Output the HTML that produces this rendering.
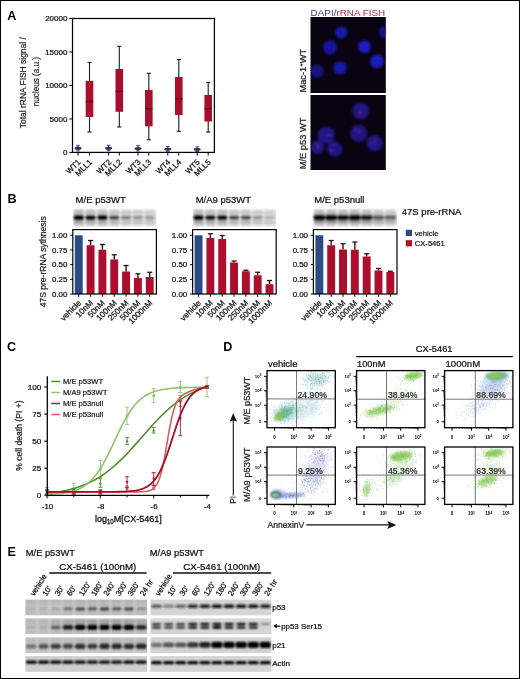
<!DOCTYPE html>
<html lang="en"><head><meta charset="utf-8"><title>Figure</title>
<style>html,body{margin:0;padding:0;background:#fff;}body{width:520px;height:679px;overflow:hidden;}svg{display:block;font-family:"Liberation Sans",sans-serif;}</style>
</head><body>
<svg width="520" height="679" viewBox="0 0 520 679">
<defs><filter id="blurN" x="-50%" y="-50%" width="200%" height="200%"><feGaussianBlur stdDeviation="1.5"/></filter>
<filter id="blurD" x="-50%" y="-50%" width="200%" height="200%"><feGaussianBlur stdDeviation="0.8"/></filter>
<clipPath id="clipT"><rect x="310.5" y="17" width="75.3" height="76"/></clipPath>
<clipPath id="clipBm"><rect x="310.5" y="95" width="75.3" height="75"/></clipPath>
<filter id="blurB" x="-20%" y="-50%" width="140%" height="200%"><feGaussianBlur stdDeviation="0.9"/></filter>
<linearGradient id="gstrip" x1="0" y1="0" x2="0" y2="1"><stop offset="0" stop-color="#fff"/><stop offset="0.2" stop-color="#e4e4e4"/><stop offset="0.8" stop-color="#e0e0e0"/><stop offset="1" stop-color="#fff"/></linearGradient>
<filter id="blurF1" x="-50%" y="-50%" width="200%" height="200%"><feGaussianBlur stdDeviation="0.85"/></filter>
<filter id="blurF2" x="-50%" y="-50%" width="200%" height="200%"><feGaussianBlur stdDeviation="1.6"/></filter>
<filter id="blurF3" x="-50%" y="-50%" width="200%" height="200%"><feGaussianBlur stdDeviation="3"/></filter>
<clipPath id="cf00"><rect x="267.0" y="370.6" width="68.3" height="57.1"/></clipPath>
<clipPath id="cf01"><rect x="267.0" y="447.0" width="68.3" height="57.4"/></clipPath>
<clipPath id="cf10"><rect x="356.6" y="370.6" width="68.3" height="57.1"/></clipPath>
<clipPath id="cf11"><rect x="356.6" y="447.0" width="68.3" height="57.4"/></clipPath>
<clipPath id="cf20"><rect x="444.6" y="370.6" width="68.3" height="57.1"/></clipPath>
<clipPath id="cf21"><rect x="444.6" y="447.0" width="68.3" height="57.4"/></clipPath>
<filter id="blurE" x="-10%" y="-60%" width="120%" height="220%"><feGaussianBlur stdDeviation="0.95"/></filter>
<clipPath id="cs1"><rect x="25.3" y="599.6" width="121.9" height="15.7"/></clipPath>
<clipPath id="cs2"><rect x="25.3" y="618.4" width="121.9" height="15.7"/></clipPath>
<clipPath id="cs3"><rect x="25.3" y="637.3" width="121.9" height="15.7"/></clipPath>
<clipPath id="cs4"><rect x="25.3" y="656.1" width="121.9" height="15.7"/></clipPath>
<clipPath id="cs5"><rect x="150.4" y="599.6" width="121.0" height="15.7"/></clipPath>
<clipPath id="cs6"><rect x="150.4" y="618.4" width="121.0" height="15.7"/></clipPath>
<clipPath id="cs7"><rect x="150.4" y="637.3" width="121.0" height="15.7"/></clipPath>
<clipPath id="cs8"><rect x="150.4" y="656.1" width="121.0" height="15.7"/></clipPath></defs>
<rect x="0" y="0" width="520" height="679" fill="#fff"/>
<g id="panelA">
<text transform="translate(7.30,20.20)" font-size="12.6" text-anchor="start" font-weight="bold" fill="#000">A</text>
<line x1="69.30" y1="152.40" x2="72.50" y2="152.40" stroke="#000" stroke-width="1"/>
<text transform="translate(67.40,155.15)" font-size="8.0" text-anchor="end" fill="#111" stroke="#111" stroke-width="0.24">0</text>
<line x1="69.30" y1="118.93" x2="72.50" y2="118.93" stroke="#000" stroke-width="1"/>
<text transform="translate(67.40,121.68)" font-size="8.0" text-anchor="end" fill="#111" stroke="#111" stroke-width="0.24">5000</text>
<line x1="69.30" y1="85.45" x2="72.50" y2="85.45" stroke="#000" stroke-width="1"/>
<text transform="translate(67.40,88.20)" font-size="8.0" text-anchor="end" fill="#111" stroke="#111" stroke-width="0.24">10000</text>
<line x1="69.30" y1="51.98" x2="72.50" y2="51.98" stroke="#000" stroke-width="1"/>
<text transform="translate(67.40,54.73)" font-size="8.0" text-anchor="end" fill="#111" stroke="#111" stroke-width="0.24">15000</text>
<line x1="69.30" y1="18.50" x2="72.50" y2="18.50" stroke="#000" stroke-width="1"/>
<text transform="translate(67.40,21.25)" font-size="8.0" text-anchor="end" fill="#111" stroke="#111" stroke-width="0.24">20000</text>
<text transform="translate(26.40,82.70) rotate(-90) scale(0.908,1)" font-size="9.3" text-anchor="middle" fill="#222" stroke="#222" stroke-width="0.2">Total rRNA FISH signal /</text>
<text transform="translate(38.90,81.60) rotate(-90) scale(0.872,1)" font-size="9.3" text-anchor="middle" fill="#222" stroke="#222" stroke-width="0.2">nucleus (a.u.)</text>
<line x1="89.50" y1="62.50" x2="89.50" y2="132.00" stroke="#1a1a1a" stroke-width="1.1"/>
<line x1="87.40" y1="62.50" x2="91.60" y2="62.50" stroke="#1a1a1a" stroke-width="1.1"/>
<line x1="87.40" y1="132.00" x2="91.60" y2="132.00" stroke="#1a1a1a" stroke-width="1.1"/>
<rect x="85.70" y="80.80" width="7.60" height="36.20" fill="#a80f2e" stroke="none" stroke-width="1"/>
<line x1="85.70" y1="101.50" x2="93.30" y2="101.50" stroke="#5e0a1c" stroke-width="1.3"/>
<line x1="119.30" y1="46.30" x2="119.30" y2="127.00" stroke="#1a1a1a" stroke-width="1.1"/>
<line x1="117.20" y1="46.30" x2="121.40" y2="46.30" stroke="#1a1a1a" stroke-width="1.1"/>
<line x1="117.20" y1="127.00" x2="121.40" y2="127.00" stroke="#1a1a1a" stroke-width="1.1"/>
<rect x="115.50" y="69.00" width="7.60" height="42.80" fill="#a80f2e" stroke="none" stroke-width="1"/>
<line x1="115.50" y1="91.30" x2="123.10" y2="91.30" stroke="#5e0a1c" stroke-width="1.3"/>
<line x1="148.80" y1="73.30" x2="148.80" y2="139.80" stroke="#1a1a1a" stroke-width="1.1"/>
<line x1="146.70" y1="73.30" x2="150.90" y2="73.30" stroke="#1a1a1a" stroke-width="1.1"/>
<line x1="146.70" y1="139.80" x2="150.90" y2="139.80" stroke="#1a1a1a" stroke-width="1.1"/>
<rect x="145.00" y="90.00" width="7.60" height="36.30" fill="#a80f2e" stroke="none" stroke-width="1"/>
<line x1="145.00" y1="108.80" x2="152.60" y2="108.80" stroke="#5e0a1c" stroke-width="1.3"/>
<line x1="178.80" y1="59.50" x2="178.80" y2="131.30" stroke="#1a1a1a" stroke-width="1.1"/>
<line x1="176.70" y1="59.50" x2="180.90" y2="59.50" stroke="#1a1a1a" stroke-width="1.1"/>
<line x1="176.70" y1="131.30" x2="180.90" y2="131.30" stroke="#1a1a1a" stroke-width="1.1"/>
<rect x="175.00" y="77.00" width="7.60" height="38.00" fill="#a80f2e" stroke="none" stroke-width="1"/>
<line x1="175.00" y1="98.80" x2="182.60" y2="98.80" stroke="#5e0a1c" stroke-width="1.3"/>
<line x1="208.20" y1="82.50" x2="208.20" y2="132.00" stroke="#1a1a1a" stroke-width="1.1"/>
<line x1="206.10" y1="82.50" x2="210.30" y2="82.50" stroke="#1a1a1a" stroke-width="1.1"/>
<line x1="206.10" y1="132.00" x2="210.30" y2="132.00" stroke="#1a1a1a" stroke-width="1.1"/>
<rect x="204.40" y="95.00" width="7.60" height="26.50" fill="#a80f2e" stroke="none" stroke-width="1"/>
<line x1="204.40" y1="108.80" x2="212.00" y2="108.80" stroke="#5e0a1c" stroke-width="1.3"/>
<line x1="78.00" y1="145.30" x2="78.00" y2="150.90" stroke="#27345e" stroke-width="1"/>
<line x1="76.20" y1="145.30" x2="79.80" y2="145.30" stroke="#27345e" stroke-width="0.9"/>
<line x1="76.20" y1="150.90" x2="79.80" y2="150.90" stroke="#27345e" stroke-width="0.9"/>
<ellipse cx="78" cy="148.30" rx="3.5" ry="1.70" fill="#27345e"/>
<line x1="108.60" y1="145.30" x2="108.60" y2="150.80" stroke="#27345e" stroke-width="1"/>
<line x1="106.80" y1="145.30" x2="110.40" y2="145.30" stroke="#27345e" stroke-width="0.9"/>
<line x1="106.80" y1="150.80" x2="110.40" y2="150.80" stroke="#27345e" stroke-width="0.9"/>
<ellipse cx="108.6" cy="148.30" rx="3.5" ry="1.70" fill="#27345e"/>
<line x1="138.00" y1="145.60" x2="138.00" y2="151.00" stroke="#27345e" stroke-width="1"/>
<line x1="136.20" y1="145.60" x2="139.80" y2="145.60" stroke="#27345e" stroke-width="0.9"/>
<line x1="136.20" y1="151.00" x2="139.80" y2="151.00" stroke="#27345e" stroke-width="0.9"/>
<ellipse cx="138" cy="148.55" rx="3.5" ry="1.65" fill="#27345e"/>
<line x1="167.80" y1="146.60" x2="167.80" y2="151.30" stroke="#27345e" stroke-width="1"/>
<line x1="166.00" y1="146.60" x2="169.60" y2="146.60" stroke="#27345e" stroke-width="0.9"/>
<line x1="166.00" y1="151.30" x2="169.60" y2="151.30" stroke="#27345e" stroke-width="0.9"/>
<ellipse cx="167.8" cy="149.15" rx="3.5" ry="1.45" fill="#27345e"/>
<line x1="197.20" y1="146.90" x2="197.20" y2="151.50" stroke="#27345e" stroke-width="1"/>
<line x1="195.40" y1="146.90" x2="199.00" y2="146.90" stroke="#27345e" stroke-width="0.9"/>
<line x1="195.40" y1="151.50" x2="199.00" y2="151.50" stroke="#27345e" stroke-width="0.9"/>
<ellipse cx="197.2" cy="149.40" rx="3.5" ry="1.40" fill="#27345e"/>
<rect x="72.50" y="18.50" width="141.90" height="133.90" fill="none" stroke="#000" stroke-width="1.25"/>
<line x1="78.00" y1="152.40" x2="78.00" y2="155.60" stroke="#000" stroke-width="1"/>
<text transform="translate(81.20,162.60) rotate(-45)" font-size="8.0" text-anchor="end" fill="#111" stroke="#111" stroke-width="0.24">WT1</text>
<line x1="108.60" y1="152.40" x2="108.60" y2="155.60" stroke="#000" stroke-width="1"/>
<text transform="translate(111.80,162.60) rotate(-45)" font-size="8.0" text-anchor="end" fill="#111" stroke="#111" stroke-width="0.24">WT2</text>
<line x1="138.00" y1="152.40" x2="138.00" y2="155.60" stroke="#000" stroke-width="1"/>
<text transform="translate(141.20,162.60) rotate(-45)" font-size="8.0" text-anchor="end" fill="#111" stroke="#111" stroke-width="0.24">WT3</text>
<line x1="167.80" y1="152.40" x2="167.80" y2="155.60" stroke="#000" stroke-width="1"/>
<text transform="translate(171.00,162.60) rotate(-45)" font-size="8.0" text-anchor="end" fill="#111" stroke="#111" stroke-width="0.24">WT4</text>
<line x1="197.20" y1="152.40" x2="197.20" y2="155.60" stroke="#000" stroke-width="1"/>
<text transform="translate(200.40,162.60) rotate(-45)" font-size="8.0" text-anchor="end" fill="#111" stroke="#111" stroke-width="0.24">WT5</text>
<line x1="89.50" y1="152.40" x2="89.50" y2="155.60" stroke="#000" stroke-width="1"/>
<text transform="translate(92.70,162.60) rotate(-45)" font-size="8.0" text-anchor="end" fill="#111" stroke="#111" stroke-width="0.24">MLL1</text>
<line x1="119.30" y1="152.40" x2="119.30" y2="155.60" stroke="#000" stroke-width="1"/>
<text transform="translate(122.50,162.60) rotate(-45)" font-size="8.0" text-anchor="end" fill="#111" stroke="#111" stroke-width="0.24">MLL2</text>
<line x1="148.80" y1="152.40" x2="148.80" y2="155.60" stroke="#000" stroke-width="1"/>
<text transform="translate(152.00,162.60) rotate(-45)" font-size="8.0" text-anchor="end" fill="#111" stroke="#111" stroke-width="0.24">MLL3</text>
<line x1="178.80" y1="152.40" x2="178.80" y2="155.60" stroke="#000" stroke-width="1"/>
<text transform="translate(182.00,162.60) rotate(-45)" font-size="8.0" text-anchor="end" fill="#111" stroke="#111" stroke-width="0.24">MLL4</text>
<line x1="208.20" y1="152.40" x2="208.20" y2="155.60" stroke="#000" stroke-width="1"/>
<text transform="translate(211.40,162.60) rotate(-45)" font-size="8.0" text-anchor="end" fill="#111" stroke="#111" stroke-width="0.24">MLL5</text>
</g>
<g id="panelA2">
<text transform="translate(310.6,15.5)" font-size="9.9"><tspan fill="#3a3885">DAPI/</tspan><tspan fill="#a22c56">rRNA FISH</tspan></text>
<rect x="310.50" y="17.00" width="75.30" height="76.00" fill="#090312" stroke="none" stroke-width="1"/>
<rect x="310.50" y="95.00" width="75.30" height="75.00" fill="#090312" stroke="none" stroke-width="1"/>
<g clip-path="url(#clipT)"><g filter="url(#blurN)">
<circle cx="341.25" cy="32.5" r="6" fill="#1b1dc0" opacity="0.9"/>
<circle cx="330" cy="47.5" r="7" fill="#191bb0" opacity="0.9"/>
<circle cx="364.5" cy="46.75" r="6.3" fill="#1c1fd0" opacity="0.95"/>
<circle cx="377" cy="61.25" r="6.9" fill="#1b1dc8" opacity="0.95"/>
<circle cx="340" cy="68" r="6.5" fill="#1a1cbc" opacity="0.9"/>
<circle cx="317" cy="71.25" r="6.5" fill="#16189c" opacity="0.8"/>
<circle cx="384.5" cy="32" r="5.5" fill="#181ab0" opacity="0.85"/>
</g></g>
<g clip-path="url(#clipBm)"><g filter="url(#blurN)">
<circle cx="360.7" cy="110.8" r="8.4" fill="#261ca4" opacity="0.8"/>
<circle cx="326.3" cy="135" r="8.6" fill="#261ca4" opacity="0.8"/>
<circle cx="358.6" cy="133.4" r="8.4" fill="#261ca4" opacity="0.8"/>
<circle cx="374.6" cy="143.2" r="8" fill="#261ca4" opacity="0.8"/>
<circle cx="317.5" cy="147.3" r="6.8" fill="#261ca4" opacity="0.8"/>
<circle cx="334.6" cy="148.8" r="7.6" fill="#261ca4" opacity="0.8"/>
</g><g filter="url(#blurD)">
<circle cx="360.9" cy="113.5" r="0.75" fill="#e0406a" opacity="0.85"/>
<circle cx="358.6" cy="113.0" r="0.75" fill="#e0406a" opacity="0.85"/>
<circle cx="360.5" cy="110.6" r="0.75" fill="#e0406a" opacity="0.85"/>
<circle cx="330.6" cy="135.4" r="0.75" fill="#e0406a" opacity="0.85"/>
<circle cx="326.2" cy="136.2" r="0.75" fill="#e0406a" opacity="0.85"/>
<circle cx="328.7" cy="134.9" r="0.75" fill="#e0406a" opacity="0.85"/>
<circle cx="359.8" cy="131.3" r="0.75" fill="#e0406a" opacity="0.85"/>
<circle cx="358.1" cy="132.8" r="0.75" fill="#e0406a" opacity="0.85"/>
<circle cx="355.7" cy="130.1" r="0.75" fill="#e0406a" opacity="0.85"/>
<circle cx="371.1" cy="142.7" r="0.75" fill="#e0406a" opacity="0.85"/>
<circle cx="374.5" cy="142.9" r="0.75" fill="#e0406a" opacity="0.85"/>
<circle cx="374.7" cy="140.4" r="0.75" fill="#e0406a" opacity="0.85"/>
<circle cx="317.5" cy="147.4" r="0.75" fill="#e0406a" opacity="0.85"/>
<circle cx="318.8" cy="145.9" r="0.75" fill="#e0406a" opacity="0.85"/>
<circle cx="316.8" cy="143.8" r="0.75" fill="#e0406a" opacity="0.85"/>
<circle cx="333.7" cy="144.7" r="0.75" fill="#e0406a" opacity="0.85"/>
<circle cx="331.7" cy="151.0" r="0.75" fill="#e0406a" opacity="0.85"/>
<circle cx="330.6" cy="150.3" r="0.75" fill="#e0406a" opacity="0.85"/>
</g></g>
<text transform="translate(305.60,92.60) rotate(-90)" font-size="9.3" text-anchor="start" fill="#222" stroke="#222" stroke-width="0.24">Mac-1<tspan font-size="6" dy="-2.5">+</tspan><tspan dy="2.5">WT</tspan></text>
<text transform="translate(305.60,169.30) rotate(-90)" font-size="9.3" text-anchor="start" fill="#222" stroke="#222" stroke-width="0.24">M/E p53 WT</text>
</g>
<g id="panelB">
<text transform="translate(7.40,203.30)" font-size="12.6" text-anchor="start" font-weight="bold" fill="#000">B</text>
<text transform="translate(45.50,261.80) rotate(-90) scale(0.9,1)" font-size="9.5" text-anchor="middle" fill="#222" stroke="#222" stroke-width="0.22">47S pre-rRNA sythnesis</text>
<text transform="translate(75.60,203.30)" font-size="9.5" text-anchor="start" fill="#111" stroke="#111" stroke-width="0.24">M/E p53WT</text>
<rect x="73.30" y="208.50" width="83.10" height="19.00" fill="url(#gstrip)" stroke="none" stroke-width="1"/>
<g filter="url(#blurB)">
<rect x="73.95" y="209.3" width="9.6" height="17.2" fill="#666" opacity="0.24"/>
<rect x="74.15" y="210" width="9.2" height="1.2" fill="#555" opacity="0.22"/>
<rect x="74.15" y="212.4" width="9.2" height="1.1" fill="#555" opacity="0.18"/>
<rect x="74.35" y="220.5" width="8.8" height="2.6" fill="#444" opacity="0.27"/>
<rect x="73.75" y="215.30" width="10.0" height="4.60" rx="2" fill="#000" opacity="1.00"/>
<rect x="85.78" y="209.3" width="9.6" height="17.2" fill="#666" opacity="0.22"/>
<rect x="85.98" y="210" width="9.2" height="1.2" fill="#555" opacity="0.21"/>
<rect x="85.98" y="212.4" width="9.2" height="1.1" fill="#555" opacity="0.17"/>
<rect x="86.18" y="220.5" width="8.8" height="2.6" fill="#444" opacity="0.25"/>
<rect x="85.58" y="215.40" width="10.0" height="4.40" rx="2" fill="#000" opacity="0.99"/>
<rect x="97.61" y="209.3" width="9.6" height="17.2" fill="#666" opacity="0.23"/>
<rect x="97.81" y="210" width="9.2" height="1.2" fill="#555" opacity="0.21"/>
<rect x="97.81" y="212.4" width="9.2" height="1.1" fill="#555" opacity="0.17"/>
<rect x="98.01" y="220.5" width="8.8" height="2.6" fill="#444" opacity="0.26"/>
<rect x="97.41" y="215.35" width="10.0" height="4.50" rx="2" fill="#000" opacity="1.00"/>
<rect x="109.44" y="209.3" width="9.6" height="17.2" fill="#666" opacity="0.18"/>
<rect x="109.64" y="210" width="9.2" height="1.2" fill="#555" opacity="0.17"/>
<rect x="109.64" y="212.4" width="9.2" height="1.1" fill="#555" opacity="0.14"/>
<rect x="109.84" y="220.5" width="8.8" height="2.6" fill="#444" opacity="0.18"/>
<rect x="109.24" y="215.70" width="10.0" height="3.80" rx="2" fill="#000" opacity="0.66"/>
<rect x="121.27" y="209.3" width="9.6" height="17.2" fill="#666" opacity="0.14"/>
<rect x="121.47" y="210" width="9.2" height="1.2" fill="#555" opacity="0.15"/>
<rect x="121.47" y="212.4" width="9.2" height="1.1" fill="#555" opacity="0.12"/>
<rect x="121.67" y="220.5" width="8.8" height="2.6" fill="#444" opacity="0.14"/>
<rect x="121.07" y="215.90" width="10.0" height="3.40" rx="2" fill="#000" opacity="0.44"/>
<rect x="133.10" y="209.3" width="9.6" height="17.2" fill="#666" opacity="0.13"/>
<rect x="133.30" y="210" width="9.2" height="1.2" fill="#555" opacity="0.14"/>
<rect x="133.30" y="212.4" width="9.2" height="1.1" fill="#555" opacity="0.11"/>
<rect x="133.50" y="220.5" width="8.8" height="2.6" fill="#444" opacity="0.12"/>
<rect x="132.90" y="216.00" width="10.0" height="3.20" rx="2" fill="#000" opacity="0.33"/>
<rect x="144.93" y="209.3" width="9.6" height="17.2" fill="#666" opacity="0.12"/>
<rect x="145.13" y="210" width="9.2" height="1.2" fill="#555" opacity="0.13"/>
<rect x="145.13" y="212.4" width="9.2" height="1.1" fill="#555" opacity="0.11"/>
<rect x="145.33" y="220.5" width="8.8" height="2.6" fill="#444" opacity="0.11"/>
<rect x="144.73" y="216.05" width="10.0" height="3.10" rx="2" fill="#000" opacity="0.28"/>
</g>
<rect x="74.80" y="235.30" width="7.90" height="58.70" fill="#2c4a86" stroke="none" stroke-width="1"/>
<line x1="90.58" y1="245.25" x2="90.58" y2="240.50" stroke="#3a0a14" stroke-width="1.4"/>
<line x1="88.08" y1="240.50" x2="93.08" y2="240.50" stroke="#3a0a14" stroke-width="1.3"/>
<rect x="86.63" y="245.25" width="7.90" height="48.75" fill="#ac0f2d" stroke="none" stroke-width="1"/>
<line x1="102.41" y1="249.75" x2="102.41" y2="244.50" stroke="#3a0a14" stroke-width="1.4"/>
<line x1="99.91" y1="244.50" x2="104.91" y2="244.50" stroke="#3a0a14" stroke-width="1.3"/>
<rect x="98.46" y="249.75" width="7.90" height="44.25" fill="#ac0f2d" stroke="none" stroke-width="1"/>
<line x1="114.24" y1="259.50" x2="114.24" y2="254.75" stroke="#3a0a14" stroke-width="1.4"/>
<line x1="111.74" y1="254.75" x2="116.74" y2="254.75" stroke="#3a0a14" stroke-width="1.3"/>
<rect x="110.29" y="259.50" width="7.90" height="34.50" fill="#ac0f2d" stroke="none" stroke-width="1"/>
<line x1="126.07" y1="271.50" x2="126.07" y2="265.50" stroke="#3a0a14" stroke-width="1.4"/>
<line x1="123.57" y1="265.50" x2="128.57" y2="265.50" stroke="#3a0a14" stroke-width="1.3"/>
<rect x="122.12" y="271.50" width="7.90" height="22.50" fill="#ac0f2d" stroke="none" stroke-width="1"/>
<line x1="137.90" y1="278.00" x2="137.90" y2="273.75" stroke="#3a0a14" stroke-width="1.4"/>
<line x1="135.40" y1="273.75" x2="140.40" y2="273.75" stroke="#3a0a14" stroke-width="1.3"/>
<rect x="133.95" y="278.00" width="7.90" height="16.00" fill="#ac0f2d" stroke="none" stroke-width="1"/>
<line x1="149.73" y1="277.00" x2="149.73" y2="272.25" stroke="#3a0a14" stroke-width="1.4"/>
<line x1="147.23" y1="272.25" x2="152.23" y2="272.25" stroke="#3a0a14" stroke-width="1.3"/>
<rect x="145.78" y="277.00" width="7.90" height="17.00" fill="#ac0f2d" stroke="none" stroke-width="1"/>
<rect x="72.80" y="229.60" width="83.60" height="64.40" fill="none" stroke="#000" stroke-width="1.2"/>
<line x1="78.75" y1="294.00" x2="78.75" y2="296.80" stroke="#000" stroke-width="1"/>
<text transform="translate(81.75,303.40) rotate(-45)" font-size="8.2" text-anchor="end" fill="#111" stroke="#111" stroke-width="0.24">vehicle</text>
<line x1="90.58" y1="294.00" x2="90.58" y2="296.80" stroke="#000" stroke-width="1"/>
<text transform="translate(93.58,303.40) rotate(-45)" font-size="8.2" text-anchor="end" fill="#111" stroke="#111" stroke-width="0.24">10nM</text>
<line x1="102.41" y1="294.00" x2="102.41" y2="296.80" stroke="#000" stroke-width="1"/>
<text transform="translate(105.41,303.40) rotate(-45)" font-size="8.2" text-anchor="end" fill="#111" stroke="#111" stroke-width="0.24">50nM</text>
<line x1="114.24" y1="294.00" x2="114.24" y2="296.80" stroke="#000" stroke-width="1"/>
<text transform="translate(117.24,303.40) rotate(-45)" font-size="8.2" text-anchor="end" fill="#111" stroke="#111" stroke-width="0.24">100nM</text>
<line x1="126.07" y1="294.00" x2="126.07" y2="296.80" stroke="#000" stroke-width="1"/>
<text transform="translate(129.07,303.40) rotate(-45)" font-size="8.2" text-anchor="end" fill="#111" stroke="#111" stroke-width="0.24">250nM</text>
<line x1="137.90" y1="294.00" x2="137.90" y2="296.80" stroke="#000" stroke-width="1"/>
<text transform="translate(140.90,303.40) rotate(-45)" font-size="8.2" text-anchor="end" fill="#111" stroke="#111" stroke-width="0.24">500nM</text>
<line x1="149.73" y1="294.00" x2="149.73" y2="296.80" stroke="#000" stroke-width="1"/>
<text transform="translate(152.73,303.40) rotate(-45)" font-size="8.2" text-anchor="end" fill="#111" stroke="#111" stroke-width="0.24">1000nM</text>
<line x1="70.20" y1="294.00" x2="72.80" y2="294.00" stroke="#000" stroke-width="1"/>
<text transform="translate(67.40,296.80)" font-size="7.9" text-anchor="end" fill="#111" stroke="#111" stroke-width="0.24">0.00</text>
<line x1="70.20" y1="279.32" x2="72.80" y2="279.32" stroke="#000" stroke-width="1"/>
<text transform="translate(67.40,282.12)" font-size="7.9" text-anchor="end" fill="#111" stroke="#111" stroke-width="0.24">0.25</text>
<line x1="70.20" y1="264.65" x2="72.80" y2="264.65" stroke="#000" stroke-width="1"/>
<text transform="translate(67.40,267.45)" font-size="7.9" text-anchor="end" fill="#111" stroke="#111" stroke-width="0.24">0.50</text>
<line x1="70.20" y1="249.98" x2="72.80" y2="249.98" stroke="#000" stroke-width="1"/>
<text transform="translate(67.40,252.78)" font-size="7.9" text-anchor="end" fill="#111" stroke="#111" stroke-width="0.24">0.75</text>
<line x1="70.20" y1="235.30" x2="72.80" y2="235.30" stroke="#000" stroke-width="1"/>
<text transform="translate(67.40,238.10)" font-size="7.9" text-anchor="end" fill="#111" stroke="#111" stroke-width="0.24">1.00</text>
<text transform="translate(195.70,203.30)" font-size="9.5" text-anchor="start" fill="#111" stroke="#111" stroke-width="0.24">M/A9 p53WT</text>
<rect x="193.10" y="208.50" width="83.10" height="19.00" fill="url(#gstrip)" stroke="none" stroke-width="1"/>
<g filter="url(#blurB)">
<rect x="193.75" y="209.3" width="9.6" height="17.2" fill="#666" opacity="0.24"/>
<rect x="193.95" y="210" width="9.2" height="1.2" fill="#555" opacity="0.22"/>
<rect x="193.95" y="212.4" width="9.2" height="1.1" fill="#555" opacity="0.18"/>
<rect x="194.15" y="220.5" width="8.8" height="2.6" fill="#444" opacity="0.27"/>
<rect x="193.55" y="215.30" width="10.0" height="4.60" rx="2" fill="#000" opacity="1.00"/>
<rect x="205.58" y="209.3" width="9.6" height="17.2" fill="#666" opacity="0.22"/>
<rect x="205.78" y="210" width="9.2" height="1.2" fill="#555" opacity="0.20"/>
<rect x="205.78" y="212.4" width="9.2" height="1.1" fill="#555" opacity="0.17"/>
<rect x="205.98" y="220.5" width="8.8" height="2.6" fill="#444" opacity="0.24"/>
<rect x="205.38" y="215.45" width="10.0" height="4.30" rx="2" fill="#000" opacity="0.94"/>
<rect x="217.41" y="209.3" width="9.6" height="17.2" fill="#666" opacity="0.22"/>
<rect x="217.61" y="210" width="9.2" height="1.2" fill="#555" opacity="0.21"/>
<rect x="217.61" y="212.4" width="9.2" height="1.1" fill="#555" opacity="0.17"/>
<rect x="217.81" y="220.5" width="8.8" height="2.6" fill="#444" opacity="0.25"/>
<rect x="217.21" y="215.40" width="10.0" height="4.40" rx="2" fill="#000" opacity="0.99"/>
<rect x="229.24" y="209.3" width="9.6" height="17.2" fill="#666" opacity="0.18"/>
<rect x="229.44" y="210" width="9.2" height="1.2" fill="#555" opacity="0.17"/>
<rect x="229.44" y="212.4" width="9.2" height="1.1" fill="#555" opacity="0.14"/>
<rect x="229.64" y="220.5" width="8.8" height="2.6" fill="#444" opacity="0.18"/>
<rect x="229.04" y="215.70" width="10.0" height="3.80" rx="2" fill="#000" opacity="0.66"/>
<rect x="241.07" y="209.3" width="9.6" height="17.2" fill="#666" opacity="0.17"/>
<rect x="241.27" y="210" width="9.2" height="1.2" fill="#555" opacity="0.17"/>
<rect x="241.27" y="212.4" width="9.2" height="1.1" fill="#555" opacity="0.14"/>
<rect x="241.47" y="220.5" width="8.8" height="2.6" fill="#444" opacity="0.17"/>
<rect x="240.87" y="215.75" width="10.0" height="3.70" rx="2" fill="#000" opacity="0.61"/>
<rect x="252.90" y="209.3" width="9.6" height="17.2" fill="#666" opacity="0.13"/>
<rect x="253.10" y="210" width="9.2" height="1.2" fill="#555" opacity="0.14"/>
<rect x="253.10" y="212.4" width="9.2" height="1.1" fill="#555" opacity="0.11"/>
<rect x="253.30" y="220.5" width="8.8" height="2.6" fill="#444" opacity="0.12"/>
<rect x="252.70" y="216.00" width="10.0" height="3.20" rx="2" fill="#000" opacity="0.33"/>
<rect x="264.73" y="209.3" width="9.6" height="17.2" fill="#666" opacity="0.10"/>
<rect x="264.93" y="210" width="9.2" height="1.2" fill="#555" opacity="0.12"/>
<rect x="264.93" y="212.4" width="9.2" height="1.1" fill="#555" opacity="0.10"/>
<rect x="265.13" y="220.5" width="8.8" height="2.6" fill="#444" opacity="0.08"/>
<rect x="264.53" y="216.15" width="10.0" height="2.90" rx="2" fill="#000" opacity="0.17"/>
</g>
<rect x="194.60" y="235.30" width="7.90" height="58.70" fill="#2c4a86" stroke="none" stroke-width="1"/>
<line x1="210.38" y1="238.00" x2="210.38" y2="233.75" stroke="#3a0a14" stroke-width="1.4"/>
<line x1="207.88" y1="233.75" x2="212.88" y2="233.75" stroke="#3a0a14" stroke-width="1.3"/>
<rect x="206.43" y="238.00" width="7.90" height="56.00" fill="#ac0f2d" stroke="none" stroke-width="1"/>
<line x1="222.21" y1="239.00" x2="222.21" y2="235.50" stroke="#3a0a14" stroke-width="1.4"/>
<line x1="219.71" y1="235.50" x2="224.71" y2="235.50" stroke="#3a0a14" stroke-width="1.3"/>
<rect x="218.26" y="239.00" width="7.90" height="55.00" fill="#ac0f2d" stroke="none" stroke-width="1"/>
<line x1="234.04" y1="262.50" x2="234.04" y2="261.00" stroke="#3a0a14" stroke-width="1.4"/>
<line x1="231.54" y1="261.00" x2="236.54" y2="261.00" stroke="#3a0a14" stroke-width="1.3"/>
<rect x="230.09" y="262.50" width="7.90" height="31.50" fill="#ac0f2d" stroke="none" stroke-width="1"/>
<line x1="245.87" y1="271.25" x2="245.87" y2="270.25" stroke="#3a0a14" stroke-width="1.4"/>
<line x1="243.37" y1="270.25" x2="248.37" y2="270.25" stroke="#3a0a14" stroke-width="1.3"/>
<rect x="241.92" y="271.25" width="7.90" height="22.75" fill="#ac0f2d" stroke="none" stroke-width="1"/>
<line x1="257.70" y1="275.25" x2="257.70" y2="272.25" stroke="#3a0a14" stroke-width="1.4"/>
<line x1="255.20" y1="272.25" x2="260.20" y2="272.25" stroke="#3a0a14" stroke-width="1.3"/>
<rect x="253.75" y="275.25" width="7.90" height="18.75" fill="#ac0f2d" stroke="none" stroke-width="1"/>
<line x1="269.53" y1="284.25" x2="269.53" y2="280.50" stroke="#3a0a14" stroke-width="1.4"/>
<line x1="267.03" y1="280.50" x2="272.03" y2="280.50" stroke="#3a0a14" stroke-width="1.3"/>
<rect x="265.58" y="284.25" width="7.90" height="9.75" fill="#ac0f2d" stroke="none" stroke-width="1"/>
<rect x="192.60" y="229.60" width="83.60" height="64.40" fill="none" stroke="#000" stroke-width="1.2"/>
<line x1="198.55" y1="294.00" x2="198.55" y2="296.80" stroke="#000" stroke-width="1"/>
<text transform="translate(201.55,303.40) rotate(-45)" font-size="8.2" text-anchor="end" fill="#111" stroke="#111" stroke-width="0.24">vehicle</text>
<line x1="210.38" y1="294.00" x2="210.38" y2="296.80" stroke="#000" stroke-width="1"/>
<text transform="translate(213.38,303.40) rotate(-45)" font-size="8.2" text-anchor="end" fill="#111" stroke="#111" stroke-width="0.24">10nM</text>
<line x1="222.21" y1="294.00" x2="222.21" y2="296.80" stroke="#000" stroke-width="1"/>
<text transform="translate(225.21,303.40) rotate(-45)" font-size="8.2" text-anchor="end" fill="#111" stroke="#111" stroke-width="0.24">50nM</text>
<line x1="234.04" y1="294.00" x2="234.04" y2="296.80" stroke="#000" stroke-width="1"/>
<text transform="translate(237.04,303.40) rotate(-45)" font-size="8.2" text-anchor="end" fill="#111" stroke="#111" stroke-width="0.24">100nM</text>
<line x1="245.87" y1="294.00" x2="245.87" y2="296.80" stroke="#000" stroke-width="1"/>
<text transform="translate(248.87,303.40) rotate(-45)" font-size="8.2" text-anchor="end" fill="#111" stroke="#111" stroke-width="0.24">250nM</text>
<line x1="257.70" y1="294.00" x2="257.70" y2="296.80" stroke="#000" stroke-width="1"/>
<text transform="translate(260.70,303.40) rotate(-45)" font-size="8.2" text-anchor="end" fill="#111" stroke="#111" stroke-width="0.24">500nM</text>
<line x1="269.53" y1="294.00" x2="269.53" y2="296.80" stroke="#000" stroke-width="1"/>
<text transform="translate(272.53,303.40) rotate(-45)" font-size="8.2" text-anchor="end" fill="#111" stroke="#111" stroke-width="0.24">1000nM</text>
<line x1="190.00" y1="294.00" x2="192.60" y2="294.00" stroke="#000" stroke-width="1"/>
<text transform="translate(187.20,296.80)" font-size="7.9" text-anchor="end" fill="#111" stroke="#111" stroke-width="0.24">0.00</text>
<line x1="190.00" y1="279.32" x2="192.60" y2="279.32" stroke="#000" stroke-width="1"/>
<text transform="translate(187.20,282.12)" font-size="7.9" text-anchor="end" fill="#111" stroke="#111" stroke-width="0.24">0.25</text>
<line x1="190.00" y1="264.65" x2="192.60" y2="264.65" stroke="#000" stroke-width="1"/>
<text transform="translate(187.20,267.45)" font-size="7.9" text-anchor="end" fill="#111" stroke="#111" stroke-width="0.24">0.50</text>
<line x1="190.00" y1="249.98" x2="192.60" y2="249.98" stroke="#000" stroke-width="1"/>
<text transform="translate(187.20,252.78)" font-size="7.9" text-anchor="end" fill="#111" stroke="#111" stroke-width="0.24">0.75</text>
<line x1="190.00" y1="235.30" x2="192.60" y2="235.30" stroke="#000" stroke-width="1"/>
<text transform="translate(187.20,238.10)" font-size="7.9" text-anchor="end" fill="#111" stroke="#111" stroke-width="0.24">1.00</text>
<text transform="translate(314.30,203.30)" font-size="9.5" text-anchor="start" fill="#111" stroke="#111" stroke-width="0.24">M/E p53null</text>
<rect x="313.90" y="208.50" width="83.10" height="19.00" fill="url(#gstrip)" stroke="none" stroke-width="1"/>
<g filter="url(#blurB)">
<rect x="314.55" y="209.3" width="9.6" height="17.2" fill="#666" opacity="0.24"/>
<rect x="314.75" y="210" width="9.2" height="1.2" fill="#555" opacity="0.22"/>
<rect x="314.75" y="212.4" width="9.2" height="1.1" fill="#555" opacity="0.18"/>
<rect x="314.95" y="220.5" width="8.8" height="2.6" fill="#444" opacity="0.27"/>
<rect x="313.43" y="214" width="11.83" height="8.5" fill="#333" opacity="0.30"/>
<rect x="313.65" y="215.30" width="11.4" height="4.60" rx="2" fill="#000" opacity="1.00"/>
<rect x="326.38" y="209.3" width="9.6" height="17.2" fill="#666" opacity="0.24"/>
<rect x="326.58" y="210" width="9.2" height="1.2" fill="#555" opacity="0.22"/>
<rect x="326.58" y="212.4" width="9.2" height="1.1" fill="#555" opacity="0.18"/>
<rect x="326.78" y="220.5" width="8.8" height="2.6" fill="#444" opacity="0.27"/>
<rect x="325.26" y="214" width="11.83" height="8.5" fill="#333" opacity="0.30"/>
<rect x="325.48" y="215.30" width="11.4" height="4.60" rx="2" fill="#000" opacity="1.00"/>
<rect x="338.21" y="209.3" width="9.6" height="17.2" fill="#666" opacity="0.22"/>
<rect x="338.41" y="210" width="9.2" height="1.2" fill="#555" opacity="0.21"/>
<rect x="338.41" y="212.4" width="9.2" height="1.1" fill="#555" opacity="0.17"/>
<rect x="338.61" y="220.5" width="8.8" height="2.6" fill="#444" opacity="0.25"/>
<rect x="337.09" y="214" width="11.83" height="8.5" fill="#333" opacity="0.27"/>
<rect x="337.31" y="215.40" width="11.4" height="4.40" rx="2" fill="#000" opacity="0.99"/>
<rect x="350.04" y="209.3" width="9.6" height="17.2" fill="#666" opacity="0.24"/>
<rect x="350.24" y="210" width="9.2" height="1.2" fill="#555" opacity="0.22"/>
<rect x="350.24" y="212.4" width="9.2" height="1.1" fill="#555" opacity="0.18"/>
<rect x="350.44" y="220.5" width="8.8" height="2.6" fill="#444" opacity="0.27"/>
<rect x="348.92" y="214" width="11.83" height="8.5" fill="#333" opacity="0.30"/>
<rect x="349.14" y="215.30" width="11.4" height="4.60" rx="2" fill="#000" opacity="1.00"/>
<rect x="361.87" y="209.3" width="9.6" height="17.2" fill="#666" opacity="0.21"/>
<rect x="362.07" y="210" width="9.2" height="1.2" fill="#555" opacity="0.20"/>
<rect x="362.07" y="212.4" width="9.2" height="1.1" fill="#555" opacity="0.16"/>
<rect x="362.27" y="220.5" width="8.8" height="2.6" fill="#444" opacity="0.23"/>
<rect x="360.75" y="214" width="11.83" height="8.5" fill="#333" opacity="0.24"/>
<rect x="360.97" y="215.50" width="11.4" height="4.20" rx="2" fill="#000" opacity="0.88"/>
<rect x="373.70" y="209.3" width="9.6" height="17.2" fill="#666" opacity="0.16"/>
<rect x="373.90" y="210" width="9.2" height="1.2" fill="#555" opacity="0.16"/>
<rect x="373.90" y="212.4" width="9.2" height="1.1" fill="#555" opacity="0.13"/>
<rect x="374.10" y="220.5" width="8.8" height="2.6" fill="#444" opacity="0.16"/>
<rect x="372.58" y="214" width="11.83" height="8.5" fill="#333" opacity="0.15"/>
<rect x="372.80" y="215.80" width="11.4" height="3.60" rx="2" fill="#000" opacity="0.55"/>
<rect x="385.53" y="209.3" width="9.6" height="17.2" fill="#666" opacity="0.15"/>
<rect x="385.73" y="210" width="9.2" height="1.2" fill="#555" opacity="0.15"/>
<rect x="385.73" y="212.4" width="9.2" height="1.1" fill="#555" opacity="0.12"/>
<rect x="385.93" y="220.5" width="8.8" height="2.6" fill="#444" opacity="0.15"/>
<rect x="384.41" y="214" width="11.83" height="8.5" fill="#333" opacity="0.14"/>
<rect x="384.63" y="215.85" width="11.4" height="3.50" rx="2" fill="#000" opacity="0.50"/>
</g>
<rect x="315.40" y="235.30" width="7.90" height="58.70" fill="#2c4a86" stroke="none" stroke-width="1"/>
<line x1="331.18" y1="245.25" x2="331.18" y2="240.50" stroke="#3a0a14" stroke-width="1.4"/>
<line x1="328.68" y1="240.50" x2="333.68" y2="240.50" stroke="#3a0a14" stroke-width="1.3"/>
<rect x="327.23" y="245.25" width="7.90" height="48.75" fill="#ac0f2d" stroke="none" stroke-width="1"/>
<line x1="343.01" y1="249.50" x2="343.01" y2="243.75" stroke="#3a0a14" stroke-width="1.4"/>
<line x1="340.51" y1="243.75" x2="345.51" y2="243.75" stroke="#3a0a14" stroke-width="1.3"/>
<rect x="339.06" y="249.50" width="7.90" height="44.50" fill="#ac0f2d" stroke="none" stroke-width="1"/>
<line x1="354.84" y1="249.75" x2="354.84" y2="242.00" stroke="#3a0a14" stroke-width="1.4"/>
<line x1="352.34" y1="242.00" x2="357.34" y2="242.00" stroke="#3a0a14" stroke-width="1.3"/>
<rect x="350.89" y="249.75" width="7.90" height="44.25" fill="#ac0f2d" stroke="none" stroke-width="1"/>
<line x1="366.67" y1="256.50" x2="366.67" y2="253.75" stroke="#3a0a14" stroke-width="1.4"/>
<line x1="364.17" y1="253.75" x2="369.17" y2="253.75" stroke="#3a0a14" stroke-width="1.3"/>
<rect x="362.72" y="256.50" width="7.90" height="37.50" fill="#ac0f2d" stroke="none" stroke-width="1"/>
<line x1="378.50" y1="270.50" x2="378.50" y2="268.50" stroke="#3a0a14" stroke-width="1.4"/>
<line x1="376.00" y1="268.50" x2="381.00" y2="268.50" stroke="#3a0a14" stroke-width="1.3"/>
<rect x="374.55" y="270.50" width="7.90" height="23.50" fill="#ac0f2d" stroke="none" stroke-width="1"/>
<line x1="390.33" y1="272.00" x2="390.33" y2="271.25" stroke="#3a0a14" stroke-width="1.4"/>
<line x1="387.83" y1="271.25" x2="392.83" y2="271.25" stroke="#3a0a14" stroke-width="1.3"/>
<rect x="386.38" y="272.00" width="7.90" height="22.00" fill="#ac0f2d" stroke="none" stroke-width="1"/>
<rect x="313.40" y="229.60" width="83.60" height="64.40" fill="none" stroke="#000" stroke-width="1.2"/>
<line x1="319.35" y1="294.00" x2="319.35" y2="296.80" stroke="#000" stroke-width="1"/>
<text transform="translate(322.35,303.40) rotate(-45)" font-size="8.2" text-anchor="end" fill="#111" stroke="#111" stroke-width="0.24">vehicle</text>
<line x1="331.18" y1="294.00" x2="331.18" y2="296.80" stroke="#000" stroke-width="1"/>
<text transform="translate(334.18,303.40) rotate(-45)" font-size="8.2" text-anchor="end" fill="#111" stroke="#111" stroke-width="0.24">10nM</text>
<line x1="343.01" y1="294.00" x2="343.01" y2="296.80" stroke="#000" stroke-width="1"/>
<text transform="translate(346.01,303.40) rotate(-45)" font-size="8.2" text-anchor="end" fill="#111" stroke="#111" stroke-width="0.24">50nM</text>
<line x1="354.84" y1="294.00" x2="354.84" y2="296.80" stroke="#000" stroke-width="1"/>
<text transform="translate(357.84,303.40) rotate(-45)" font-size="8.2" text-anchor="end" fill="#111" stroke="#111" stroke-width="0.24">100nM</text>
<line x1="366.67" y1="294.00" x2="366.67" y2="296.80" stroke="#000" stroke-width="1"/>
<text transform="translate(369.67,303.40) rotate(-45)" font-size="8.2" text-anchor="end" fill="#111" stroke="#111" stroke-width="0.24">250nM</text>
<line x1="378.50" y1="294.00" x2="378.50" y2="296.80" stroke="#000" stroke-width="1"/>
<text transform="translate(381.50,303.40) rotate(-45)" font-size="8.2" text-anchor="end" fill="#111" stroke="#111" stroke-width="0.24">500nM</text>
<line x1="390.33" y1="294.00" x2="390.33" y2="296.80" stroke="#000" stroke-width="1"/>
<text transform="translate(393.33,303.40) rotate(-45)" font-size="8.2" text-anchor="end" fill="#111" stroke="#111" stroke-width="0.24">1000nM</text>
<line x1="310.80" y1="294.00" x2="313.40" y2="294.00" stroke="#000" stroke-width="1"/>
<text transform="translate(308.00,296.80)" font-size="7.9" text-anchor="end" fill="#111" stroke="#111" stroke-width="0.24">0.00</text>
<line x1="310.80" y1="279.32" x2="313.40" y2="279.32" stroke="#000" stroke-width="1"/>
<text transform="translate(308.00,282.12)" font-size="7.9" text-anchor="end" fill="#111" stroke="#111" stroke-width="0.24">0.25</text>
<line x1="310.80" y1="264.65" x2="313.40" y2="264.65" stroke="#000" stroke-width="1"/>
<text transform="translate(308.00,267.45)" font-size="7.9" text-anchor="end" fill="#111" stroke="#111" stroke-width="0.24">0.50</text>
<line x1="310.80" y1="249.98" x2="313.40" y2="249.98" stroke="#000" stroke-width="1"/>
<text transform="translate(308.00,252.78)" font-size="7.9" text-anchor="end" fill="#111" stroke="#111" stroke-width="0.24">0.75</text>
<line x1="310.80" y1="235.30" x2="313.40" y2="235.30" stroke="#000" stroke-width="1"/>
<text transform="translate(308.00,238.10)" font-size="7.9" text-anchor="end" fill="#111" stroke="#111" stroke-width="0.24">1.00</text>
<text transform="translate(401.80,215.20)" font-size="9.5" text-anchor="start" fill="#111" stroke="#111" stroke-width="0.24">47S pre-rRNA</text>
<rect x="405.80" y="229.80" width="6.20" height="6.20" fill="#2c4a86" stroke="none" stroke-width="1"/>
<rect x="405.80" y="240.20" width="6.20" height="6.20" fill="#ac0f2d" stroke="none" stroke-width="1"/>
<text transform="translate(414.80,235.60)" font-size="7.6" text-anchor="start" fill="#222" stroke="#222" stroke-width="0.24">vehicle</text>
<text transform="translate(414.80,246.00)" font-size="7.6" text-anchor="start" fill="#222" stroke="#222" stroke-width="0.24">CX-5461</text>
</g>
<g id="panelC">
<text transform="translate(7.10,351.10)" font-size="12.6" text-anchor="start" font-weight="bold" fill="#000">C</text>
<line x1="47.10" y1="487.63" x2="47.10" y2="496.28" stroke="#8fc46a" stroke-width="0.9"/>
<line x1="45.10" y1="487.63" x2="49.10" y2="487.63" stroke="#8fc46a" stroke-width="0.9"/>
<line x1="45.10" y1="496.28" x2="49.10" y2="496.28" stroke="#8fc46a" stroke-width="0.9"/>
<rect x="45.80" y="490.65" width="2.6" height="2.6" fill="#8fc46a"/>
<line x1="73.75" y1="483.30" x2="73.75" y2="495.20" stroke="#8fc46a" stroke-width="0.9"/>
<line x1="71.75" y1="483.30" x2="75.75" y2="483.30" stroke="#8fc46a" stroke-width="0.9"/>
<line x1="71.75" y1="495.20" x2="75.75" y2="495.20" stroke="#8fc46a" stroke-width="0.9"/>
<rect x="72.45" y="487.95" width="2.6" height="2.6" fill="#8fc46a"/>
<line x1="100.40" y1="460.58" x2="100.40" y2="477.89" stroke="#8fc46a" stroke-width="0.9"/>
<line x1="98.40" y1="460.58" x2="102.40" y2="460.58" stroke="#8fc46a" stroke-width="0.9"/>
<line x1="98.40" y1="477.89" x2="102.40" y2="477.89" stroke="#8fc46a" stroke-width="0.9"/>
<rect x="99.10" y="467.93" width="2.6" height="2.6" fill="#8fc46a"/>
<line x1="127.05" y1="407.13" x2="127.05" y2="424.44" stroke="#8fc46a" stroke-width="0.9"/>
<line x1="125.05" y1="407.13" x2="129.05" y2="407.13" stroke="#8fc46a" stroke-width="0.9"/>
<line x1="125.05" y1="424.44" x2="129.05" y2="424.44" stroke="#8fc46a" stroke-width="0.9"/>
<rect x="125.75" y="414.48" width="2.6" height="2.6" fill="#8fc46a"/>
<line x1="153.70" y1="388.62" x2="153.70" y2="402.69" stroke="#8fc46a" stroke-width="0.9"/>
<line x1="151.70" y1="388.62" x2="155.70" y2="388.62" stroke="#8fc46a" stroke-width="0.9"/>
<line x1="151.70" y1="402.69" x2="155.70" y2="402.69" stroke="#8fc46a" stroke-width="0.9"/>
<rect x="152.40" y="394.36" width="2.6" height="2.6" fill="#8fc46a"/>
<line x1="180.35" y1="381.59" x2="180.35" y2="392.41" stroke="#8fc46a" stroke-width="0.9"/>
<line x1="178.35" y1="381.59" x2="182.35" y2="381.59" stroke="#8fc46a" stroke-width="0.9"/>
<line x1="178.35" y1="392.41" x2="182.35" y2="392.41" stroke="#8fc46a" stroke-width="0.9"/>
<rect x="179.05" y="385.70" width="2.6" height="2.6" fill="#8fc46a"/>
<line x1="207.00" y1="377.26" x2="207.00" y2="396.74" stroke="#8fc46a" stroke-width="0.9"/>
<line x1="205.00" y1="377.26" x2="209.00" y2="377.26" stroke="#8fc46a" stroke-width="0.9"/>
<line x1="205.00" y1="396.74" x2="209.00" y2="396.74" stroke="#8fc46a" stroke-width="0.9"/>
<rect x="205.70" y="385.70" width="2.6" height="2.6" fill="#8fc46a"/>
<line x1="100.40" y1="478.65" x2="100.40" y2="487.30" stroke="#4f8f2f" stroke-width="0.9"/>
<line x1="98.40" y1="478.65" x2="102.40" y2="478.65" stroke="#4f8f2f" stroke-width="0.9"/>
<line x1="98.40" y1="487.30" x2="102.40" y2="487.30" stroke="#4f8f2f" stroke-width="0.9"/>
<path d="M98.80 484.17L102.00 484.17L100.40 481.37Z" fill="#4f8f2f"/>
<line x1="127.05" y1="437.64" x2="127.05" y2="444.56" stroke="#4f8f2f" stroke-width="0.9"/>
<line x1="125.05" y1="437.64" x2="129.05" y2="437.64" stroke="#4f8f2f" stroke-width="0.9"/>
<line x1="125.05" y1="444.56" x2="129.05" y2="444.56" stroke="#4f8f2f" stroke-width="0.9"/>
<path d="M125.45 442.30L128.65 442.30L127.05 439.50Z" fill="#4f8f2f"/>
<line x1="153.70" y1="427.47" x2="153.70" y2="433.09" stroke="#4f8f2f" stroke-width="0.9"/>
<line x1="151.70" y1="427.47" x2="155.70" y2="427.47" stroke="#4f8f2f" stroke-width="0.9"/>
<line x1="151.70" y1="433.09" x2="155.70" y2="433.09" stroke="#4f8f2f" stroke-width="0.9"/>
<path d="M152.10 431.48L155.30 431.48L153.70 428.68Z" fill="#4f8f2f"/>
<line x1="207.00" y1="385.92" x2="207.00" y2="388.08" stroke="#4f8f2f" stroke-width="0.9"/>
<line x1="205.00" y1="385.92" x2="209.00" y2="385.92" stroke="#4f8f2f" stroke-width="0.9"/>
<line x1="205.00" y1="388.08" x2="209.00" y2="388.08" stroke="#4f8f2f" stroke-width="0.9"/>
<path d="M205.40 388.20L208.60 388.20L207.00 385.40Z" fill="#4f8f2f"/>
<line x1="47.10" y1="490.33" x2="47.10" y2="493.58" stroke="#d4625c" stroke-width="0.9"/>
<line x1="45.10" y1="490.33" x2="49.10" y2="490.33" stroke="#d4625c" stroke-width="0.9"/>
<line x1="45.10" y1="493.58" x2="49.10" y2="493.58" stroke="#d4625c" stroke-width="0.9"/>
<rect x="45.80" y="490.65" width="2.6" height="2.6" fill="#d4625c"/>
<line x1="73.75" y1="490.33" x2="73.75" y2="493.58" stroke="#d4625c" stroke-width="0.9"/>
<line x1="71.75" y1="490.33" x2="75.75" y2="490.33" stroke="#d4625c" stroke-width="0.9"/>
<line x1="71.75" y1="493.58" x2="75.75" y2="493.58" stroke="#d4625c" stroke-width="0.9"/>
<rect x="72.45" y="490.65" width="2.6" height="2.6" fill="#d4625c"/>
<line x1="100.40" y1="490.33" x2="100.40" y2="493.58" stroke="#d4625c" stroke-width="0.9"/>
<line x1="98.40" y1="490.33" x2="102.40" y2="490.33" stroke="#d4625c" stroke-width="0.9"/>
<line x1="98.40" y1="493.58" x2="102.40" y2="493.58" stroke="#d4625c" stroke-width="0.9"/>
<rect x="99.10" y="490.65" width="2.6" height="2.6" fill="#d4625c"/>
<line x1="127.05" y1="486.00" x2="127.05" y2="491.41" stroke="#d4625c" stroke-width="0.9"/>
<line x1="125.05" y1="486.00" x2="129.05" y2="486.00" stroke="#d4625c" stroke-width="0.9"/>
<line x1="125.05" y1="491.41" x2="129.05" y2="491.41" stroke="#d4625c" stroke-width="0.9"/>
<rect x="125.75" y="487.41" width="2.6" height="2.6" fill="#d4625c"/>
<line x1="153.70" y1="485.46" x2="153.70" y2="489.79" stroke="#d4625c" stroke-width="0.9"/>
<line x1="151.70" y1="485.46" x2="155.70" y2="485.46" stroke="#d4625c" stroke-width="0.9"/>
<line x1="151.70" y1="489.79" x2="155.70" y2="489.79" stroke="#d4625c" stroke-width="0.9"/>
<rect x="152.40" y="486.33" width="2.6" height="2.6" fill="#d4625c"/>
<line x1="180.35" y1="395.66" x2="180.35" y2="406.48" stroke="#d4625c" stroke-width="0.9"/>
<line x1="178.35" y1="395.66" x2="182.35" y2="395.66" stroke="#d4625c" stroke-width="0.9"/>
<line x1="178.35" y1="406.48" x2="182.35" y2="406.48" stroke="#d4625c" stroke-width="0.9"/>
<rect x="179.05" y="399.77" width="2.6" height="2.6" fill="#d4625c"/>
<line x1="207.00" y1="385.92" x2="207.00" y2="388.08" stroke="#d4625c" stroke-width="0.9"/>
<line x1="205.00" y1="385.92" x2="209.00" y2="385.92" stroke="#d4625c" stroke-width="0.9"/>
<line x1="205.00" y1="388.08" x2="209.00" y2="388.08" stroke="#d4625c" stroke-width="0.9"/>
<rect x="205.70" y="385.70" width="2.6" height="2.6" fill="#d4625c"/>
<line x1="47.10" y1="489.79" x2="47.10" y2="494.12" stroke="#a5102e" stroke-width="0.9"/>
<line x1="45.10" y1="489.79" x2="49.10" y2="489.79" stroke="#a5102e" stroke-width="0.9"/>
<line x1="45.10" y1="494.12" x2="49.10" y2="494.12" stroke="#a5102e" stroke-width="0.9"/>
<path d="M45.50 490.75L48.70 490.75L47.10 493.55Z" fill="#a5102e"/>
<line x1="73.75" y1="489.79" x2="73.75" y2="494.12" stroke="#a5102e" stroke-width="0.9"/>
<line x1="71.75" y1="489.79" x2="75.75" y2="489.79" stroke="#a5102e" stroke-width="0.9"/>
<line x1="71.75" y1="494.12" x2="75.75" y2="494.12" stroke="#a5102e" stroke-width="0.9"/>
<path d="M72.15 490.75L75.35 490.75L73.75 493.55Z" fill="#a5102e"/>
<line x1="100.40" y1="489.79" x2="100.40" y2="494.12" stroke="#a5102e" stroke-width="0.9"/>
<line x1="98.40" y1="489.79" x2="102.40" y2="489.79" stroke="#a5102e" stroke-width="0.9"/>
<line x1="98.40" y1="494.12" x2="102.40" y2="494.12" stroke="#a5102e" stroke-width="0.9"/>
<path d="M98.80 490.75L102.00 490.75L100.40 493.55Z" fill="#a5102e"/>
<line x1="127.05" y1="476.81" x2="127.05" y2="487.63" stroke="#a5102e" stroke-width="0.9"/>
<line x1="125.05" y1="476.81" x2="129.05" y2="476.81" stroke="#a5102e" stroke-width="0.9"/>
<line x1="125.05" y1="487.63" x2="129.05" y2="487.63" stroke="#a5102e" stroke-width="0.9"/>
<path d="M125.45 481.02L128.65 481.02L127.05 483.82Z" fill="#a5102e"/>
<line x1="153.70" y1="472.69" x2="153.70" y2="485.25" stroke="#a5102e" stroke-width="0.9"/>
<line x1="151.70" y1="472.69" x2="155.70" y2="472.69" stroke="#a5102e" stroke-width="0.9"/>
<line x1="151.70" y1="485.25" x2="155.70" y2="485.25" stroke="#a5102e" stroke-width="0.9"/>
<path d="M152.10 477.77L155.30 477.77L153.70 480.57Z" fill="#a5102e"/>
<line x1="180.35" y1="401.07" x2="180.35" y2="435.69" stroke="#a5102e" stroke-width="0.9"/>
<line x1="178.35" y1="401.07" x2="182.35" y2="401.07" stroke="#a5102e" stroke-width="0.9"/>
<line x1="178.35" y1="435.69" x2="182.35" y2="435.69" stroke="#a5102e" stroke-width="0.9"/>
<path d="M178.75 417.18L181.95 417.18L180.35 419.98Z" fill="#a5102e"/>
<line x1="207.00" y1="385.92" x2="207.00" y2="388.08" stroke="#a5102e" stroke-width="0.9"/>
<line x1="205.00" y1="385.92" x2="209.00" y2="385.92" stroke="#a5102e" stroke-width="0.9"/>
<line x1="205.00" y1="388.08" x2="209.00" y2="388.08" stroke="#a5102e" stroke-width="0.9"/>
<path d="M205.40 385.80L208.60 385.80L207.00 388.60Z" fill="#a5102e"/>
<polyline points="47.10,493.62 48.43,493.46 49.76,493.29 51.10,493.12 52.43,492.93 53.76,492.74 55.10,492.54 56.43,492.33 57.76,492.11 59.09,491.88 60.43,491.64 61.76,491.38 63.09,491.12 64.42,490.84 65.75,490.55 67.09,490.25 68.42,489.93 69.75,489.60 71.09,489.25 72.42,488.89 73.75,488.51 75.08,488.12 76.41,487.71 77.75,487.28 79.08,486.83 80.41,486.36 81.75,485.87 83.08,485.36 84.41,484.83 85.74,484.27 87.08,483.70 88.41,483.10 89.74,482.47 91.07,481.82 92.40,481.15 93.74,480.45 95.07,479.72 96.40,478.97 97.74,478.18 99.07,477.37 100.40,476.53 101.73,475.67 103.06,474.77 104.40,473.84 105.73,472.88 107.06,471.90 108.39,470.88 109.73,469.83 111.06,468.75 112.39,467.65 113.73,466.51 115.06,465.34 116.39,464.15 117.72,462.92 119.06,461.67 120.39,460.39 121.72,459.09 123.05,457.76 124.39,456.41 125.72,455.03 127.05,453.63 128.38,452.22 129.71,450.78 131.05,449.33 132.38,447.86 133.71,446.38 135.05,444.88 136.38,443.38 137.71,441.87 139.04,440.35 140.38,438.83 141.71,437.30 143.04,435.78 144.37,434.26 145.71,432.74 147.04,431.23 148.37,429.72 149.70,428.23 151.04,426.75 152.37,425.28 153.70,423.82 155.03,422.39 156.37,420.97 157.70,419.57 159.03,418.20 160.36,416.84 161.69,415.51 163.03,414.21 164.36,412.93 165.69,411.68 167.03,410.46 168.36,409.26 169.69,408.09 171.02,406.96 172.36,405.85 173.69,404.77 175.02,403.72 176.35,402.71 177.69,401.72 179.02,400.76 180.35,399.84 181.68,398.94 183.01,398.07 184.35,397.23 185.68,396.42 187.01,395.64 188.34,394.88 189.68,394.16 191.01,393.46 192.34,392.78 193.68,392.13 195.01,391.51 196.34,390.91 197.67,390.33 199.00,389.78 200.34,389.25 201.67,388.74 203.00,388.25 204.34,387.78 205.67,387.33 207.00,386.90" fill="none" stroke="#4f8f2f" stroke-width="1.6" stroke-linejoin="round" stroke-linecap="round"/>
<polyline points="47.10,494.37 48.43,494.32 49.76,494.25 51.10,494.18 52.43,494.11 53.76,494.02 55.10,493.93 56.43,493.82 57.76,493.71 59.09,493.58 60.43,493.43 61.76,493.28 63.09,493.10 64.42,492.91 65.75,492.69 67.09,492.45 68.42,492.19 69.75,491.90 71.09,491.57 72.42,491.22 73.75,490.82 75.08,490.39 76.41,489.91 77.75,489.38 79.08,488.80 80.41,488.17 81.75,487.47 83.08,486.71 84.41,485.87 85.74,484.96 87.08,483.96 88.41,482.88 89.74,481.70 91.07,480.43 92.40,479.05 93.74,477.56 95.07,475.97 96.40,474.26 97.74,472.44 99.07,470.50 100.40,468.44 101.73,466.28 103.06,464.00 104.40,461.61 105.73,459.13 107.06,456.56 108.39,453.91 109.73,451.19 111.06,448.41 112.39,445.60 113.73,442.76 115.06,439.91 116.39,437.06 117.72,434.24 119.06,431.46 120.39,428.72 121.72,426.06 123.05,423.47 124.39,420.97 125.72,418.56 127.05,416.26 128.38,414.07 129.71,411.99 131.05,410.03 132.38,408.19 133.71,406.45 135.05,404.84 136.38,403.33 137.71,401.93 139.04,400.64 140.38,399.44 141.71,398.34 143.04,397.33 144.37,396.40 145.71,395.55 147.04,394.77 148.37,394.06 149.70,393.41 151.04,392.82 152.37,392.28 153.70,391.80 155.03,391.35 156.37,390.95 157.70,390.59 159.03,390.26 160.36,389.96 161.69,389.69 163.03,389.45 164.36,389.23 165.69,389.03 167.03,388.85 168.36,388.69 169.69,388.54 171.02,388.41 172.36,388.29 173.69,388.18 175.02,388.09 176.35,388.00 177.69,387.92 179.02,387.85 180.35,387.79 181.68,387.73 183.01,387.68 184.35,387.63 185.68,387.59 187.01,387.55 188.34,387.52 189.68,387.49 191.01,387.46 192.34,387.44 193.68,387.42 195.01,387.40 196.34,387.38 197.67,387.36 199.00,387.35 200.34,387.33 201.67,387.32 203.00,387.31 204.34,387.30 205.67,387.29 207.00,387.29" fill="none" stroke="#8fc46a" stroke-width="1.6" stroke-linejoin="round" stroke-linecap="round"/>
<polyline points="47.10,491.95 48.43,491.95 49.76,491.95 51.10,491.95 52.43,491.95 53.76,491.95 55.10,491.95 56.43,491.95 57.76,491.95 59.09,491.95 60.43,491.95 61.76,491.95 63.09,491.95 64.42,491.95 65.75,491.95 67.09,491.95 68.42,491.95 69.75,491.95 71.09,491.95 72.42,491.95 73.75,491.95 75.08,491.95 76.41,491.95 77.75,491.95 79.08,491.95 80.41,491.95 81.75,491.95 83.08,491.95 84.41,491.95 85.74,491.95 87.08,491.95 88.41,491.95 89.74,491.95 91.07,491.95 92.40,491.95 93.74,491.95 95.07,491.95 96.40,491.95 97.74,491.95 99.07,491.95 100.40,491.95 101.73,491.95 103.06,491.95 104.40,491.95 105.73,491.95 107.06,491.95 108.39,491.95 109.73,491.95 111.06,491.95 112.39,491.95 113.73,491.95 115.06,491.95 116.39,491.95 117.72,491.95 119.06,491.95 120.39,491.95 121.72,491.95 123.05,491.95 124.39,491.95 125.72,491.95 127.05,491.95 128.38,491.95 129.71,491.94 131.05,491.94 132.38,491.93 133.71,491.92 135.05,491.91 136.38,491.89 137.71,491.87 139.04,491.84 140.38,491.80 141.71,491.74 143.04,491.66 144.37,491.55 145.71,491.39 147.04,491.18 148.37,490.89 149.70,490.49 151.04,489.95 152.37,489.21 153.70,488.21 155.03,486.85 156.37,485.05 157.70,482.68 159.03,479.60 160.36,475.68 161.69,470.83 163.03,465.01 164.36,458.29 165.69,450.86 167.03,443.04 168.36,435.21 169.69,427.76 171.02,421.01 172.36,415.14 173.69,410.23 175.02,406.24 176.35,403.06 177.69,400.56 179.02,398.61 180.35,397.08 181.68,395.86 183.01,394.87 184.35,394.04 185.68,393.31 187.01,392.66 188.34,392.06 189.68,391.50 191.01,390.97 192.34,390.47 193.68,390.00 195.01,389.56 196.34,389.17 197.67,388.82 199.00,388.52 200.34,388.25 201.67,388.03 203.00,387.84 204.34,387.68 205.67,387.55 207.00,387.44" fill="none" stroke="#d4625c" stroke-width="1.6" stroke-linejoin="round" stroke-linecap="round"/>
<polyline points="47.10,491.95 48.43,491.95 49.76,491.95 51.10,491.95 52.43,491.95 53.76,491.95 55.10,491.95 56.43,491.95 57.76,491.95 59.09,491.95 60.43,491.95 61.76,491.95 63.09,491.95 64.42,491.95 65.75,491.95 67.09,491.95 68.42,491.95 69.75,491.95 71.09,491.95 72.42,491.95 73.75,491.95 75.08,491.95 76.41,491.95 77.75,491.95 79.08,491.95 80.41,491.95 81.75,491.95 83.08,491.95 84.41,491.95 85.74,491.95 87.08,491.95 88.41,491.95 89.74,491.95 91.07,491.95 92.40,491.94 93.74,491.94 95.07,491.94 96.40,491.94 97.74,491.94 99.07,491.93 100.40,491.93 101.73,491.93 103.06,491.92 104.40,491.92 105.73,491.91 107.06,491.90 108.39,491.89 109.73,491.88 111.06,491.87 112.39,491.86 113.73,491.84 115.06,491.82 116.39,491.80 117.72,491.77 119.06,491.74 120.39,491.70 121.72,491.66 123.05,491.61 124.39,491.56 125.72,491.49 127.05,491.41 128.38,491.32 129.71,491.22 131.05,491.10 132.38,490.95 133.71,490.79 135.05,490.59 136.38,490.37 137.71,490.10 139.04,489.80 140.38,489.44 141.71,489.03 143.04,488.56 144.37,488.01 145.71,487.37 147.04,486.64 148.37,485.80 149.70,484.83 151.04,483.73 152.37,482.47 153.70,481.04 155.03,479.41 156.37,477.59 157.70,475.54 159.03,473.26 160.36,470.74 161.69,467.98 163.03,464.96 164.36,461.70 165.69,458.22 167.03,454.53 168.36,450.66 169.69,446.65 171.02,442.55 172.36,438.39 173.69,434.24 175.02,430.14 176.35,426.13 177.69,422.26 179.02,418.57 180.35,415.09 181.68,411.83 183.01,408.81 184.35,406.05 185.68,403.53 187.01,401.25 188.34,399.20 189.68,397.38 191.01,395.75 192.34,394.32 193.68,393.06 195.01,391.96 196.34,390.99 197.67,390.15 199.00,389.42 200.34,388.78 201.67,388.23 203.00,387.76 204.34,387.35 205.67,386.99 207.00,386.69" fill="none" stroke="#a5102e" stroke-width="1.8" stroke-linejoin="round" stroke-linecap="round"/>
<line x1="47.30" y1="376.20" x2="47.30" y2="495.80" stroke="#000" stroke-width="1.3"/>
<line x1="46.70" y1="495.30" x2="209.40" y2="495.30" stroke="#000" stroke-width="1.3"/>
<line x1="44.30" y1="495.20" x2="47.30" y2="495.20" stroke="#111" stroke-width="1.2"/>
<text transform="translate(41.30,498.05)" font-size="8.1" text-anchor="end" fill="#111" stroke="#111" stroke-width="0.24">0</text>
<line x1="44.30" y1="468.15" x2="47.30" y2="468.15" stroke="#111" stroke-width="1.2"/>
<text transform="translate(41.30,471.00)" font-size="8.1" text-anchor="end" fill="#111" stroke="#111" stroke-width="0.24">25</text>
<line x1="44.30" y1="441.10" x2="47.30" y2="441.10" stroke="#111" stroke-width="1.2"/>
<text transform="translate(41.30,443.95)" font-size="8.1" text-anchor="end" fill="#111" stroke="#111" stroke-width="0.24">50</text>
<line x1="44.30" y1="414.05" x2="47.30" y2="414.05" stroke="#111" stroke-width="1.2"/>
<text transform="translate(41.30,416.90)" font-size="8.1" text-anchor="end" fill="#111" stroke="#111" stroke-width="0.24">75</text>
<line x1="44.30" y1="387.00" x2="47.30" y2="387.00" stroke="#111" stroke-width="1.2"/>
<text transform="translate(41.30,389.85)" font-size="8.1" text-anchor="end" fill="#111" stroke="#111" stroke-width="0.24">100</text>
<line x1="47.10" y1="495.30" x2="47.10" y2="498.40" stroke="#111" stroke-width="1"/>
<line x1="73.75" y1="495.30" x2="73.75" y2="497.40" stroke="#111" stroke-width="1"/>
<line x1="100.40" y1="495.30" x2="100.40" y2="498.40" stroke="#111" stroke-width="1"/>
<line x1="127.05" y1="495.30" x2="127.05" y2="497.40" stroke="#111" stroke-width="1"/>
<line x1="153.70" y1="495.30" x2="153.70" y2="498.40" stroke="#111" stroke-width="1"/>
<line x1="180.35" y1="495.30" x2="180.35" y2="497.40" stroke="#111" stroke-width="1"/>
<line x1="207.00" y1="495.30" x2="207.00" y2="498.40" stroke="#111" stroke-width="1"/>
<text transform="translate(47.50,508.90)" font-size="7.9" text-anchor="middle" fill="#111" stroke="#111" stroke-width="0.24">-10</text>
<text transform="translate(100.80,508.90)" font-size="7.9" text-anchor="middle" fill="#111" stroke="#111" stroke-width="0.24">-8</text>
<text transform="translate(154.10,508.90)" font-size="7.9" text-anchor="middle" fill="#111" stroke="#111" stroke-width="0.24">-6</text>
<text transform="translate(207.40,508.90)" font-size="7.9" text-anchor="middle" fill="#111" stroke="#111" stroke-width="0.24">-4</text>
<text transform="translate(22.10,435.60) rotate(-90) scale(0.925,1)" font-size="9.3" text-anchor="middle" fill="#222" stroke="#222" stroke-width="0.22">% cell death (PI +)</text>
<text transform="translate(95,521.8) scale(0.94,1)" font-size="9.6" fill="#111" stroke="#111" stroke-width="0.3">log<tspan font-size="6.4" dy="2">10</tspan><tspan dy="-2">M[CX-5461]</tspan></text>
<line x1="51.30" y1="381.50" x2="60.00" y2="381.50" stroke="#4f8f2f" stroke-width="1.5"/>
<text transform="translate(63.00,384.20)" font-size="7.6" text-anchor="start" fill="#222" stroke="#222" stroke-width="0.24">M/E p53WT</text>
<line x1="51.30" y1="392.50" x2="60.00" y2="392.50" stroke="#8fc46a" stroke-width="1.5"/>
<text transform="translate(63.00,395.20)" font-size="7.6" text-anchor="start" fill="#222" stroke="#222" stroke-width="0.24">M/A9 p53WT</text>
<line x1="51.30" y1="403.50" x2="60.00" y2="403.50" stroke="#a5102e" stroke-width="1.5"/>
<text transform="translate(63.00,406.20)" font-size="7.6" text-anchor="start" fill="#222" stroke="#222" stroke-width="0.24">M/E p53null</text>
<line x1="51.30" y1="414.50" x2="60.00" y2="414.50" stroke="#d4625c" stroke-width="1.5"/>
<text transform="translate(63.00,417.20)" font-size="7.6" text-anchor="start" fill="#222" stroke="#222" stroke-width="0.24">M/E p53null</text>
</g>
<g id="panelD">
<text transform="translate(223.20,351.20)" font-size="12.6" text-anchor="start" font-weight="bold" fill="#000">D</text>
<text transform="translate(415.80,351.80)" font-size="9.3" text-anchor="start" fill="#111" stroke="#111" stroke-width="0.24">CX-5461</text>
<line x1="356.20" y1="356.70" x2="512.80" y2="356.70" stroke="#000" stroke-width="1.3"/>
<text transform="translate(267.90,366.90)" font-size="9.5" text-anchor="start" fill="#111" stroke="#111" stroke-width="0.24">vehicle</text>
<text transform="translate(357.00,366.60)" font-size="9.3" text-anchor="start" fill="#111" stroke="#111" stroke-width="0.24">100nM</text>
<text transform="translate(445.50,366.60)" font-size="9.6" text-anchor="start" fill="#111" stroke="#111" stroke-width="0.24">1000nM</text>
<g clip-path="url(#cf00)">
<ellipse cx="300.0" cy="412.0" rx="20" ry="7" fill="#9cc8d4" opacity="0.3" filter="url(#blurF3)" transform="rotate(-20 300.0 412.0)"/>
<ellipse cx="317.0" cy="379.0" rx="11" ry="6" fill="#58a8a8" opacity="0.3" filter="url(#blurF3)" transform="rotate(-5 317.0 379.0)"/>
<ellipse cx="312.0" cy="396.0" rx="10" ry="12" fill="#9cc8d4" opacity="0.12" filter="url(#blurF3)"/>
<path d="M307.5 382.0h.01M324.6 375.6h.01M306.4 380.2h.01M321.5 383.4h.01M306.6 374.6h.01M322.9 380.3h.01M329.8 381.7h.01M316.0 377.9h.01M337.2 374.9h.01M310.1 374.8h.01M317.8 379.5h.01M314.2 379.1h.01M319.6 381.8h.01M325.8 378.7h.01M303.3 384.1h.01M305.6 379.8h.01M305.3 380.7h.01M311.0 380.8h.01M343.1 375.1h.01M322.8 372.2h.01M315.1 382.3h.01M316.5 380.8h.01M317.2 374.4h.01M321.0 374.8h.01M331.5 374.7h.01M322.4 378.2h.01M324.2 375.3h.01M324.8 377.3h.01M327.4 380.4h.01M317.6 375.4h.01M323.4 380.2h.01M329.8 375.5h.01M321.7 380.6h.01M319.4 379.6h.01M318.1 376.1h.01M308.7 378.4h.01M322.6 385.1h.01M325.4 382.6h.01M323.6 381.2h.01M318.9 382.2h.01M330.8 375.6h.01M312.7 388.5h.01M319.5 383.1h.01M323.2 373.0h.01M337.4 384.2h.01M318.9 382.2h.01M317.5 374.9h.01M316.3 380.8h.01M326.3 380.9h.01M318.3 385.0h.01M311.5 383.4h.01M325.6 376.5h.01M302.2 377.0h.01M319.2 381.1h.01M328.6 372.8h.01M317.4 381.9h.01M314.3 368.6h.01M324.8 388.4h.01M324.4 373.8h.01M313.9 380.4h.01M337.1 379.0h.01M318.9 385.8h.01M317.5 387.4h.01M311.3 377.6h.01M323.6 384.5h.01M322.4 379.6h.01M302.1 377.9h.01M311.8 377.3h.01M321.4 376.9h.01M323.3 378.5h.01M314.4 379.9h.01M320.9 382.3h.01M313.1 378.5h.01M307.2 387.7h.01M328.4 376.6h.01M312.4 374.0h.01M318.5 379.7h.01M334.4 377.7h.01M309.3 369.0h.01M328.3 378.3h.01M304.4 381.6h.01M306.4 396.3h.01M326.2 380.3h.01M314.3 369.7h.01M315.0 372.2h.01M320.4 368.8h.01M310.6 385.4h.01M329.3 371.9h.01M305.4 384.6h.01M323.1 373.7h.01M311.1 376.7h.01M307.2 377.3h.01M327.3 380.7h.01M333.2 376.3h.01M315.3 374.8h.01M315.2 373.3h.01M303.4 384.1h.01M328.9 381.1h.01M327.7 378.6h.01M311.4 380.2h.01M313.3 374.5h.01M302.7 374.3h.01M317.1 379.7h.01M314.1 385.9h.01M318.8 381.4h.01M326.1 374.0h.01M301.9 384.5h.01M312.4 385.6h.01M320.3 383.1h.01M321.7 368.9h.01M322.3 375.2h.01M310.7 377.9h.01M323.6 382.1h.01M324.0 370.5h.01M310.8 369.1h.01M316.6 381.8h.01M311.1 380.9h.01M319.5 383.2h.01M310.0 376.2h.01M312.1 387.7h.01M325.6 377.2h.01M318.9 379.3h.01M318.5 377.8h.01M313.6 373.8h.01M312.9 387.1h.01M321.3 378.7h.01M315.3 379.5h.01M319.4 375.7h.01M318.7 379.9h.01M310.6 376.3h.01M308.4 375.4h.01M322.6 367.5h.01M314.5 376.6h.01M312.2 380.1h.01M326.0 378.1h.01M315.5 376.4h.01M316.5 383.2h.01M313.2 374.3h.01M306.3 375.5h.01M306.7 385.4h.01M319.7 377.5h.01M328.2 374.4h.01M323.5 381.7h.01M303.8 373.8h.01M310.2 384.1h.01M326.5 372.1h.01M325.1 376.1h.01M313.5 377.0h.01M313.3 371.3h.01M308.3 374.6h.01M322.2 387.8h.01M338.4 374.5h.01M303.1 379.1h.01M310.8 388.9h.01M321.1 375.1h.01M324.7 380.3h.01M303.8 378.4h.01M315.1 379.4h.01M317.8 377.3h.01M318.1 376.2h.01M310.8 386.8h.01M320.1 380.6h.01M304.3 380.0h.01M322.7 372.3h.01M325.5 376.0h.01M320.1 378.0h.01M319.5 384.1h.01M314.8 386.4h.01M310.2 375.7h.01M322.0 373.5h.01M314.6 383.5h.01M325.5 369.7h.01M322.2 386.8h.01M326.3 376.6h.01M312.1 378.3h.01M307.7 379.1h.01M315.4 378.6h.01M326.2 376.7h.01M306.1 385.3h.01M308.2 378.2h.01M315.7 377.6h.01M308.9 379.0h.01M333.9 373.9h.01M316.6 384.2h.01M323.4 381.6h.01M322.6 369.3h.01M310.2 380.5h.01M321.8 384.2h.01M320.6 377.4h.01M317.2 378.0h.01M319.4 381.7h.01M313.8 375.8h.01M310.9 384.8h.01M327.8 382.0h.01M324.3 381.8h.01M317.4 382.0h.01M308.5 379.3h.01M311.6 383.1h.01M312.3 379.2h.01M321.0 384.6h.01M310.1 375.7h.01M322.8 373.2h.01M320.2 376.0h.01M315.0 371.0h.01M322.3 376.0h.01M311.2 389.3h.01M324.8 393.8h.01M320.0 377.0h.01M318.9 386.0h.01M317.1 381.0h.01M320.5 374.4h.01M317.7 376.6h.01M307.7 384.3h.01M322.3 378.6h.01M308.6 371.1h.01M320.8 378.0h.01M303.6 380.6h.01M304.9 380.6h.01M318.4 380.4h.01M318.8 379.5h.01M307.7 378.6h.01M312.8 378.5h.01M319.5 381.5h.01M328.3 365.7h.01M320.1 377.7h.01M335.6 380.6h.01M304.2 382.6h.01M313.5 384.0h.01M308.6 379.7h.01M315.9 378.7h.01M311.2 371.5h.01M321.3 382.9h.01M315.8 374.5h.01M319.0 381.3h.01M315.6 379.1h.01M327.5 372.4h.01M311.4 371.1h.01M311.0 376.5h.01M309.0 377.0h.01M331.1 376.1h.01M317.5 388.9h.01M315.4 371.3h.01M319.6 374.4h.01M329.2 371.6h.01M311.4 372.5h.01M317.1 374.4h.01M316.2 377.4h.01M312.7 383.9h.01M324.4 378.2h.01M309.2 375.2h.01M320.6 389.4h.01M312.9 376.0h.01M310.8 374.9h.01M309.2 379.2h.01M328.4 377.4h.01M311.9 372.4h.01M318.7 378.6h.01M306.6 375.5h.01M317.3 383.6h.01M322.1 379.2h.01" stroke="#58a8a8" stroke-width="0.6" stroke-linecap="round" opacity="0.5" fill="none"/>
<path d="M302.5 413.5h.01M310.7 422.2h.01M290.5 413.9h.01M321.9 401.9h.01M324.4 402.3h.01M307.1 407.2h.01M285.9 411.8h.01M336.2 402.0h.01M316.0 412.1h.01M315.7 412.7h.01M302.0 410.2h.01M318.0 402.9h.01M288.2 415.7h.01M300.3 416.3h.01M294.3 407.9h.01M305.2 420.4h.01M305.7 411.1h.01M306.8 411.6h.01M321.2 412.9h.01M287.7 426.2h.01M305.2 408.2h.01M336.8 396.5h.01M333.4 405.2h.01M293.7 418.1h.01M315.3 405.4h.01M275.0 420.3h.01M301.0 404.8h.01M329.2 399.1h.01M300.2 410.4h.01M294.1 409.8h.01M307.9 411.3h.01M299.2 412.2h.01M289.1 420.2h.01M296.8 415.1h.01M293.1 411.9h.01M306.1 402.1h.01M338.0 396.8h.01M303.4 406.3h.01M329.8 409.3h.01M306.8 400.8h.01M300.8 416.1h.01M296.7 406.1h.01M288.9 411.9h.01M304.7 406.3h.01M312.5 425.4h.01M326.7 394.9h.01M310.7 408.7h.01M306.6 416.5h.01M301.0 409.9h.01M300.9 411.4h.01M324.4 407.6h.01M287.6 414.6h.01M297.5 418.7h.01M310.9 413.8h.01M300.9 399.7h.01M312.4 408.9h.01M309.7 400.1h.01M305.5 405.7h.01M297.9 415.6h.01M308.6 403.2h.01M278.2 405.2h.01M301.1 419.3h.01M300.2 397.8h.01M295.8 416.9h.01M330.3 407.7h.01M311.2 409.2h.01M291.2 413.0h.01M299.9 407.4h.01M305.9 407.5h.01M313.6 416.2h.01M316.6 408.4h.01M299.5 402.8h.01M305.7 413.6h.01M295.7 422.3h.01M302.5 413.8h.01M298.9 404.7h.01M330.2 392.7h.01M316.7 402.1h.01M307.8 404.1h.01M302.7 417.3h.01M329.4 395.1h.01M308.3 415.2h.01M299.4 417.3h.01M297.2 417.5h.01M314.4 414.5h.01M308.0 401.5h.01M312.1 400.4h.01M319.1 414.5h.01M312.5 403.8h.01M321.9 404.7h.01M289.0 414.6h.01M323.7 400.9h.01M306.8 407.5h.01M283.0 416.0h.01M311.1 409.3h.01M298.9 399.0h.01M323.5 407.6h.01M322.2 411.9h.01M298.9 409.0h.01M313.8 417.7h.01M283.6 417.6h.01M298.0 416.9h.01M324.3 400.7h.01M290.0 416.8h.01M298.8 402.9h.01M316.3 402.4h.01M311.9 399.1h.01M317.0 396.2h.01M315.6 394.4h.01M323.1 400.7h.01M285.3 416.9h.01M308.2 402.7h.01M300.2 414.1h.01M296.9 393.8h.01M301.4 414.6h.01M312.1 414.1h.01M302.8 427.8h.01M317.1 407.5h.01M322.2 409.6h.01M305.9 406.0h.01M320.2 407.0h.01M279.0 413.8h.01M312.3 408.2h.01M311.1 412.1h.01M311.4 418.0h.01M297.4 410.9h.01M311.9 412.5h.01M319.6 414.1h.01M302.4 419.0h.01M309.7 401.7h.01M308.9 422.3h.01M315.1 403.3h.01M273.2 418.5h.01M297.1 414.1h.01M337.7 402.0h.01M308.0 403.2h.01M290.1 415.1h.01M306.7 429.2h.01M299.4 408.7h.01M320.8 404.5h.01M292.9 423.6h.01M299.0 404.2h.01M311.3 411.0h.01M303.2 415.7h.01M314.7 400.8h.01M273.9 407.5h.01M307.1 417.5h.01M322.1 412.5h.01M330.1 400.4h.01M316.3 396.0h.01M315.8 408.6h.01M303.8 408.0h.01M291.8 416.6h.01M321.8 401.3h.01M311.4 403.5h.01M307.0 403.1h.01M310.4 406.8h.01M308.7 405.0h.01M290.0 414.3h.01M323.0 413.3h.01M303.6 416.1h.01M316.7 408.2h.01M286.6 419.9h.01M296.1 421.6h.01M317.6 409.3h.01M274.5 426.8h.01M312.2 399.2h.01M318.8 405.3h.01M302.0 407.0h.01M291.8 412.9h.01M346.5 394.9h.01M307.2 405.3h.01M296.7 410.2h.01M296.5 419.5h.01M304.4 416.2h.01M293.1 421.2h.01M307.1 413.9h.01M302.7 405.6h.01M320.7 401.2h.01M302.1 405.8h.01M307.8 406.8h.01M310.4 410.4h.01M293.9 405.8h.01M313.7 412.8h.01M312.5 400.0h.01M314.7 409.0h.01M310.6 410.9h.01M302.3 412.9h.01M316.9 402.3h.01M287.1 417.0h.01M304.4 398.7h.01M298.5 416.8h.01M304.3 411.3h.01M291.7 421.6h.01M328.3 399.7h.01M293.9 407.4h.01M317.8 405.9h.01M298.4 420.9h.01M317.3 409.3h.01M282.9 418.7h.01M311.4 399.9h.01M321.3 413.1h.01M317.8 400.6h.01M298.9 419.0h.01M321.7 411.6h.01M321.4 403.1h.01M296.5 401.8h.01M321.3 418.6h.01M298.9 409.8h.01M315.3 408.7h.01M286.6 413.2h.01M296.3 427.0h.01M298.6 418.5h.01M335.2 410.5h.01M328.2 411.6h.01M289.2 414.6h.01M295.9 412.2h.01M336.3 386.9h.01M310.5 400.2h.01M326.3 410.2h.01M304.0 424.2h.01M309.9 416.9h.01M308.8 405.3h.01M300.8 411.3h.01M314.3 407.5h.01M336.2 396.5h.01M298.3 408.4h.01M292.7 406.1h.01M295.2 420.2h.01M306.4 408.7h.01M312.9 414.1h.01M315.7 411.1h.01M298.1 411.5h.01M295.7 413.5h.01M294.5 412.2h.01M303.2 409.7h.01M301.4 408.7h.01M322.2 401.2h.01M293.3 416.4h.01M289.4 409.7h.01M303.3 400.3h.01M264.9 428.5h.01M315.7 395.3h.01M295.7 417.9h.01M278.2 415.6h.01M289.9 415.2h.01M282.4 425.3h.01M304.8 412.4h.01M297.0 399.9h.01M301.0 403.3h.01M304.2 405.2h.01M301.4 410.5h.01M317.7 410.2h.01M292.9 415.2h.01M326.1 405.1h.01M296.3 413.2h.01M303.6 417.1h.01M307.3 411.9h.01M331.6 390.7h.01M288.9 405.7h.01M287.3 423.1h.01M313.5 417.5h.01M278.4 415.5h.01M327.1 408.2h.01M319.4 410.2h.01M306.4 409.8h.01M308.3 414.5h.01M304.6 412.6h.01M322.3 396.1h.01M297.5 417.1h.01M302.2 410.5h.01M334.2 401.3h.01M303.0 418.3h.01M336.2 390.6h.01M297.6 414.2h.01M302.6 425.4h.01M311.9 405.0h.01M310.6 403.0h.01M298.4 413.8h.01M331.9 385.0h.01M314.5 415.3h.01M319.9 416.8h.01M312.2 408.5h.01M302.4 405.9h.01M324.6 394.8h.01M303.2 407.7h.01M290.8 401.8h.01M301.4 412.8h.01M309.8 413.9h.01M302.5 407.3h.01M311.5 412.1h.01M290.9 406.3h.01M295.1 421.3h.01M317.0 399.8h.01M309.3 414.1h.01M321.8 399.4h.01M306.1 419.1h.01M340.7 405.9h.01M292.2 418.5h.01M302.0 411.2h.01" stroke="#8fbfcf" stroke-width="0.6" stroke-linecap="round" opacity="0.45" fill="none"/>
<path d="M308.7 391.7h.01M313.9 412.2h.01M319.6 399.8h.01M314.2 389.2h.01M312.2 407.2h.01M320.6 413.7h.01M316.1 395.8h.01M301.1 399.6h.01M300.2 409.7h.01M309.0 396.0h.01M303.2 391.5h.01M306.5 406.2h.01M316.0 385.4h.01M298.6 395.4h.01M310.1 386.0h.01M318.7 394.3h.01M314.9 390.7h.01M309.4 391.9h.01M301.2 401.7h.01M317.2 380.5h.01M314.8 406.4h.01M315.9 407.7h.01M311.9 396.0h.01M303.6 387.9h.01M299.4 387.9h.01M316.0 400.7h.01M323.3 397.2h.01M306.1 399.9h.01M312.8 412.1h.01M329.7 404.6h.01M304.9 391.3h.01M315.5 389.6h.01M318.2 402.2h.01M320.7 398.1h.01M306.9 388.4h.01M313.0 407.9h.01M326.6 404.8h.01M316.9 402.1h.01M320.6 407.6h.01M320.8 382.2h.01M321.6 399.5h.01M310.3 400.7h.01M316.3 395.5h.01M300.5 397.0h.01M318.5 395.6h.01M301.3 400.1h.01M319.8 397.6h.01M317.4 392.8h.01M308.7 400.7h.01M311.2 397.6h.01M340.0 402.4h.01M315.1 381.4h.01M314.8 402.8h.01M308.4 393.9h.01M296.0 401.0h.01M309.2 402.2h.01M324.9 394.5h.01M321.9 398.3h.01M312.4 393.5h.01M307.2 407.6h.01M321.0 386.9h.01M320.7 389.4h.01M302.0 406.8h.01M303.8 406.7h.01M315.6 404.1h.01M318.1 406.4h.01M316.8 401.2h.01M316.0 405.9h.01M310.9 405.1h.01M326.1 395.4h.01M317.5 391.4h.01M311.7 398.3h.01M311.3 388.0h.01M313.8 397.7h.01M316.6 402.4h.01M299.8 408.7h.01M312.6 389.1h.01M311.0 400.0h.01M321.0 392.7h.01M315.3 381.6h.01" stroke="#9cc8d4" stroke-width="0.6" stroke-linecap="round" opacity="0.4" fill="none"/>
<ellipse cx="286.0" cy="411.0" rx="13" ry="7" fill="#7fc0c0" opacity="0.4" filter="url(#blurF3)" transform="rotate(-25 286.0 411.0)"/>
<path d="M289.3 408.7h.01M286.2 416.2h.01M306.6 407.6h.01M284.5 420.9h.01M284.9 411.2h.01M283.8 414.7h.01M293.4 408.4h.01M285.8 410.2h.01M286.6 416.5h.01M282.9 411.5h.01M284.4 407.2h.01M282.5 403.7h.01M293.0 411.0h.01M288.9 419.0h.01M281.9 416.2h.01M291.1 405.3h.01M287.9 415.4h.01M289.2 411.1h.01M301.1 405.2h.01M271.2 413.4h.01M295.2 405.8h.01M273.7 404.7h.01M294.4 416.1h.01M271.7 404.5h.01M291.2 405.2h.01M284.6 409.6h.01M280.9 416.0h.01M297.1 407.9h.01M285.4 417.5h.01M288.4 413.3h.01M281.1 417.2h.01M297.7 413.3h.01M289.3 412.1h.01M284.9 416.8h.01M297.5 412.1h.01M281.7 405.6h.01M286.9 409.3h.01M282.7 416.1h.01M297.4 408.0h.01M298.9 407.3h.01M277.9 411.2h.01M286.4 414.9h.01M296.6 406.8h.01M295.2 401.7h.01M290.4 417.9h.01M294.4 413.3h.01M267.3 409.7h.01M282.6 418.6h.01M301.1 400.2h.01M276.9 409.1h.01M281.3 416.5h.01M289.5 420.6h.01M292.9 403.6h.01M289.8 408.3h.01M297.2 411.2h.01M287.0 415.8h.01M292.9 407.2h.01M291.9 412.3h.01M283.6 408.0h.01M299.4 404.7h.01M283.8 414.7h.01M275.0 416.4h.01M274.9 413.6h.01M270.5 413.9h.01M295.6 405.4h.01M281.2 423.6h.01M285.8 419.9h.01M280.0 405.0h.01M303.5 400.2h.01M297.5 412.7h.01M276.5 415.8h.01M284.3 415.4h.01M285.1 403.9h.01M290.3 413.5h.01M286.7 414.0h.01M283.2 412.0h.01M291.5 409.3h.01M301.5 409.4h.01M297.2 410.0h.01M286.8 403.7h.01M301.5 414.1h.01M289.5 407.8h.01M290.5 416.1h.01M288.4 404.0h.01M284.8 407.0h.01M284.3 406.5h.01M283.7 420.9h.01M293.7 397.8h.01M278.4 411.9h.01M281.5 404.9h.01M292.3 398.5h.01M295.8 410.5h.01M283.3 408.3h.01M289.0 410.5h.01M266.6 412.6h.01M292.5 407.3h.01M282.1 406.9h.01M280.1 409.2h.01M310.0 392.4h.01M302.8 406.0h.01M290.4 410.1h.01M288.4 419.4h.01M292.5 407.8h.01M287.5 411.5h.01M277.3 413.2h.01M284.0 415.6h.01M289.2 398.4h.01M288.4 415.7h.01M273.9 409.6h.01M296.7 405.2h.01M281.3 405.9h.01M288.3 406.6h.01M290.9 411.2h.01M293.6 405.5h.01M283.5 412.3h.01M287.6 411.3h.01M282.9 411.0h.01M281.6 409.6h.01M292.1 415.0h.01M284.7 415.1h.01M291.4 409.1h.01M292.8 404.5h.01M293.8 409.1h.01M258.0 426.2h.01M297.8 417.1h.01M278.9 414.9h.01M289.0 403.8h.01M299.8 407.2h.01M278.3 407.5h.01M289.8 423.3h.01M301.6 389.0h.01M273.5 420.8h.01M285.7 407.3h.01M293.7 408.0h.01M291.2 410.1h.01M281.4 420.9h.01M286.6 417.4h.01M294.3 407.3h.01M289.2 409.2h.01M271.0 416.0h.01M288.2 400.3h.01M277.3 421.5h.01M291.8 399.1h.01M292.1 407.9h.01M296.0 404.4h.01M284.4 407.3h.01M289.4 408.6h.01M281.5 411.0h.01M282.8 416.2h.01M275.3 406.7h.01M282.0 419.3h.01M285.0 415.3h.01M293.5 404.5h.01M296.0 409.3h.01M286.1 406.7h.01M284.6 404.0h.01M284.3 408.3h.01M292.8 409.9h.01M284.3 416.9h.01M298.9 405.4h.01M282.6 415.6h.01M264.9 417.3h.01M297.8 417.4h.01M285.0 420.6h.01M313.2 409.6h.01M269.5 425.2h.01M292.1 414.2h.01M285.1 407.7h.01M289.5 418.3h.01M294.9 405.1h.01M293.5 412.7h.01M293.0 407.4h.01M280.4 409.1h.01M282.9 409.1h.01M270.6 409.6h.01M293.3 400.8h.01M276.2 415.3h.01M303.9 410.2h.01M282.0 406.6h.01M281.1 407.8h.01M284.2 414.7h.01M276.7 410.6h.01M285.6 411.0h.01M279.3 409.3h.01M276.1 411.0h.01M292.2 406.6h.01M261.5 426.1h.01M285.4 406.0h.01M278.7 396.1h.01M275.8 422.7h.01M312.3 411.8h.01M281.5 413.3h.01M292.2 400.6h.01M302.1 399.1h.01M288.5 402.8h.01M291.3 408.4h.01M295.1 399.7h.01M292.1 419.1h.01M278.0 416.8h.01M290.8 405.7h.01M288.9 418.2h.01M299.6 408.0h.01M287.8 403.2h.01M293.0 418.5h.01M294.4 398.8h.01M267.7 415.4h.01M288.2 406.6h.01M286.0 413.0h.01M296.6 407.3h.01M296.0 397.6h.01M293.2 410.1h.01M277.4 422.5h.01M270.2 409.5h.01M315.2 405.2h.01M294.6 415.2h.01M295.8 399.5h.01M295.7 415.0h.01M286.7 411.0h.01M285.5 415.6h.01M281.6 409.4h.01M274.7 410.6h.01M291.1 411.4h.01M282.0 406.4h.01M291.9 410.3h.01M298.4 402.1h.01M285.5 414.3h.01M301.8 403.3h.01M285.1 405.7h.01M286.8 416.3h.01M298.4 412.0h.01M275.0 421.2h.01M281.0 416.9h.01M266.2 419.6h.01M282.9 420.1h.01M292.2 416.0h.01M288.6 421.7h.01M288.4 421.4h.01M281.3 407.2h.01M295.3 404.2h.01M284.3 403.5h.01M285.1 412.0h.01M282.5 415.0h.01M269.1 424.3h.01M287.7 419.1h.01M283.3 408.2h.01M284.6 413.3h.01M292.4 405.1h.01M281.7 415.6h.01M291.5 397.7h.01M276.8 411.1h.01M306.6 408.9h.01M296.5 409.1h.01M280.4 420.4h.01M282.1 407.9h.01M302.4 394.4h.01M301.2 405.1h.01M280.0 414.8h.01M280.7 414.5h.01M279.3 406.8h.01M311.2 396.1h.01" stroke="#6ab4b0" stroke-width="0.6" stroke-linecap="round" opacity="0.45" fill="none"/>
<ellipse cx="284.0" cy="413.5" rx="9" ry="4.6" fill="#62b09a" opacity="0.7" filter="url(#blurF2)" transform="rotate(-32 284.0 413.5)"/>
<path d="M290.9 409.2h.01M286.8 406.8h.01M272.8 407.3h.01M291.9 410.5h.01M279.5 419.9h.01M293.9 419.3h.01M288.1 414.8h.01M290.1 412.9h.01M284.1 411.9h.01M291.5 413.9h.01M275.9 414.1h.01M288.1 418.4h.01M280.7 408.8h.01M291.3 412.2h.01M297.1 406.3h.01M295.6 403.5h.01M290.7 410.0h.01M277.4 416.7h.01M295.1 411.3h.01M284.8 417.7h.01M292.1 412.2h.01M287.3 412.8h.01M279.9 415.9h.01M284.4 410.4h.01M283.6 414.6h.01M288.2 415.3h.01M278.1 415.7h.01M286.0 410.9h.01M286.2 410.4h.01M291.7 407.9h.01M279.6 419.4h.01M291.5 401.1h.01M284.4 413.7h.01M294.0 413.5h.01M281.3 409.0h.01M290.9 413.4h.01M288.0 411.5h.01M284.6 423.2h.01M275.1 413.1h.01M291.4 410.2h.01M289.7 411.5h.01M297.8 410.8h.01M283.6 418.0h.01M274.9 412.4h.01M291.5 407.2h.01M272.1 421.0h.01M282.0 417.0h.01M283.3 411.0h.01M282.2 417.9h.01M279.7 416.9h.01M279.9 418.0h.01M296.8 408.0h.01M292.6 410.1h.01M278.7 415.7h.01M286.3 414.0h.01M282.6 417.0h.01M280.9 415.9h.01M282.9 409.7h.01M291.2 409.4h.01M285.6 412.5h.01M269.9 416.8h.01M281.5 419.2h.01M282.7 416.9h.01M277.3 414.4h.01M284.2 417.8h.01M274.8 418.7h.01M287.7 411.9h.01M286.4 415.3h.01M284.9 409.0h.01M287.4 408.3h.01M285.7 418.5h.01M302.3 408.1h.01M286.2 409.1h.01M283.5 420.7h.01M284.5 407.7h.01M295.5 408.8h.01M293.7 409.2h.01M270.8 418.9h.01M283.9 413.0h.01M292.9 405.4h.01M284.4 413.2h.01M282.6 410.3h.01M273.0 410.1h.01M286.7 411.2h.01M284.3 409.2h.01M283.3 410.2h.01M279.6 417.8h.01M289.9 412.3h.01M284.1 412.0h.01M295.7 411.4h.01M279.3 412.2h.01M287.8 412.5h.01M283.7 423.0h.01M271.0 418.4h.01M288.3 415.0h.01M273.2 418.7h.01M296.2 411.7h.01M283.6 414.0h.01M280.5 417.5h.01M275.1 411.0h.01M276.0 418.8h.01M279.2 421.2h.01M294.5 411.1h.01M291.0 413.8h.01M288.2 414.5h.01M289.3 413.5h.01M277.8 414.9h.01M280.6 419.1h.01M286.6 408.8h.01M278.1 415.0h.01M290.1 409.4h.01M282.4 411.9h.01M287.2 418.1h.01M280.3 414.5h.01M296.5 408.7h.01M280.2 420.4h.01M278.5 419.3h.01M268.1 419.5h.01M289.5 407.8h.01M280.8 415.9h.01M284.2 411.6h.01M284.3 420.7h.01M294.6 408.4h.01M277.2 415.8h.01M284.2 415.5h.01M293.7 405.5h.01M285.2 411.2h.01M284.6 410.5h.01M289.4 414.9h.01M282.1 413.5h.01M283.4 408.7h.01M293.5 402.3h.01M281.3 411.8h.01M293.1 406.0h.01M285.5 420.4h.01M282.9 411.2h.01M285.4 413.6h.01M280.3 415.2h.01M285.1 415.9h.01M291.2 412.5h.01M285.8 415.8h.01M285.9 417.2h.01M286.7 410.2h.01M289.7 404.0h.01M277.8 414.3h.01M282.0 409.9h.01M274.4 412.0h.01M284.3 410.3h.01M299.6 407.1h.01M280.6 421.1h.01M287.6 415.7h.01M280.5 420.5h.01M290.9 407.7h.01M279.3 415.1h.01M291.0 419.0h.01M298.6 410.6h.01M283.2 412.9h.01M286.8 410.8h.01M281.9 414.1h.01M290.0 409.6h.01M286.0 411.3h.01M283.3 412.8h.01M293.0 409.0h.01M293.7 406.9h.01M288.9 405.0h.01M282.5 414.3h.01M281.1 415.0h.01M279.2 416.0h.01M281.1 415.5h.01M281.5 411.2h.01M282.7 414.6h.01M277.6 418.0h.01M292.1 407.7h.01M289.5 412.8h.01M282.7 419.8h.01M298.2 400.7h.01M296.6 402.9h.01M290.5 402.3h.01M292.1 409.2h.01M275.9 415.4h.01M277.2 414.3h.01M287.0 411.1h.01M269.5 421.4h.01M288.0 411.5h.01M291.8 401.4h.01M286.6 412.2h.01M286.9 406.4h.01M276.9 417.4h.01M282.2 407.5h.01M287.2 411.6h.01M284.7 402.7h.01M286.4 408.5h.01M283.6 417.0h.01M295.4 407.1h.01M286.8 417.2h.01M279.4 415.9h.01M280.3 412.0h.01M289.9 418.2h.01M287.4 413.5h.01M286.9 416.4h.01M284.5 409.8h.01M288.3 416.8h.01M286.7 416.8h.01M288.3 419.1h.01M287.9 413.8h.01M284.8 416.5h.01M281.0 409.5h.01M284.7 408.4h.01M295.3 409.8h.01M286.4 414.9h.01M272.4 427.1h.01M282.4 417.4h.01M297.4 398.7h.01M283.2 415.5h.01M284.5 406.5h.01M282.2 420.8h.01M282.5 416.8h.01M275.2 415.5h.01M274.7 420.6h.01M292.1 408.9h.01M283.9 414.7h.01M287.3 410.4h.01M291.9 416.6h.01M297.3 403.0h.01M281.0 423.3h.01M293.1 412.9h.01M288.3 410.1h.01M292.9 412.6h.01M290.1 405.5h.01M290.6 408.1h.01M283.6 415.4h.01M287.2 421.0h.01M288.9 411.7h.01M284.4 414.4h.01M284.8 415.5h.01M291.7 412.2h.01M277.0 416.7h.01M283.4 409.1h.01M287.1 411.2h.01M286.1 413.9h.01" stroke="#58ac8c" stroke-width="0.6" stroke-linecap="round" opacity="0.55" fill="none"/>
<ellipse cx="279.5" cy="416.3" rx="5.6" ry="3.2" fill="#7cc44e" opacity="0.9" filter="url(#blurF1)" transform="rotate(-35 279.5 416.3)"/>
<ellipse cx="277.6" cy="417.8" rx="2.2" ry="1.4" fill="#c8d830" opacity="0.7" filter="url(#blurF1)" transform="rotate(-35 277.6 417.8)"/>
</g>
<g clip-path="url(#cf01)">
<ellipse cx="316.0" cy="470.0" rx="10" ry="17" fill="#7a84cc" opacity="0.22" filter="url(#blurF3)" transform="rotate(18 316.0 470.0)"/>
<path d="M307.7 489.9h.01M319.4 477.2h.01M315.3 485.0h.01M306.7 478.4h.01M317.0 465.0h.01M302.8 482.5h.01M316.4 475.0h.01M318.1 493.9h.01M313.5 480.3h.01M312.6 474.4h.01M316.0 481.6h.01M317.3 489.2h.01M312.3 481.7h.01M314.4 491.1h.01M301.8 480.5h.01M307.7 481.3h.01M317.9 481.0h.01M317.3 481.7h.01M307.1 476.6h.01M302.4 481.9h.01M309.3 485.6h.01M318.9 475.2h.01M304.4 484.2h.01M305.9 481.8h.01M316.4 478.2h.01M324.6 475.9h.01M315.1 478.1h.01M291.8 479.5h.01M311.0 484.1h.01M311.1 476.2h.01M308.5 478.7h.01M317.4 478.9h.01M320.8 485.7h.01M306.9 486.8h.01M296.2 480.7h.01M305.2 480.0h.01M320.2 480.6h.01M310.9 488.3h.01M306.7 475.6h.01M318.9 484.3h.01M302.0 481.5h.01M317.6 479.6h.01M309.2 481.4h.01M313.6 476.3h.01M318.0 471.1h.01M311.6 493.5h.01M304.6 480.3h.01M296.1 475.6h.01M304.0 480.9h.01M308.6 491.6h.01M305.6 480.4h.01M313.6 484.4h.01M318.4 471.2h.01M327.5 478.7h.01M307.0 470.7h.01M309.0 469.9h.01M313.4 477.0h.01M314.4 475.8h.01M312.6 494.0h.01M320.3 481.5h.01M305.1 489.4h.01M300.2 472.1h.01M321.2 477.0h.01M321.5 484.0h.01M327.4 491.3h.01M316.2 476.8h.01M316.2 489.0h.01M313.0 463.1h.01M309.4 478.3h.01M311.6 478.4h.01M320.1 472.9h.01M315.1 468.6h.01M296.8 474.4h.01M306.8 475.1h.01M307.1 484.2h.01M316.1 481.0h.01M313.4 476.4h.01M305.1 472.0h.01M309.1 473.7h.01M309.7 484.9h.01M315.9 488.5h.01M305.5 467.3h.01M304.2 492.5h.01M316.9 477.9h.01M321.3 478.0h.01M323.7 478.1h.01M309.2 484.7h.01M304.0 479.5h.01M325.6 483.1h.01M304.3 479.0h.01M311.8 476.0h.01M314.9 488.0h.01M312.3 485.8h.01M314.1 481.3h.01M306.7 486.3h.01M321.5 477.8h.01M305.9 483.6h.01M312.7 487.3h.01M315.5 479.7h.01M302.3 484.2h.01M312.7 472.9h.01M301.6 469.5h.01M316.4 477.9h.01M288.7 475.2h.01M307.5 479.8h.01M312.2 478.5h.01M317.2 486.7h.01M310.4 490.0h.01M311.1 475.3h.01M313.1 471.9h.01M309.9 474.1h.01M309.0 481.7h.01M294.8 482.8h.01M313.8 479.2h.01M317.0 482.6h.01M309.4 474.5h.01M317.1 485.0h.01M301.6 476.1h.01M303.7 485.5h.01M308.0 473.0h.01M322.6 483.2h.01M313.6 482.0h.01M310.7 480.7h.01M318.3 483.1h.01M308.8 481.1h.01M325.1 477.1h.01M302.7 481.2h.01M304.0 496.3h.01M316.3 484.0h.01M314.5 492.3h.01M304.8 480.2h.01M300.2 487.9h.01M311.4 491.1h.01M310.0 474.2h.01M307.0 485.3h.01M306.2 482.0h.01M306.9 476.2h.01M308.0 490.2h.01M304.4 482.4h.01M317.6 476.0h.01M301.4 489.5h.01M324.2 478.9h.01M303.5 485.7h.01M311.7 475.5h.01M309.2 466.0h.01M306.2 473.1h.01M302.6 484.0h.01M313.8 490.7h.01M293.0 476.4h.01M306.0 488.4h.01M319.2 481.2h.01M312.6 475.9h.01M308.3 477.7h.01M294.1 491.9h.01M317.1 493.0h.01M320.6 483.4h.01M317.8 470.2h.01M304.7 485.6h.01M309.2 470.6h.01M311.8 472.6h.01M311.9 489.9h.01M303.9 477.7h.01M315.8 480.2h.01M313.2 475.3h.01M309.5 466.0h.01M310.6 488.2h.01M303.9 479.3h.01M316.9 487.8h.01M320.1 475.0h.01M308.9 491.0h.01M308.6 482.1h.01M305.9 476.4h.01M290.9 477.1h.01M296.3 474.2h.01M304.9 488.6h.01M317.3 482.8h.01M308.2 471.9h.01M315.2 475.3h.01M311.0 486.1h.01M310.5 480.2h.01M304.8 486.7h.01M315.6 484.7h.01M323.4 470.5h.01M312.0 484.3h.01M314.2 482.2h.01M315.1 471.0h.01M311.3 487.4h.01M311.4 479.2h.01M317.8 469.7h.01M314.6 489.6h.01M310.0 475.3h.01M315.5 477.6h.01M306.0 481.3h.01M300.0 484.4h.01M303.3 477.0h.01M317.0 480.2h.01M313.7 488.7h.01M322.6 493.0h.01M307.9 485.9h.01M300.1 485.2h.01" stroke="#6a74c4" stroke-width="0.6" stroke-linecap="round" opacity="0.65" fill="none"/>
<path d="M328.3 450.0h.01M323.2 460.4h.01M319.4 450.6h.01M329.5 446.1h.01M321.3 461.1h.01M321.8 465.3h.01M329.4 457.9h.01M331.1 459.8h.01M312.9 452.7h.01M322.0 456.1h.01M310.0 470.0h.01M310.8 447.4h.01M323.1 456.2h.01M329.7 456.3h.01M322.6 459.6h.01M315.9 446.3h.01M317.5 461.6h.01M318.6 463.1h.01M317.0 459.8h.01M320.5 460.4h.01M320.4 456.2h.01M317.5 463.1h.01M320.2 458.2h.01M324.3 449.0h.01M315.3 454.6h.01M328.1 447.9h.01M314.2 448.4h.01M318.0 447.8h.01M315.4 458.4h.01M313.8 454.8h.01M313.2 453.6h.01M323.5 441.7h.01M320.7 456.4h.01M320.0 456.6h.01M322.9 446.3h.01M319.6 459.1h.01M328.2 445.9h.01M316.8 445.9h.01M320.3 447.8h.01M314.4 460.0h.01M334.0 441.3h.01M330.4 448.8h.01M324.5 457.2h.01M327.9 453.5h.01M315.4 454.5h.01M325.2 449.0h.01M322.9 454.8h.01M321.5 455.0h.01M324.1 460.2h.01M318.6 452.6h.01M307.4 449.1h.01M311.2 459.3h.01M313.9 450.3h.01M323.6 461.4h.01M327.8 449.3h.01M321.9 461.9h.01M315.3 453.4h.01M313.0 450.7h.01M324.7 455.5h.01M318.2 451.2h.01M329.6 459.9h.01M312.9 469.1h.01M317.9 453.9h.01M317.4 451.2h.01M324.3 445.4h.01M320.6 452.8h.01M331.0 457.5h.01M323.1 458.4h.01M324.0 455.7h.01M305.6 457.7h.01M318.5 459.5h.01M322.3 451.3h.01M315.0 448.3h.01M322.1 454.2h.01M315.1 452.5h.01M322.5 450.6h.01M319.7 450.9h.01M304.7 455.5h.01M320.8 460.2h.01M328.3 450.2h.01M324.0 456.7h.01M320.9 460.4h.01M325.7 446.6h.01M329.4 453.8h.01M316.4 450.4h.01M319.1 447.6h.01M327.0 457.7h.01M315.0 460.3h.01M321.9 455.5h.01M326.2 454.3h.01M318.9 458.2h.01M309.4 447.1h.01M323.5 461.9h.01M310.3 455.0h.01M316.4 453.1h.01M324.1 464.7h.01M331.1 461.1h.01M324.3 455.9h.01M309.2 457.5h.01M313.2 447.7h.01M321.2 444.6h.01M331.1 458.9h.01M322.6 458.1h.01M321.9 455.4h.01M324.7 450.6h.01M322.1 456.0h.01M325.1 447.7h.01M321.9 454.1h.01M324.2 458.5h.01M321.6 458.0h.01M323.1 463.9h.01M322.3 458.4h.01M314.8 453.6h.01M325.1 461.8h.01M314.6 454.7h.01M318.8 455.3h.01M317.6 452.2h.01M320.1 455.8h.01M326.6 449.4h.01M314.7 460.1h.01M323.5 453.7h.01M313.5 461.8h.01M314.0 462.3h.01M322.0 454.0h.01M319.4 460.3h.01M320.5 443.6h.01M316.2 441.0h.01M322.9 461.0h.01M326.7 446.2h.01M333.2 466.8h.01M319.8 442.0h.01M315.2 461.8h.01M332.9 451.4h.01M309.3 448.6h.01M332.0 454.9h.01M312.0 441.3h.01M324.3 460.2h.01M317.6 453.6h.01M320.9 452.7h.01M317.1 451.2h.01M316.9 463.0h.01M322.9 461.6h.01M331.5 440.0h.01M320.0 461.2h.01M319.2 451.0h.01M322.8 451.5h.01M315.4 452.9h.01M320.8 455.0h.01M325.9 455.1h.01M317.6 474.8h.01M319.1 453.2h.01M319.6 450.4h.01M311.0 456.2h.01M329.2 443.1h.01M315.9 457.7h.01M316.3 458.4h.01M320.1 447.8h.01M319.1 451.6h.01M323.7 438.4h.01M322.9 463.6h.01M321.3 456.5h.01M317.2 457.1h.01M319.6 446.6h.01M313.3 439.8h.01M323.0 456.1h.01M327.0 456.6h.01M324.6 446.2h.01M309.2 451.2h.01M318.5 457.3h.01M319.6 453.8h.01" stroke="#6a74c4" stroke-width="0.6" stroke-linecap="round" opacity="0.6" fill="none"/>
<path d="M314.5 473.4h.01M315.9 474.7h.01M309.9 467.1h.01M303.3 450.5h.01M310.5 474.9h.01M312.0 448.6h.01M328.1 461.3h.01M300.1 451.8h.01M311.1 433.7h.01M304.7 491.6h.01M310.0 456.6h.01M326.8 474.3h.01M308.9 488.0h.01M302.6 465.6h.01M319.6 474.0h.01M305.8 453.9h.01M334.2 473.6h.01M308.2 483.7h.01M296.1 464.0h.01M291.1 483.7h.01M304.0 468.5h.01M304.7 469.0h.01M318.3 470.9h.01M310.6 472.3h.01M314.2 462.3h.01M318.5 483.2h.01M304.2 452.4h.01M305.6 471.6h.01M294.4 486.9h.01M314.8 472.1h.01M326.9 462.3h.01M317.4 476.4h.01M332.5 459.4h.01M327.5 481.9h.01M313.8 485.0h.01M313.0 466.6h.01M325.1 467.5h.01M321.5 491.6h.01M316.6 473.0h.01M311.4 455.7h.01M334.0 460.1h.01M314.8 474.2h.01M307.9 458.2h.01M299.8 496.6h.01M313.9 489.8h.01M332.9 489.4h.01M330.6 467.8h.01M302.5 487.7h.01M334.2 460.4h.01M326.1 477.3h.01M320.0 485.4h.01M337.5 467.1h.01M310.5 487.2h.01M310.3 476.8h.01M320.4 447.0h.01M306.0 480.5h.01M314.9 447.9h.01M309.4 470.1h.01M319.1 476.1h.01M324.5 457.5h.01M311.5 458.2h.01M308.9 475.0h.01M330.1 470.9h.01M322.4 488.3h.01M305.9 456.0h.01M321.7 452.1h.01M341.8 450.3h.01M299.3 477.4h.01M304.7 477.8h.01M300.9 481.8h.01M306.4 478.5h.01M331.2 453.0h.01M312.1 444.2h.01M300.1 479.7h.01M311.8 481.8h.01M326.5 488.4h.01M324.4 466.7h.01M309.9 473.6h.01M320.5 487.6h.01M319.4 467.4h.01M308.4 492.7h.01M310.9 498.3h.01M304.5 480.3h.01M314.8 481.4h.01M306.0 472.9h.01M315.5 466.6h.01M307.7 448.1h.01M309.7 477.0h.01M317.1 474.5h.01M323.5 453.3h.01M326.2 474.5h.01M309.3 461.1h.01M325.0 476.0h.01M290.0 494.2h.01M293.4 489.5h.01M327.9 459.5h.01M323.9 491.1h.01M324.0 482.3h.01M317.9 474.4h.01M308.6 472.8h.01M329.2 472.8h.01M341.7 455.3h.01M321.0 450.7h.01M295.8 469.1h.01M313.8 462.3h.01M304.9 464.5h.01M298.8 463.4h.01M314.2 452.3h.01M326.4 446.8h.01M318.9 475.5h.01M320.4 473.9h.01M324.6 469.4h.01M302.5 472.7h.01M308.2 463.6h.01M319.9 458.5h.01M331.2 452.8h.01M328.4 473.7h.01M329.2 490.4h.01M321.4 476.5h.01M321.5 452.5h.01M312.8 456.4h.01M308.2 466.9h.01M306.4 470.3h.01M314.3 463.7h.01M317.7 478.1h.01M302.3 462.7h.01M346.1 479.1h.01M323.4 460.1h.01M320.1 494.1h.01M321.9 470.5h.01M322.4 445.3h.01M322.7 468.2h.01M318.1 476.8h.01M310.0 499.5h.01M327.4 464.5h.01M319.5 480.9h.01M310.6 489.8h.01M317.7 446.1h.01M302.6 472.9h.01M304.3 469.9h.01M297.9 471.6h.01M315.9 457.7h.01M310.4 465.5h.01M324.1 476.5h.01M312.5 472.2h.01M323.0 479.5h.01M336.4 465.9h.01M323.5 474.7h.01M306.5 476.9h.01M320.6 486.2h.01M323.5 460.2h.01M315.7 476.3h.01M332.4 477.0h.01M311.3 492.1h.01M317.6 464.8h.01M315.5 481.8h.01M322.9 448.6h.01M307.4 483.0h.01M304.4 480.1h.01M320.0 460.5h.01M331.4 444.1h.01M298.8 443.9h.01M321.9 468.5h.01M322.2 471.4h.01M318.6 464.0h.01M307.6 482.8h.01M328.2 455.0h.01M314.1 499.4h.01M326.7 460.2h.01M322.3 475.7h.01" stroke="#8890d4" stroke-width="0.6" stroke-linecap="round" opacity="0.5" fill="none"/>
<ellipse cx="292.0" cy="495.5" rx="13" ry="2.2" fill="#5a72c8" opacity="0.6" filter="url(#blurF2)" transform="rotate(-4 292.0 495.5)"/>
<ellipse cx="279.0" cy="494.0" rx="8" ry="5" fill="#6a80d0" opacity="0.35" filter="url(#blurF2)"/>
<path d="M289.6 497.1h.01M303.2 493.8h.01M293.4 494.6h.01M292.6 497.9h.01M288.6 496.5h.01M294.7 495.3h.01M282.5 497.0h.01M282.7 497.2h.01M291.6 495.6h.01M288.2 494.3h.01M283.3 496.0h.01M291.7 495.8h.01M289.9 496.7h.01M293.7 495.4h.01M290.2 495.5h.01M298.1 493.8h.01M281.8 496.7h.01M296.1 495.1h.01M294.4 493.1h.01M283.8 495.9h.01M291.9 493.4h.01M296.3 492.1h.01M303.2 492.9h.01M287.3 494.0h.01M280.4 495.7h.01M275.6 496.0h.01M293.8 494.8h.01M292.0 493.1h.01M275.9 494.4h.01M301.7 495.2h.01M276.7 499.1h.01M298.0 496.7h.01M301.4 496.8h.01M277.4 496.5h.01M285.7 498.9h.01M298.4 494.9h.01M289.9 492.2h.01M293.1 494.0h.01M304.4 495.7h.01M291.6 494.8h.01M302.0 493.8h.01M302.1 495.0h.01M289.8 496.1h.01M307.6 491.7h.01M299.0 496.0h.01M290.2 497.8h.01M298.3 495.8h.01M283.5 496.9h.01M281.0 496.9h.01M311.2 492.6h.01M306.0 492.7h.01M293.0 496.4h.01M279.6 496.7h.01M285.4 494.8h.01M299.8 494.7h.01M295.9 495.1h.01M295.8 497.5h.01M293.4 494.8h.01M292.6 496.4h.01M296.1 491.7h.01M291.7 496.1h.01M315.4 492.8h.01M289.8 493.7h.01M291.5 492.6h.01M284.9 495.7h.01M278.9 495.8h.01M286.4 497.7h.01M306.7 497.7h.01M293.6 496.3h.01M313.2 492.8h.01M307.3 492.8h.01M301.5 492.2h.01M288.8 495.3h.01M289.8 492.4h.01M293.4 494.8h.01M305.5 495.3h.01M273.1 496.9h.01M301.7 494.5h.01M285.9 493.6h.01M288.9 494.1h.01M289.8 495.0h.01M303.5 493.0h.01M295.1 493.4h.01M294.9 496.8h.01M287.1 493.8h.01M292.6 495.3h.01M286.7 496.4h.01M293.0 496.4h.01M280.1 497.4h.01M303.4 493.2h.01M309.9 494.5h.01M280.6 494.5h.01M285.6 494.8h.01M290.2 495.9h.01M290.4 495.0h.01M283.5 492.7h.01M285.8 493.8h.01M299.9 491.0h.01M302.1 490.1h.01M290.5 495.5h.01M282.3 494.5h.01M299.9 493.1h.01M291.4 495.5h.01M298.0 492.9h.01M304.0 494.3h.01M301.1 492.5h.01M302.0 494.5h.01M299.1 493.8h.01M300.0 494.8h.01M275.6 500.5h.01M286.4 496.5h.01M290.5 494.7h.01M289.0 497.0h.01M300.7 496.2h.01M277.8 497.6h.01M279.1 499.9h.01M295.8 496.9h.01M292.2 495.6h.01M286.1 498.9h.01M289.4 497.3h.01" stroke="#5a72c8" stroke-width="0.6" stroke-linecap="round" opacity="0.5" fill="none"/>
<ellipse cx="276.0" cy="494.8" rx="5.6" ry="3.8" fill="#3a5cc0" opacity="0.95" filter="url(#blurF1)"/>
<ellipse cx="275.6" cy="495.0" rx="4.0" ry="2.5" fill="#7cc44e" opacity="1" filter="url(#blurF1)"/>
<ellipse cx="275.0" cy="495.2" rx="1.8" ry="1.1" fill="#c8d830" opacity="0.7" filter="url(#blurF1)"/>
</g>
<g clip-path="url(#cf10)">
<ellipse cx="413.3" cy="375.7" rx="8.5" ry="3.2" fill="#7cc44e" opacity="0.8" filter="url(#blurF2)" transform="rotate(-14 413.3 375.7)"/>
<path d="M408.0 376.9h.01M410.7 376.4h.01M410.4 378.4h.01M416.3 371.0h.01M409.6 373.4h.01M419.2 371.2h.01M416.2 375.7h.01M411.6 371.2h.01M423.8 373.0h.01M418.1 377.6h.01M406.3 375.1h.01M425.2 378.2h.01M408.0 377.1h.01M419.1 374.2h.01M421.9 375.5h.01M413.2 377.8h.01M411.0 380.0h.01M409.9 380.4h.01M427.9 367.7h.01M423.0 369.6h.01M413.9 380.8h.01M420.5 376.0h.01M415.7 375.9h.01M416.0 374.8h.01M410.7 373.4h.01M424.2 373.2h.01M425.7 374.9h.01M415.4 372.5h.01M411.6 376.6h.01M412.3 375.5h.01M398.6 378.6h.01M411.3 375.2h.01M410.3 372.6h.01M408.8 381.1h.01M407.0 376.2h.01M407.9 376.9h.01M411.2 381.9h.01M407.5 381.1h.01M410.6 377.9h.01M429.2 372.0h.01M411.4 368.8h.01M411.0 376.0h.01M414.2 376.4h.01M405.7 375.4h.01M417.9 374.2h.01M413.9 377.7h.01M414.0 376.3h.01M406.4 377.7h.01M403.7 383.2h.01M409.5 381.5h.01M410.1 376.5h.01M421.7 374.5h.01M414.3 375.1h.01M411.2 374.6h.01M407.3 372.7h.01M411.9 374.3h.01M423.5 379.2h.01M424.6 370.0h.01M411.0 376.3h.01M404.6 382.4h.01M418.0 375.7h.01M425.9 374.2h.01M411.6 377.2h.01M410.7 378.0h.01M405.4 379.4h.01M411.2 375.4h.01M410.9 376.3h.01M402.7 380.3h.01M413.2 380.9h.01M413.9 378.5h.01M413.1 375.8h.01M405.4 376.8h.01M408.1 370.9h.01M411.0 374.7h.01M416.0 378.2h.01M412.2 379.5h.01M421.7 376.0h.01M411.4 376.8h.01M424.7 377.4h.01M419.5 369.9h.01M400.2 384.1h.01M418.8 378.3h.01M416.9 374.4h.01M416.3 375.2h.01M423.4 375.8h.01M406.9 375.6h.01M420.4 376.7h.01M415.5 376.5h.01M405.0 375.9h.01M415.6 370.6h.01M416.9 376.8h.01M418.1 377.2h.01M425.7 373.8h.01M407.2 373.0h.01M399.2 379.9h.01M418.0 370.4h.01M414.1 374.0h.01M412.0 377.0h.01M412.9 373.0h.01M418.2 374.5h.01M402.0 381.0h.01M423.2 372.6h.01M422.6 369.5h.01M412.7 379.8h.01M422.1 375.3h.01M419.9 373.3h.01M418.6 377.4h.01M419.7 375.5h.01M419.1 375.8h.01M416.3 371.2h.01M416.7 372.7h.01M411.1 376.8h.01M414.2 372.3h.01M410.2 377.5h.01M410.9 376.8h.01M415.0 376.2h.01M410.1 377.4h.01M416.3 371.9h.01M417.8 372.3h.01M416.2 377.0h.01M416.8 372.1h.01M406.9 374.5h.01M417.1 375.5h.01M402.5 380.8h.01M420.6 372.9h.01M413.1 376.8h.01M406.7 376.6h.01M416.7 374.3h.01M413.4 376.4h.01M424.5 374.0h.01M415.3 374.3h.01M421.3 374.3h.01M414.1 379.4h.01M421.3 371.6h.01M412.2 379.8h.01M411.4 380.8h.01M413.6 381.2h.01M406.0 372.7h.01M405.4 383.4h.01M408.5 376.1h.01M409.3 375.1h.01M414.5 376.1h.01M409.1 375.7h.01M422.5 376.4h.01M420.5 377.6h.01M412.7 378.6h.01M423.3 371.4h.01M420.4 367.7h.01M400.4 375.3h.01M406.4 375.2h.01M410.8 378.9h.01M408.5 376.3h.01M404.1 374.0h.01M411.7 374.4h.01M419.0 374.9h.01M402.3 380.8h.01M405.5 376.9h.01M406.2 375.6h.01M408.8 374.0h.01M408.5 376.5h.01M418.3 376.7h.01M423.6 369.1h.01M411.6 379.7h.01M406.0 377.4h.01M418.8 378.8h.01M417.1 376.0h.01M412.7 377.9h.01M414.1 376.7h.01M409.1 376.7h.01M407.0 374.7h.01M407.4 375.2h.01M408.6 375.6h.01M403.8 379.2h.01M416.2 379.5h.01M397.4 376.2h.01M406.5 375.4h.01M413.1 373.8h.01M408.8 379.1h.01M411.0 372.2h.01M420.6 380.2h.01M420.2 373.8h.01M421.8 373.7h.01M411.2 377.2h.01M421.5 374.3h.01M410.4 373.0h.01M413.7 373.0h.01M411.7 372.7h.01M407.1 374.9h.01M408.3 374.2h.01M421.5 376.1h.01M410.4 373.9h.01M420.0 373.7h.01M417.4 377.7h.01M410.9 377.8h.01M415.8 374.2h.01M411.7 374.7h.01M391.5 380.4h.01M424.3 376.0h.01M430.4 371.9h.01M418.4 373.1h.01M407.9 375.0h.01M416.6 377.3h.01M401.6 380.8h.01M419.4 376.6h.01M405.3 378.5h.01M414.4 372.1h.01M407.4 383.4h.01M408.6 375.8h.01M400.5 377.5h.01M422.0 374.9h.01M407.9 377.5h.01M415.9 376.9h.01M407.2 378.5h.01M408.7 375.8h.01M407.3 375.3h.01M415.1 370.8h.01M416.1 382.6h.01M407.4 376.7h.01M413.7 380.1h.01M404.5 379.7h.01M413.8 381.1h.01M413.1 381.4h.01M407.3 378.4h.01M405.9 376.3h.01M405.0 377.0h.01M422.6 372.3h.01M429.7 376.2h.01M415.1 375.6h.01M414.7 373.6h.01M416.9 375.3h.01M400.9 379.2h.01M416.8 375.3h.01M415.1 375.5h.01M410.8 379.4h.01M421.8 373.1h.01M417.5 372.0h.01M420.5 372.0h.01M414.0 378.3h.01M410.0 376.9h.01M419.1 373.1h.01M416.0 378.2h.01M414.2 373.7h.01M410.5 376.0h.01M413.6 377.6h.01M403.4 378.3h.01M415.3 379.5h.01M403.4 376.1h.01M418.7 374.5h.01M419.9 374.2h.01M409.0 376.9h.01M421.3 375.9h.01M414.4 376.1h.01M420.2 375.9h.01M415.1 377.5h.01M413.1 373.1h.01M419.5 377.6h.01M421.8 373.7h.01M405.9 378.9h.01M408.3 372.3h.01M413.6 373.9h.01" stroke="#7cc44e" stroke-width="0.6" stroke-linecap="round" opacity="0.55" fill="none"/>
<ellipse cx="379.6" cy="410.4" rx="14" ry="3.8" fill="#7cc44e" opacity="0.62" filter="url(#blurF2)" transform="rotate(-15 379.6 410.4)"/>
<path d="M380.6 408.6h.01M389.5 410.6h.01M386.4 412.5h.01M376.5 419.0h.01M362.8 417.4h.01M390.7 406.2h.01M380.5 406.3h.01M375.8 412.4h.01M365.4 407.9h.01M375.8 408.8h.01M370.0 412.5h.01M366.7 417.5h.01M392.2 407.2h.01M374.0 411.8h.01M378.5 408.2h.01M373.8 413.4h.01M370.3 410.9h.01M374.7 408.5h.01M381.8 405.7h.01M390.4 409.9h.01M380.5 412.9h.01M391.2 406.1h.01M379.1 408.6h.01M376.0 410.2h.01M381.4 411.6h.01M403.2 405.2h.01M389.7 407.0h.01M397.3 406.1h.01M378.1 409.9h.01M380.1 409.0h.01M383.4 415.1h.01M380.2 407.8h.01M360.9 415.1h.01M369.1 410.8h.01M381.9 410.9h.01M385.9 412.5h.01M369.8 411.0h.01M370.2 409.7h.01M372.7 409.6h.01M386.3 405.2h.01M401.0 398.1h.01M387.3 403.3h.01M374.1 408.0h.01M380.5 411.7h.01M375.2 409.5h.01M369.1 410.5h.01M370.7 410.6h.01M381.3 412.8h.01M371.1 406.2h.01M376.8 413.8h.01M369.6 414.2h.01M367.0 409.7h.01M380.6 404.1h.01M373.5 403.3h.01M369.3 414.3h.01M374.1 409.5h.01M384.5 406.1h.01M367.6 412.2h.01M379.1 410.9h.01M378.8 414.3h.01M385.4 408.3h.01M402.1 399.3h.01M381.6 407.3h.01M401.9 405.2h.01M388.4 409.2h.01M394.3 404.6h.01M387.6 402.7h.01M386.4 412.1h.01M389.0 409.7h.01M360.5 415.7h.01M377.3 415.8h.01M385.7 410.8h.01M393.5 408.3h.01M364.9 411.6h.01M359.1 419.7h.01M376.6 407.0h.01M384.3 407.7h.01M377.5 415.0h.01M357.3 411.6h.01M378.4 409.8h.01M390.9 406.1h.01M386.3 414.0h.01M364.4 409.8h.01M372.1 411.6h.01M368.5 414.1h.01M372.5 415.8h.01M385.3 410.9h.01M382.0 410.3h.01M362.6 414.1h.01M362.3 419.2h.01M367.1 410.7h.01M376.6 418.1h.01M369.5 418.3h.01M383.0 417.7h.01M376.8 409.3h.01M378.8 408.7h.01M372.7 414.4h.01M375.6 414.2h.01M386.4 411.4h.01M396.6 409.1h.01M370.9 416.9h.01M355.1 420.9h.01M391.2 403.7h.01M391.2 401.1h.01M389.6 406.3h.01M376.5 410.6h.01M374.3 414.0h.01M379.0 410.3h.01M379.8 409.1h.01M369.6 414.9h.01M387.2 404.4h.01M390.4 411.4h.01M382.5 414.2h.01M358.4 420.4h.01M372.2 413.2h.01M372.1 420.2h.01M375.9 413.4h.01M364.3 413.4h.01M383.9 408.8h.01M373.0 416.8h.01M363.8 414.8h.01M377.5 409.7h.01M386.5 409.2h.01M378.3 412.7h.01M379.2 412.1h.01M392.9 407.5h.01M379.8 408.4h.01M395.0 409.3h.01M385.3 409.7h.01M371.1 412.8h.01M381.8 406.0h.01M369.7 412.6h.01M399.7 406.1h.01M365.7 418.1h.01M389.4 409.9h.01M373.9 411.5h.01M403.1 407.6h.01M425.5 392.2h.01M363.0 413.4h.01M369.7 410.8h.01M388.2 412.3h.01M365.4 415.9h.01M388.7 408.7h.01M394.6 410.0h.01M371.4 413.0h.01M381.5 405.9h.01M378.1 414.0h.01M383.8 409.3h.01M406.9 405.0h.01M388.9 405.0h.01M392.0 405.6h.01M377.6 409.5h.01M367.0 415.6h.01M367.7 416.2h.01M372.4 416.4h.01M384.1 412.9h.01M368.8 415.1h.01M387.7 409.1h.01M378.1 408.8h.01M346.5 420.8h.01M365.8 410.7h.01M381.5 401.3h.01M372.4 414.5h.01M379.9 409.6h.01M371.8 413.0h.01M363.4 412.9h.01M387.4 405.3h.01M378.1 409.5h.01M365.2 407.8h.01M370.1 410.4h.01M369.0 413.0h.01M383.5 411.3h.01M382.6 405.8h.01M394.5 407.5h.01M386.4 404.4h.01M393.0 414.2h.01M386.1 412.2h.01M373.9 412.4h.01M379.8 412.5h.01M381.7 410.7h.01M369.4 409.2h.01M381.8 418.0h.01M370.0 414.7h.01M393.3 404.6h.01M363.1 416.0h.01M378.7 407.8h.01M396.2 408.2h.01M378.7 406.2h.01M393.9 410.2h.01M389.9 412.9h.01M368.3 410.2h.01M389.4 409.2h.01M379.0 409.0h.01M390.9 408.2h.01M388.1 404.4h.01M380.9 411.4h.01M389.2 402.4h.01M377.3 408.9h.01M379.9 409.9h.01M385.0 411.5h.01M382.7 409.3h.01M390.3 412.1h.01M380.0 407.7h.01M399.2 408.1h.01M402.5 402.9h.01M375.8 410.9h.01M377.8 406.1h.01M387.6 403.4h.01M350.8 418.0h.01M369.0 414.1h.01M366.7 409.4h.01M357.4 412.2h.01M378.7 417.6h.01M386.5 406.4h.01M394.4 407.3h.01M358.9 410.2h.01M363.6 412.8h.01M379.9 408.3h.01M373.5 408.9h.01M382.4 412.2h.01M369.8 417.1h.01M370.9 411.8h.01M398.1 407.4h.01M378.9 404.3h.01M380.6 409.0h.01M378.6 414.3h.01M375.7 417.4h.01M380.6 410.7h.01M376.8 411.5h.01M394.5 407.2h.01M368.8 410.8h.01M392.8 408.7h.01M370.9 412.3h.01M381.5 411.8h.01M370.0 413.3h.01M365.7 411.6h.01M378.7 415.1h.01M380.4 415.7h.01M385.1 413.2h.01M376.9 405.2h.01M356.7 415.1h.01M398.6 404.8h.01M375.2 413.6h.01M375.8 410.2h.01M382.4 411.0h.01M373.2 409.5h.01M396.3 403.1h.01M370.3 412.3h.01M378.8 411.6h.01M397.6 409.9h.01M379.7 410.8h.01M390.2 407.2h.01M380.9 406.5h.01M384.2 408.9h.01M365.1 415.1h.01M403.7 405.1h.01M372.6 416.5h.01M383.9 409.9h.01M396.8 408.8h.01M401.4 401.9h.01M375.4 411.3h.01M381.2 406.1h.01M381.9 405.2h.01M373.8 411.1h.01M383.0 410.6h.01M372.3 413.5h.01M383.1 409.2h.01M379.9 408.7h.01M400.3 409.4h.01M383.8 413.7h.01M370.3 411.2h.01M376.9 412.6h.01M375.8 408.4h.01M363.3 411.2h.01M390.3 409.1h.01M366.7 420.0h.01M374.5 410.3h.01M378.3 410.9h.01M375.9 411.3h.01M388.9 410.9h.01M372.7 411.7h.01M371.7 411.1h.01M378.7 409.6h.01M385.5 405.8h.01M384.7 411.5h.01M376.4 410.2h.01M386.1 407.4h.01M376.7 411.9h.01M354.5 419.4h.01M383.1 411.4h.01M365.1 412.9h.01M385.1 410.8h.01M373.4 410.6h.01M396.3 406.8h.01M391.9 402.7h.01M384.1 407.4h.01M375.8 415.6h.01M368.1 410.4h.01M372.5 411.5h.01M380.7 411.5h.01M393.5 408.2h.01M399.5 408.6h.01M385.7 408.3h.01M394.3 405.5h.01M390.5 407.6h.01M374.7 413.9h.01M387.5 409.3h.01M391.6 407.6h.01M372.4 412.6h.01M398.9 402.1h.01M360.9 415.4h.01M370.4 417.3h.01M381.0 407.0h.01M378.6 407.6h.01M385.9 411.8h.01M393.6 410.1h.01M380.8 414.0h.01M384.1 405.0h.01M393.6 403.8h.01M372.6 407.2h.01M369.6 406.2h.01M366.4 411.2h.01M367.2 412.5h.01M388.1 407.1h.01M385.5 412.5h.01M374.9 416.5h.01M379.5 410.3h.01M384.9 413.4h.01M368.0 416.5h.01M375.0 411.9h.01" stroke="#7cc44e" stroke-width="0.6" stroke-linecap="round" opacity="0.5" fill="none"/>
<ellipse cx="398.0" cy="397.0" rx="14" ry="4.5" fill="#8ed07a" opacity="0.22" filter="url(#blurF3)" transform="rotate(-30 398.0 397.0)"/>
<path d="M381.2 392.7h.01M411.8 392.8h.01M385.0 399.8h.01M385.8 404.4h.01M418.2 383.6h.01M382.8 410.8h.01M384.7 396.0h.01M401.9 394.5h.01M401.6 398.9h.01M402.2 382.2h.01M402.8 400.7h.01M407.8 384.8h.01M376.7 403.8h.01M401.4 393.7h.01M405.8 391.1h.01M382.3 400.3h.01M397.8 402.0h.01M410.3 383.5h.01M402.3 393.9h.01M383.2 399.4h.01M412.6 385.3h.01M398.3 399.5h.01M403.5 397.6h.01M388.9 400.5h.01M401.5 396.8h.01M386.2 394.4h.01M409.0 395.1h.01M407.2 390.5h.01M378.8 406.7h.01M419.2 385.5h.01M396.3 388.6h.01M394.0 405.2h.01M401.0 394.3h.01M412.5 392.1h.01M403.1 392.8h.01M405.0 398.7h.01M397.9 389.7h.01M395.5 396.9h.01M405.6 399.7h.01M396.1 395.6h.01M406.7 394.3h.01M391.3 403.9h.01M400.8 397.3h.01M377.4 398.3h.01M378.4 399.4h.01M410.5 395.0h.01M388.8 411.3h.01M384.4 400.7h.01M416.4 377.9h.01M407.3 396.0h.01M411.0 392.8h.01M404.6 401.9h.01M397.5 397.9h.01M401.1 393.1h.01M399.8 403.0h.01M416.0 389.3h.01M395.6 395.6h.01M393.2 397.9h.01M393.4 399.4h.01M398.6 402.9h.01M382.7 404.2h.01M405.2 390.2h.01M395.4 401.9h.01M394.7 393.4h.01M401.3 398.7h.01M383.4 411.5h.01M382.6 410.7h.01M385.4 406.3h.01M400.4 401.6h.01M396.2 395.7h.01M391.1 402.6h.01M398.0 402.2h.01M405.6 399.6h.01M405.8 393.2h.01M399.1 400.0h.01M402.4 386.5h.01M401.2 392.9h.01M403.5 398.3h.01M378.5 408.6h.01M403.7 383.4h.01M400.4 395.6h.01M394.8 404.3h.01M407.5 391.3h.01M416.3 394.2h.01M402.4 399.2h.01M411.6 398.7h.01M408.2 394.8h.01M401.4 399.3h.01M414.0 386.7h.01M394.7 393.6h.01M423.1 379.1h.01M391.8 397.7h.01M411.2 391.0h.01M378.2 410.3h.01M416.7 385.2h.01M407.1 408.3h.01M395.4 397.6h.01M411.2 403.1h.01M398.6 387.4h.01M396.4 396.9h.01M405.0 390.7h.01M396.4 390.7h.01M385.8 405.1h.01M412.4 382.5h.01M385.5 411.9h.01M404.5 397.8h.01M397.4 399.0h.01M397.6 397.5h.01M415.5 384.0h.01M394.5 399.4h.01M401.1 405.2h.01M397.9 399.6h.01M387.5 407.0h.01M406.8 395.6h.01M380.7 404.4h.01M376.3 420.5h.01M401.8 404.4h.01M420.7 389.1h.01M391.5 400.0h.01M401.3 383.7h.01M416.4 394.4h.01M406.6 390.2h.01M398.0 387.9h.01M387.7 401.0h.01M395.3 408.7h.01M396.7 383.9h.01M411.5 391.8h.01M394.3 395.4h.01M420.1 384.8h.01M397.0 388.5h.01M395.0 404.3h.01M398.6 394.2h.01M391.2 392.2h.01M375.0 414.7h.01M379.7 399.5h.01M404.1 398.8h.01M397.9 403.8h.01M390.6 383.4h.01M412.1 382.0h.01M413.7 385.7h.01M396.5 395.4h.01M389.8 405.9h.01M418.8 391.8h.01M394.1 402.6h.01M410.6 392.7h.01M390.7 413.8h.01M388.7 398.1h.01M400.5 397.0h.01M389.3 394.9h.01M386.0 404.7h.01" stroke="#a0d8a8" stroke-width="0.6" stroke-linecap="round" opacity="0.4" fill="none"/>
<path d="M377.9 395.4h.01M408.2 387.2h.01M402.9 377.5h.01M393.7 393.3h.01M394.2 399.6h.01M412.6 391.5h.01M397.6 376.9h.01M398.6 376.6h.01M396.0 382.1h.01M393.7 395.5h.01M389.8 378.5h.01M414.5 387.6h.01M406.3 379.6h.01M404.3 397.1h.01M400.6 389.1h.01M415.0 390.7h.01M415.2 374.6h.01M379.3 375.2h.01M405.5 379.2h.01M376.2 401.5h.01M416.1 380.4h.01M392.5 379.0h.01M409.0 389.3h.01M402.0 397.6h.01M390.5 374.5h.01M400.4 384.8h.01M401.5 389.0h.01M381.8 399.5h.01M378.9 388.2h.01M404.6 392.7h.01M403.0 377.9h.01M398.0 372.9h.01M398.4 383.2h.01M377.9 405.0h.01M393.1 390.1h.01M416.0 385.0h.01M395.4 375.2h.01M391.5 378.7h.01M398.5 392.4h.01M402.6 398.7h.01M405.1 387.4h.01M363.7 383.8h.01M403.5 371.9h.01M399.6 378.9h.01M397.7 384.9h.01M397.0 384.7h.01M404.6 388.0h.01M392.3 393.4h.01M401.0 388.5h.01M421.2 400.2h.01M426.4 383.1h.01M405.3 389.6h.01M401.5 383.9h.01M410.3 395.5h.01M426.7 380.4h.01M405.9 378.5h.01M397.1 364.0h.01M425.8 370.9h.01M401.6 369.2h.01M396.3 376.0h.01" stroke="#b0dcc0" stroke-width="0.6" stroke-linecap="round" opacity="0.35" fill="none"/>
</g>
<g clip-path="url(#cf11)">
<ellipse cx="401.2" cy="456.3" rx="11" ry="4.2" fill="#7cc44e" opacity="0.8" filter="url(#blurF2)" transform="rotate(-8 401.2 456.3)"/>
<path d="M382.5 455.3h.01M399.6 456.8h.01M384.8 462.1h.01M398.2 452.7h.01M414.8 452.3h.01M404.6 463.1h.01M402.2 456.6h.01M410.0 454.1h.01M402.2 456.3h.01M398.7 460.7h.01M405.0 462.6h.01M404.4 450.7h.01M405.0 455.4h.01M400.0 461.4h.01M404.5 449.9h.01M419.5 454.0h.01M387.0 457.7h.01M405.4 451.8h.01M393.0 450.7h.01M403.8 454.5h.01M415.4 456.3h.01M403.5 454.2h.01M409.6 450.1h.01M404.4 458.7h.01M394.0 453.1h.01M413.0 463.2h.01M406.2 464.2h.01M405.7 455.7h.01M397.4 452.5h.01M409.5 453.5h.01M396.2 459.4h.01M405.5 453.4h.01M403.4 456.1h.01M402.8 456.3h.01M396.5 447.5h.01M397.0 462.7h.01M398.8 458.2h.01M406.4 452.1h.01M402.1 455.8h.01M405.2 459.1h.01M402.2 456.1h.01M410.2 456.4h.01M389.2 464.1h.01M405.3 454.0h.01M400.5 453.2h.01M402.0 450.7h.01M410.9 457.7h.01M393.0 460.4h.01M388.4 456.6h.01M393.1 461.1h.01M407.0 450.6h.01M403.5 458.9h.01M400.0 467.5h.01M388.4 464.5h.01M414.8 453.7h.01M392.2 463.5h.01M379.5 460.0h.01M388.8 458.7h.01M395.7 452.3h.01M407.2 461.1h.01M389.8 461.4h.01M402.0 454.1h.01M397.1 460.0h.01M411.4 454.4h.01M380.0 463.4h.01M404.0 448.4h.01M396.9 457.6h.01M399.1 458.6h.01M394.0 460.8h.01M377.2 461.9h.01M396.2 457.2h.01M408.1 461.8h.01M392.3 457.9h.01M392.4 458.5h.01M395.6 452.7h.01M411.7 457.1h.01M402.3 462.5h.01M387.1 460.7h.01M415.6 453.5h.01M393.2 454.8h.01M413.1 459.9h.01M404.9 460.4h.01M395.2 456.2h.01M408.3 452.0h.01M403.3 456.6h.01M393.9 458.9h.01M389.6 455.9h.01M383.0 454.2h.01M393.7 459.6h.01M400.7 451.7h.01M400.4 466.7h.01M402.3 458.5h.01M382.2 457.5h.01M410.7 449.5h.01M392.9 455.0h.01M400.5 459.6h.01M386.1 462.0h.01M377.2 456.4h.01M404.2 451.6h.01M393.4 455.8h.01M415.0 450.7h.01M411.0 463.9h.01M397.3 454.0h.01M400.6 452.7h.01M397.2 452.9h.01M386.9 452.1h.01M409.0 452.9h.01M391.4 462.8h.01M399.3 455.7h.01M394.3 457.8h.01M398.0 455.4h.01M399.9 460.3h.01M400.1 462.6h.01M409.2 451.3h.01M391.6 452.7h.01M394.6 460.8h.01M397.7 455.2h.01M400.6 447.6h.01M403.7 455.6h.01M406.8 454.7h.01M410.5 460.0h.01M398.6 459.6h.01M392.4 455.0h.01M391.0 457.3h.01M389.3 453.8h.01M398.1 451.0h.01M405.6 452.2h.01M398.5 455.8h.01M410.3 458.0h.01M398.4 454.6h.01M408.5 455.1h.01M391.5 458.7h.01M406.5 455.9h.01M402.2 462.9h.01M396.6 460.6h.01M415.9 461.9h.01M390.8 460.5h.01M403.5 466.7h.01M412.9 459.4h.01M411.8 457.6h.01M392.8 467.5h.01M386.1 462.2h.01M408.0 456.7h.01M410.0 455.5h.01M408.3 456.8h.01M394.9 461.9h.01M396.2 460.2h.01M391.7 459.1h.01M406.5 461.0h.01M390.8 455.9h.01M400.2 452.5h.01M407.8 466.0h.01M407.4 458.6h.01M393.8 460.3h.01M406.9 464.4h.01M398.6 462.5h.01M397.7 456.1h.01M397.3 458.5h.01M387.3 457.2h.01M413.3 447.4h.01M409.4 459.0h.01M396.7 454.1h.01M411.0 454.0h.01M403.6 455.5h.01M391.5 462.6h.01M406.4 452.1h.01M410.2 450.2h.01M390.0 462.1h.01M397.1 457.4h.01M414.7 450.3h.01M406.3 454.4h.01M401.8 455.8h.01M393.9 458.1h.01M392.7 458.1h.01M392.3 456.9h.01M401.4 450.8h.01M400.9 459.9h.01M402.6 460.6h.01M392.4 460.6h.01M402.2 444.9h.01M401.5 460.5h.01M400.5 457.1h.01M399.7 456.4h.01M391.2 455.3h.01M382.5 468.4h.01M401.0 457.8h.01M406.9 458.2h.01M399.4 450.4h.01M391.3 465.4h.01M405.2 459.1h.01M391.3 456.2h.01M402.9 453.3h.01M411.3 452.2h.01M396.5 452.6h.01M405.0 461.8h.01M402.9 456.5h.01M398.2 460.6h.01M402.0 464.2h.01M398.4 455.6h.01M395.2 449.5h.01M403.1 457.1h.01M386.0 454.0h.01M391.2 456.9h.01M392.3 461.3h.01M411.3 452.6h.01M400.6 452.4h.01M412.2 450.6h.01M393.9 457.9h.01M395.3 469.1h.01M399.1 456.1h.01M392.1 457.7h.01M395.3 455.9h.01M409.6 453.1h.01M404.4 453.7h.01M409.5 452.4h.01M392.2 457.0h.01M411.9 453.6h.01M393.1 457.3h.01M394.8 458.8h.01M395.1 459.0h.01M409.3 457.8h.01M414.6 456.2h.01M418.2 459.8h.01M399.0 460.4h.01M394.3 456.9h.01M399.8 453.7h.01M403.7 456.1h.01M419.2 457.6h.01M398.4 454.4h.01M395.8 454.7h.01M394.3 457.8h.01M388.8 457.3h.01M405.0 453.8h.01M390.7 456.2h.01M408.2 452.6h.01M413.9 448.0h.01M394.2 460.4h.01M412.9 454.3h.01M386.1 457.7h.01M392.5 455.1h.01M397.3 454.8h.01M400.7 457.5h.01M397.4 449.8h.01M397.9 446.2h.01M401.4 455.0h.01M394.0 466.7h.01M416.5 460.3h.01M402.6 454.5h.01M406.1 463.0h.01M400.1 456.3h.01M395.8 457.3h.01M407.9 452.0h.01M410.5 456.1h.01M420.9 454.9h.01M411.7 451.2h.01M422.5 454.2h.01M401.2 463.2h.01M401.7 451.6h.01M406.8 458.4h.01M400.7 455.0h.01M387.7 465.8h.01M397.4 458.9h.01M396.2 454.6h.01M403.1 452.9h.01M408.5 449.1h.01M407.1 461.0h.01M397.3 458.3h.01M408.2 454.0h.01M399.0 456.4h.01M424.8 450.1h.01M399.3 455.3h.01M395.7 453.7h.01M395.4 458.4h.01M412.4 462.1h.01M389.2 454.5h.01M400.3 452.9h.01M394.1 456.9h.01M395.7 454.1h.01M402.6 453.4h.01M399.0 458.5h.01M407.6 456.9h.01M410.9 456.2h.01M388.9 464.8h.01M426.9 456.7h.01M416.0 459.5h.01M397.6 460.0h.01M394.7 455.4h.01M406.2 456.6h.01M394.5 451.9h.01M408.3 455.9h.01M402.0 453.1h.01M394.3 457.7h.01M385.4 464.2h.01M402.0 461.4h.01M409.4 453.4h.01M405.1 451.7h.01M393.9 463.5h.01M396.0 454.4h.01M405.4 456.4h.01M409.1 450.4h.01M398.3 452.8h.01M401.3 455.8h.01M391.9 450.9h.01M389.8 462.5h.01M397.3 452.9h.01M402.1 452.1h.01M409.9 459.4h.01M401.3 454.5h.01M385.3 461.2h.01M419.3 455.2h.01M396.9 460.9h.01M397.1 452.4h.01M400.6 459.5h.01M385.6 463.5h.01M415.6 454.8h.01M396.1 451.7h.01M405.8 455.1h.01M412.9 461.8h.01M412.3 456.1h.01M385.9 464.6h.01M396.7 455.5h.01M411.0 457.6h.01M391.8 456.8h.01M398.6 456.7h.01M391.7 464.5h.01M400.5 459.8h.01M411.9 464.6h.01M407.3 453.0h.01M397.9 461.1h.01M415.1 448.8h.01" stroke="#7cc44e" stroke-width="0.6" stroke-linecap="round" opacity="0.55" fill="none"/>
<ellipse cx="404.0" cy="464.0" rx="10" ry="5" fill="#8ed07a" opacity="0.28" filter="url(#blurF3)"/>
<ellipse cx="393.5" cy="477.3" rx="11" ry="4.5" fill="#8ed07a" opacity="0.38" filter="url(#blurF3)" transform="rotate(-32 393.5 477.3)"/>
<path d="M406.6 466.4h.01M390.9 476.8h.01M397.4 473.9h.01M391.0 474.4h.01M405.1 471.6h.01M397.4 484.7h.01M401.1 478.9h.01M391.6 479.1h.01M394.0 481.0h.01M391.9 470.3h.01M397.2 473.9h.01M397.3 479.4h.01M392.6 480.8h.01M393.3 476.9h.01M389.3 479.4h.01M392.7 481.4h.01M377.1 490.1h.01M390.6 474.2h.01M399.2 473.5h.01M400.4 479.2h.01M391.7 470.9h.01M381.1 484.7h.01M388.7 490.2h.01M388.9 471.7h.01M375.8 485.8h.01M376.1 490.4h.01M377.7 491.2h.01M392.0 483.4h.01M383.6 481.3h.01M398.3 466.7h.01M401.5 479.0h.01M385.5 481.5h.01M409.1 474.4h.01M405.5 469.3h.01M390.3 478.5h.01M392.3 481.9h.01M400.9 475.0h.01M389.9 483.2h.01M397.7 475.8h.01M402.0 470.2h.01M396.7 480.4h.01M389.6 483.8h.01M402.2 478.8h.01M402.1 469.2h.01M406.1 467.3h.01M383.9 482.0h.01M389.0 475.9h.01M402.0 474.4h.01M395.3 469.7h.01M408.3 470.2h.01M403.1 473.0h.01M397.9 478.1h.01M397.7 481.2h.01M385.4 472.9h.01M390.8 478.9h.01M396.8 475.7h.01M397.7 476.8h.01M393.4 479.9h.01M396.1 472.1h.01M380.7 486.4h.01M399.6 478.5h.01M402.6 473.0h.01M401.2 469.8h.01M392.9 484.0h.01M384.5 482.8h.01M383.1 478.2h.01M406.0 461.3h.01M406.1 467.4h.01M384.4 475.3h.01M396.6 478.3h.01M396.1 471.5h.01M406.5 470.2h.01M398.8 476.8h.01M397.2 473.5h.01M394.8 473.2h.01M393.5 472.8h.01M381.6 482.0h.01M391.0 475.7h.01M390.2 476.9h.01M397.6 482.9h.01M399.8 477.3h.01M402.9 475.5h.01M398.6 478.1h.01M401.4 471.7h.01M391.5 478.5h.01M394.2 479.1h.01M389.4 478.0h.01M396.4 477.8h.01M389.8 472.8h.01M393.5 481.2h.01M394.6 482.5h.01M389.3 478.8h.01M402.1 477.4h.01M394.5 483.6h.01M395.9 477.7h.01M408.9 471.6h.01M391.9 478.1h.01M389.2 485.2h.01M400.2 481.8h.01M402.9 471.6h.01M388.5 479.1h.01M402.8 471.0h.01M404.8 476.0h.01M405.4 471.1h.01M396.4 469.7h.01M396.4 475.8h.01M397.0 467.1h.01M396.2 486.4h.01M394.0 474.9h.01M394.2 476.3h.01M392.4 480.8h.01M398.1 479.8h.01M414.1 467.9h.01M399.5 480.5h.01M387.1 489.7h.01M384.3 481.0h.01M391.4 472.5h.01M389.4 480.7h.01M394.0 470.7h.01M372.7 493.5h.01M382.0 486.2h.01M398.9 477.7h.01M388.3 477.9h.01M416.6 462.5h.01M383.4 477.7h.01M395.4 484.2h.01M397.1 471.0h.01M382.1 481.7h.01M394.2 478.3h.01M399.7 478.7h.01M380.5 478.4h.01M394.3 479.7h.01M390.1 480.8h.01M395.5 481.5h.01M391.1 476.7h.01M399.6 478.2h.01M388.6 480.0h.01M385.9 476.9h.01M410.7 463.8h.01M390.6 477.7h.01M387.3 480.7h.01M393.8 479.0h.01M386.6 475.2h.01M394.2 480.3h.01M403.0 471.1h.01M390.1 476.1h.01M403.7 468.3h.01M389.7 479.5h.01M392.1 478.6h.01M400.4 481.0h.01M398.4 476.3h.01M387.3 491.6h.01M399.4 477.8h.01M391.1 478.5h.01M390.5 478.5h.01M392.3 481.8h.01M401.7 472.1h.01M393.2 481.5h.01M393.3 480.1h.01M391.8 485.0h.01M391.4 481.3h.01M407.4 470.6h.01M393.3 481.0h.01M400.6 462.7h.01M390.5 478.6h.01M397.1 468.2h.01M399.9 473.7h.01M395.8 471.2h.01M408.8 479.9h.01M395.9 478.7h.01M380.0 472.7h.01M392.7 476.9h.01M398.9 474.3h.01M379.1 476.1h.01M404.1 475.3h.01M392.2 477.1h.01M397.9 472.2h.01M386.6 487.5h.01M382.4 482.5h.01M404.5 472.8h.01M405.1 477.1h.01M392.1 471.4h.01M376.1 478.0h.01M396.3 469.0h.01M393.0 478.2h.01M396.3 475.6h.01M404.1 472.3h.01M401.7 472.0h.01M394.3 477.7h.01M399.0 477.6h.01M391.3 481.7h.01M409.1 455.1h.01M398.3 473.9h.01M390.8 476.3h.01M385.3 483.7h.01M391.6 486.1h.01M399.9 481.7h.01M391.6 471.9h.01M397.4 475.9h.01M395.1 465.1h.01M397.4 481.8h.01M390.0 470.0h.01M398.0 476.9h.01M405.6 472.5h.01M388.6 486.0h.01M401.7 478.0h.01M394.6 481.6h.01M374.9 482.7h.01M401.8 479.8h.01M398.4 475.1h.01M391.6 476.6h.01M398.4 465.9h.01M399.0 481.1h.01M376.3 477.6h.01M386.2 482.0h.01M396.7 472.7h.01M398.7 471.8h.01M383.6 488.4h.01M392.4 475.0h.01M375.8 476.5h.01" stroke="#8ed07a" stroke-width="0.6" stroke-linecap="round" opacity="0.5" fill="none"/>
<ellipse cx="366.8" cy="489.3" rx="3.2" ry="7" fill="#7cc44e" opacity="0.5" filter="url(#blurF2)" transform="rotate(8 366.8 489.3)"/>
<path d="M363.5 493.1h.01M365.6 480.8h.01M364.4 492.4h.01M367.7 496.7h.01M363.4 497.8h.01M371.1 492.4h.01M368.6 499.5h.01M368.9 484.2h.01M368.2 491.6h.01M366.8 505.2h.01M367.4 487.8h.01M370.5 489.9h.01M363.3 490.6h.01M371.2 479.9h.01M370.2 501.4h.01M363.7 490.3h.01M367.7 492.7h.01M367.3 493.6h.01M365.1 487.5h.01M366.4 491.8h.01M371.8 495.3h.01M363.8 491.1h.01M370.7 502.3h.01M371.7 490.5h.01M369.0 490.6h.01M363.9 489.1h.01M367.0 481.5h.01M367.0 486.8h.01M365.8 493.5h.01M364.0 489.3h.01M367.9 491.1h.01M367.8 489.9h.01M364.4 476.2h.01M365.8 486.6h.01M365.1 484.2h.01M364.5 499.3h.01M366.1 494.0h.01M368.8 490.5h.01M370.2 486.2h.01M367.5 482.1h.01M366.0 494.5h.01M364.7 488.4h.01M366.4 488.8h.01M365.7 490.8h.01M363.5 489.5h.01M372.7 483.3h.01M369.9 485.3h.01M363.9 499.9h.01M368.4 493.2h.01M371.1 493.8h.01M368.7 475.4h.01M367.6 499.7h.01M366.9 481.8h.01M361.8 492.1h.01M360.1 490.5h.01M369.7 486.8h.01M364.4 487.1h.01M372.4 482.9h.01M364.4 492.0h.01M364.2 496.8h.01M366.0 481.6h.01M363.1 487.2h.01M370.1 489.7h.01M366.7 479.8h.01M368.3 485.2h.01M374.5 482.9h.01M364.3 480.9h.01M367.1 492.7h.01M366.7 496.3h.01M369.5 485.9h.01M372.4 485.1h.01M367.6 489.5h.01M370.3 489.4h.01M369.6 477.5h.01M366.7 490.0h.01M372.7 479.4h.01M363.0 493.7h.01M373.4 490.9h.01M362.6 477.6h.01M366.7 483.7h.01M367.5 495.7h.01M370.0 483.8h.01M365.2 487.7h.01M367.7 492.7h.01M365.1 495.2h.01M369.3 487.6h.01M366.3 498.8h.01M369.1 487.6h.01M365.3 494.7h.01M368.0 490.1h.01M365.2 487.3h.01M366.0 499.8h.01M363.3 489.4h.01M365.6 480.5h.01M374.5 482.4h.01M369.6 495.8h.01M368.3 489.7h.01M366.5 492.1h.01M367.7 492.7h.01M370.2 479.6h.01M363.5 488.4h.01M368.1 481.1h.01M369.3 492.5h.01M367.0 495.5h.01M368.9 488.7h.01M364.4 495.8h.01M366.3 484.5h.01M363.8 492.9h.01M367.9 488.3h.01M370.4 484.6h.01M369.8 486.4h.01M366.8 487.9h.01M366.5 497.6h.01M364.5 495.1h.01M370.6 488.7h.01M366.2 482.1h.01M364.4 506.3h.01M366.4 489.8h.01M364.1 491.4h.01M366.9 495.2h.01M372.0 496.1h.01M364.8 488.0h.01M363.8 486.1h.01M362.2 495.4h.01M360.4 491.9h.01M368.7 480.0h.01M368.1 497.2h.01M372.2 488.3h.01M369.0 490.6h.01M371.1 489.7h.01M371.0 483.5h.01M366.1 482.4h.01M367.6 481.5h.01M368.0 485.8h.01M362.9 490.0h.01M369.8 492.6h.01M368.2 487.9h.01M367.9 479.5h.01M373.9 479.9h.01M365.4 482.6h.01M363.9 489.6h.01M365.4 485.5h.01M369.0 482.0h.01M363.5 491.4h.01M367.2 477.9h.01M369.9 480.7h.01M367.0 489.2h.01M367.6 490.8h.01M365.9 488.7h.01M362.2 490.0h.01" stroke="#7cc44e" stroke-width="0.6" stroke-linecap="round" opacity="0.5" fill="none"/>
<path d="M366.6 489.7h.01M373.6 490.4h.01M377.7 488.6h.01M375.3 484.8h.01M381.0 489.3h.01M375.7 472.2h.01M378.9 489.6h.01M385.8 484.7h.01M384.5 468.0h.01M375.6 482.8h.01M390.6 484.8h.01M393.7 486.2h.01M375.4 483.1h.01M373.0 486.7h.01M378.9 481.0h.01M388.8 491.4h.01M376.2 488.7h.01M377.0 483.5h.01M372.9 482.7h.01M388.8 494.6h.01M377.3 484.4h.01M385.0 481.8h.01M382.6 478.3h.01M380.5 489.8h.01M383.1 494.1h.01M385.4 483.9h.01M369.7 474.2h.01M371.6 485.3h.01M374.6 500.3h.01M380.8 488.3h.01M378.8 485.1h.01M380.4 491.8h.01M378.5 490.9h.01M386.8 487.2h.01M382.4 487.9h.01M385.4 490.6h.01M379.6 492.2h.01M385.6 487.3h.01M370.8 495.1h.01M379.7 489.9h.01M379.4 484.7h.01M371.1 486.3h.01M377.1 488.9h.01M376.5 486.0h.01M382.9 486.2h.01M374.7 488.7h.01M376.5 481.0h.01M371.8 481.8h.01M374.6 474.8h.01M369.4 483.1h.01M375.8 485.3h.01M381.7 480.7h.01M387.6 488.0h.01M363.4 485.9h.01M372.1 488.8h.01M388.9 479.0h.01M378.8 480.6h.01M369.1 489.4h.01M383.3 482.7h.01M375.7 479.9h.01M374.1 484.9h.01M377.1 489.8h.01M379.4 485.9h.01M378.8 489.3h.01M381.6 479.2h.01M377.0 488.2h.01M373.4 478.7h.01M372.0 479.8h.01M376.8 485.3h.01M381.4 476.3h.01" stroke="#a8dca8" stroke-width="0.6" stroke-linecap="round" opacity="0.4" fill="none"/>
</g>
<g clip-path="url(#cf20)">
<ellipse cx="493.0" cy="386.0" rx="13" ry="8.5" fill="#7fa4d4" opacity="0.4" filter="url(#blurF3)" transform="rotate(-20 493.0 386.0)"/>
<path d="M500.5 389.5h.01M519.0 375.0h.01M497.5 372.6h.01M508.3 392.6h.01M495.4 381.3h.01M506.5 374.8h.01M509.0 373.1h.01M499.5 386.3h.01M494.7 381.7h.01M487.6 398.3h.01M496.6 378.9h.01M483.4 395.4h.01M507.1 381.0h.01M491.4 391.2h.01M501.8 391.9h.01M491.2 382.2h.01M490.5 377.9h.01M482.5 386.5h.01M492.8 387.1h.01M479.8 388.8h.01M509.3 368.4h.01M489.6 384.3h.01M498.4 378.9h.01M514.8 374.6h.01M497.0 386.1h.01M508.4 383.9h.01M481.0 391.2h.01M491.0 395.4h.01M500.1 386.4h.01M491.7 381.9h.01M506.4 388.1h.01M515.3 376.5h.01M502.6 375.5h.01M499.5 384.2h.01M482.6 385.9h.01M494.7 384.3h.01M490.8 385.3h.01M493.2 383.3h.01M478.2 392.7h.01M510.3 378.9h.01M493.8 380.4h.01M484.3 382.9h.01M481.5 390.9h.01M486.1 391.2h.01M491.9 376.8h.01M514.4 376.1h.01M494.4 382.7h.01M482.9 389.8h.01M494.4 371.2h.01M494.8 386.7h.01M507.1 367.4h.01M489.9 395.5h.01M488.5 392.5h.01M482.0 382.3h.01M500.0 380.0h.01M483.8 390.0h.01M505.1 381.2h.01M512.6 370.2h.01M510.6 382.1h.01M504.1 387.6h.01M490.7 385.1h.01M479.7 386.2h.01M489.5 394.7h.01M490.5 389.7h.01M498.6 400.8h.01M484.2 383.0h.01M496.1 372.9h.01M492.1 379.7h.01M485.5 387.6h.01M515.6 384.3h.01M503.0 386.0h.01M497.3 380.0h.01M495.4 384.7h.01M502.0 389.2h.01M480.1 381.8h.01M505.3 374.1h.01M511.8 399.2h.01M504.8 384.3h.01M493.2 387.5h.01M509.5 401.5h.01M502.1 381.9h.01M509.4 380.4h.01M507.1 383.2h.01M497.8 390.0h.01M491.2 382.4h.01M493.6 386.7h.01M492.2 391.9h.01M497.9 386.6h.01M491.3 388.6h.01M500.0 381.7h.01M492.3 388.5h.01M495.0 381.5h.01M503.0 385.8h.01M509.3 372.3h.01M482.5 392.1h.01M514.3 385.2h.01M492.5 381.3h.01M495.9 381.9h.01M486.5 389.3h.01M486.8 386.5h.01M486.6 387.3h.01M498.7 384.6h.01M494.1 378.6h.01M480.0 390.3h.01M495.2 390.0h.01M482.9 396.4h.01M490.4 379.7h.01M487.3 385.1h.01M505.7 378.6h.01M495.0 379.4h.01M479.3 386.2h.01M477.7 389.6h.01M495.6 397.4h.01M491.7 394.4h.01M501.7 388.7h.01M495.4 384.4h.01M501.0 391.4h.01M483.3 381.1h.01M484.9 379.1h.01M488.9 385.5h.01M486.2 387.3h.01M505.3 382.2h.01M504.0 381.1h.01M491.7 377.2h.01M506.2 383.6h.01M507.4 380.4h.01M492.6 400.9h.01M478.9 377.5h.01M498.8 376.8h.01M483.2 391.6h.01M490.2 399.7h.01M518.5 392.0h.01M490.6 393.5h.01M486.5 385.0h.01M491.1 385.6h.01M496.3 382.8h.01M503.9 372.6h.01M494.0 374.8h.01M501.4 391.6h.01M509.8 384.6h.01M494.0 381.4h.01M490.5 388.3h.01M483.8 380.4h.01M507.2 384.7h.01M497.3 381.8h.01M499.3 381.0h.01M498.0 384.8h.01M492.8 381.9h.01M498.6 378.6h.01M511.0 386.1h.01M492.7 389.7h.01M502.0 383.2h.01M483.9 391.6h.01M490.2 386.0h.01M513.7 379.1h.01M482.2 395.3h.01M502.1 377.3h.01M492.1 381.8h.01M499.3 392.1h.01M518.4 375.5h.01M498.7 394.0h.01M493.8 392.4h.01M495.1 407.9h.01M487.8 393.4h.01M511.8 386.4h.01M511.3 386.4h.01M496.1 390.3h.01M503.0 384.4h.01M502.0 381.3h.01M489.6 397.6h.01M499.7 395.5h.01M511.2 376.9h.01M510.8 382.9h.01M494.2 374.0h.01M489.6 386.1h.01M485.9 380.8h.01M478.4 392.8h.01M499.7 390.0h.01M477.0 381.3h.01M513.3 378.1h.01M495.5 392.7h.01M483.3 388.7h.01M502.9 385.9h.01M501.4 380.5h.01M505.2 371.9h.01M472.7 392.4h.01M495.2 385.4h.01M471.4 385.0h.01M492.7 392.6h.01M509.0 392.2h.01M481.2 387.0h.01M474.8 384.5h.01M481.9 389.5h.01M486.6 390.7h.01M506.7 379.5h.01M490.0 387.6h.01M491.7 385.3h.01M487.9 389.1h.01M489.8 390.6h.01M498.0 391.9h.01M500.4 387.3h.01M492.2 383.5h.01M497.6 378.8h.01M501.5 394.8h.01M489.1 392.4h.01M499.9 383.9h.01M503.1 379.6h.01M483.7 393.4h.01M499.2 386.2h.01M500.2 376.3h.01M490.2 399.9h.01M493.7 393.4h.01M493.8 372.9h.01M495.1 404.9h.01M497.5 390.0h.01M481.7 389.7h.01M483.2 388.0h.01M493.7 381.0h.01M482.4 394.3h.01M498.5 381.0h.01M489.5 393.8h.01M495.4 393.7h.01M499.8 382.0h.01M499.5 371.3h.01M485.4 389.6h.01M504.6 388.0h.01M497.4 379.2h.01M497.6 397.7h.01M503.0 390.1h.01M492.5 378.3h.01M493.5 395.2h.01M489.6 396.4h.01M495.0 373.7h.01M493.6 382.6h.01M495.5 395.6h.01M477.4 381.0h.01M491.2 387.9h.01M497.0 385.9h.01M485.5 387.7h.01M515.1 381.8h.01M502.8 385.3h.01M492.9 376.0h.01M504.3 399.6h.01M478.8 395.7h.01M483.5 394.5h.01M496.9 384.3h.01M481.3 386.8h.01M505.9 379.8h.01M494.8 389.5h.01M488.2 386.7h.01M484.5 403.5h.01M498.0 388.8h.01M486.3 381.6h.01M499.9 380.5h.01M492.2 379.5h.01M514.9 377.8h.01M499.1 390.4h.01M484.0 390.9h.01M480.1 385.3h.01M504.6 390.2h.01M496.3 378.8h.01M494.8 390.9h.01M489.6 385.4h.01M497.7 390.3h.01M484.8 378.8h.01M488.5 386.9h.01M492.6 388.4h.01M504.4 382.1h.01M496.3 380.7h.01M494.4 389.7h.01M485.3 396.0h.01M485.5 387.1h.01M500.5 387.6h.01M493.3 382.0h.01M511.7 378.9h.01M494.5 386.3h.01M494.7 383.9h.01M486.3 381.6h.01M485.0 394.1h.01M510.0 381.4h.01M494.9 384.1h.01M494.6 398.8h.01M496.9 388.6h.01M497.3 365.1h.01M500.0 383.5h.01M495.1 386.3h.01M501.5 387.4h.01M508.4 377.9h.01M500.0 390.1h.01M488.4 386.8h.01M500.2 385.3h.01M493.8 387.9h.01M518.1 374.3h.01M484.5 390.7h.01M475.8 388.3h.01M478.8 399.8h.01M500.8 382.0h.01M470.7 386.3h.01M490.8 407.4h.01M480.0 391.1h.01" stroke="#6f98cc" stroke-width="0.6" stroke-linecap="round" opacity="0.55" fill="none"/>
<ellipse cx="480.0" cy="405.0" rx="14" ry="5" fill="#8fb0d8" opacity="0.16" filter="url(#blurF3)" transform="rotate(-35 480.0 405.0)"/>
<path d="M490.4 400.1h.01M474.4 404.5h.01M490.0 395.9h.01M461.1 412.9h.01M477.8 414.3h.01M473.1 398.3h.01M478.4 410.2h.01M468.4 408.8h.01M467.1 414.4h.01M478.7 401.5h.01M482.7 405.2h.01M472.6 408.7h.01M485.7 398.2h.01M464.4 418.3h.01M480.3 406.3h.01M486.4 409.0h.01M470.6 422.5h.01M487.1 403.3h.01M470.5 410.8h.01M479.9 406.8h.01M462.1 416.1h.01M465.2 427.3h.01M470.8 406.4h.01M476.0 410.5h.01M491.8 399.6h.01M460.4 415.4h.01M482.7 402.9h.01M486.9 396.0h.01M470.8 398.1h.01M480.5 407.4h.01M479.3 399.4h.01M479.5 404.3h.01M468.5 408.8h.01M483.6 405.4h.01M497.7 385.8h.01M478.9 409.7h.01M477.0 410.8h.01M464.8 425.0h.01M490.3 397.4h.01M464.9 412.1h.01M475.5 415.6h.01M475.2 408.8h.01M485.1 398.2h.01M466.7 399.8h.01M492.9 404.0h.01M479.1 399.1h.01M484.2 399.4h.01M449.7 423.2h.01M457.6 417.7h.01M469.9 416.2h.01M463.7 416.3h.01M473.8 398.6h.01M478.5 400.9h.01M465.0 405.6h.01M478.0 401.5h.01M478.1 405.0h.01M494.4 392.3h.01M484.3 409.3h.01M478.2 412.5h.01M479.3 392.8h.01M495.1 392.5h.01M466.7 411.6h.01M482.2 403.7h.01M497.1 381.5h.01M481.7 399.4h.01M473.7 405.5h.01M476.3 416.3h.01M481.3 402.7h.01M478.6 395.5h.01M476.5 403.2h.01M473.4 416.7h.01M483.5 405.1h.01M473.8 408.8h.01M481.2 406.7h.01M482.5 405.0h.01M473.1 411.7h.01M485.6 403.0h.01M477.3 407.2h.01M479.9 405.8h.01M478.2 402.2h.01M474.6 408.4h.01M461.2 402.2h.01M477.6 403.2h.01M483.8 404.8h.01M482.5 400.5h.01M476.6 396.0h.01M483.0 396.3h.01M472.7 411.9h.01M470.3 405.1h.01M473.9 402.0h.01M484.7 393.8h.01M481.6 409.2h.01M489.0 411.2h.01M491.2 398.0h.01M468.5 415.6h.01M495.3 398.8h.01M487.5 402.4h.01M479.4 406.6h.01M483.8 401.3h.01M490.8 391.1h.01M491.3 392.6h.01M468.0 410.4h.01M470.1 409.2h.01M489.7 404.5h.01M480.4 387.6h.01M490.0 392.4h.01M487.4 406.3h.01M495.9 403.2h.01M477.6 399.8h.01M475.5 418.6h.01M476.5 407.4h.01M471.9 404.1h.01M499.3 398.6h.01M483.5 405.4h.01M471.7 409.0h.01M476.9 412.0h.01M491.3 392.7h.01M463.9 420.0h.01M498.5 385.0h.01M499.8 391.9h.01M478.2 395.7h.01M473.6 399.6h.01M493.0 408.5h.01M480.1 399.6h.01M472.9 408.2h.01M485.4 408.8h.01M481.2 403.8h.01M466.4 407.8h.01M481.7 402.0h.01M479.3 407.3h.01M493.9 388.6h.01M489.6 402.9h.01M470.7 402.6h.01M467.2 413.8h.01M481.9 404.8h.01M489.8 403.2h.01M498.4 401.0h.01M480.0 405.0h.01M467.1 405.9h.01M476.4 399.9h.01M491.6 391.2h.01M495.3 388.9h.01M481.3 409.5h.01M488.0 406.7h.01M473.0 413.3h.01M476.9 409.0h.01M463.1 410.6h.01M478.0 408.0h.01M466.2 408.1h.01M459.3 415.0h.01M495.1 389.7h.01M455.6 412.7h.01M466.8 410.4h.01M485.0 405.7h.01M476.2 410.3h.01M480.8 407.3h.01M493.0 399.6h.01M464.3 419.3h.01M469.6 397.4h.01M483.6 399.9h.01M461.2 405.5h.01M485.8 401.6h.01M486.9 399.7h.01M498.8 386.8h.01M480.8 403.9h.01M500.3 397.4h.01M477.2 413.1h.01M475.2 412.3h.01M458.2 408.4h.01M491.4 398.5h.01M470.9 399.9h.01M472.3 405.8h.01M487.9 399.2h.01M456.8 415.5h.01M465.8 409.6h.01M470.0 417.8h.01M491.3 394.8h.01M469.1 405.8h.01M485.7 413.3h.01M491.3 399.0h.01M490.6 392.9h.01M475.6 409.7h.01M471.1 417.5h.01M470.2 403.2h.01M488.9 396.0h.01M480.7 411.8h.01M493.2 390.7h.01M488.3 389.2h.01M495.6 394.3h.01M484.7 409.9h.01M479.4 393.7h.01M486.3 405.1h.01M495.5 402.7h.01M472.7 401.6h.01M462.0 413.6h.01M474.1 409.2h.01M496.2 389.7h.01M466.4 413.7h.01M484.1 405.4h.01M496.2 395.6h.01M481.1 398.8h.01M486.7 405.4h.01M480.9 413.4h.01M482.4 407.1h.01M465.7 420.8h.01M477.4 402.9h.01M482.9 403.5h.01M468.8 404.1h.01M486.4 403.8h.01M481.3 401.5h.01M472.3 398.0h.01M472.6 404.7h.01M472.0 395.9h.01M464.7 411.7h.01M456.3 412.2h.01M494.8 392.1h.01M474.6 408.0h.01M469.1 412.1h.01M471.8 403.4h.01M482.3 406.5h.01M476.2 398.7h.01M479.0 400.7h.01M475.5 408.2h.01M487.0 404.1h.01M483.0 416.9h.01M492.2 400.0h.01M501.8 395.7h.01M500.1 397.2h.01M478.5 410.4h.01M494.5 398.8h.01M496.1 396.7h.01M471.2 409.2h.01M466.5 405.7h.01M504.1 392.5h.01M489.9 389.4h.01M487.4 396.2h.01M490.0 401.7h.01M491.8 391.2h.01M496.8 398.7h.01M481.2 396.8h.01M462.5 406.3h.01M465.7 419.0h.01M461.0 412.8h.01M482.1 399.7h.01M488.9 405.3h.01M476.8 410.4h.01M491.5 395.9h.01M490.9 396.3h.01M484.9 406.3h.01M477.6 404.8h.01M489.3 404.0h.01M472.5 416.3h.01M483.4 403.2h.01M492.6 389.8h.01M468.0 405.9h.01M483.7 404.7h.01M466.3 416.7h.01M468.6 413.7h.01M506.1 392.8h.01M483.6 407.6h.01" stroke="#8fb0d8" stroke-width="0.6" stroke-linecap="round" opacity="0.5" fill="none"/>
<ellipse cx="496.8" cy="376.0" rx="12" ry="4.2" fill="#4a98b0" opacity="0.75" filter="url(#blurF2)" transform="rotate(-3 496.8 376.0)"/>
<ellipse cx="496.3" cy="375.7" rx="9.2" ry="2.8" fill="#7cc44e" opacity="1" filter="url(#blurF1)" transform="rotate(-3 496.3 375.7)"/>
<ellipse cx="494.5" cy="375.6" rx="4.5" ry="1.3" fill="#c8d830" opacity="0.55" filter="url(#blurF1)" transform="rotate(-3 494.5 375.6)"/>
</g>
<g clip-path="url(#cf21)">
<ellipse cx="494.0" cy="453.2" rx="10" ry="3.3" fill="#7cc44e" opacity="0.82" filter="url(#blurF2)" transform="rotate(-8 494.0 453.2)"/>
<path d="M500.0 445.6h.01M488.1 456.6h.01M498.8 449.7h.01M498.5 454.1h.01M493.7 453.5h.01M510.8 453.4h.01M501.3 447.4h.01M491.8 456.3h.01M496.5 452.6h.01M486.9 455.5h.01M492.8 448.9h.01M515.9 449.9h.01M478.7 451.2h.01M489.2 452.8h.01M487.3 454.1h.01M506.3 448.6h.01M504.1 454.5h.01M484.5 450.5h.01M501.2 455.5h.01M501.1 454.3h.01M489.2 456.1h.01M485.8 456.4h.01M502.2 454.5h.01M505.9 453.8h.01M503.5 452.7h.01M508.7 451.4h.01M506.8 449.7h.01M485.1 455.5h.01M493.9 452.1h.01M488.5 456.8h.01M498.7 455.6h.01M491.5 455.0h.01M486.1 452.7h.01M501.7 454.9h.01M496.2 456.9h.01M489.0 458.4h.01M493.5 453.2h.01M487.3 458.6h.01M487.1 458.7h.01M505.7 446.4h.01M493.7 450.2h.01M490.5 454.0h.01M492.5 455.8h.01M497.7 447.7h.01M483.7 451.0h.01M483.4 456.6h.01M493.2 453.8h.01M476.8 454.8h.01M475.9 456.0h.01M489.3 455.5h.01M499.2 455.3h.01M492.7 454.8h.01M487.0 461.2h.01M495.2 450.0h.01M495.4 456.6h.01M488.7 457.7h.01M492.3 457.7h.01M494.4 450.8h.01M496.5 456.8h.01M478.0 452.8h.01M497.2 449.7h.01M479.2 455.6h.01M490.1 453.1h.01M491.1 454.7h.01M486.3 449.8h.01M492.0 452.8h.01M492.7 453.8h.01M487.6 449.6h.01M498.7 457.2h.01M498.6 453.2h.01M499.1 451.6h.01M481.5 449.4h.01M494.5 449.9h.01M486.5 455.7h.01M502.9 456.4h.01M479.7 454.7h.01M487.9 454.4h.01M494.0 454.8h.01M491.6 450.1h.01M477.5 461.1h.01M489.1 456.1h.01M495.5 455.5h.01M494.6 456.8h.01M485.9 456.1h.01M497.7 450.4h.01M485.8 452.2h.01M504.5 450.5h.01M501.1 451.1h.01M496.3 454.9h.01M495.6 451.7h.01M490.7 459.5h.01M506.4 453.4h.01M489.5 455.3h.01M509.4 449.1h.01M495.3 454.7h.01M490.9 453.3h.01M500.9 451.4h.01M493.0 454.4h.01M483.3 455.1h.01M503.6 455.3h.01M478.4 455.0h.01M508.5 448.3h.01M486.9 455.3h.01M488.1 451.8h.01M488.0 454.8h.01M496.5 454.1h.01M481.0 450.1h.01M500.5 452.1h.01M495.2 454.4h.01M506.8 454.9h.01M489.7 456.3h.01M499.0 457.0h.01M502.5 459.1h.01M513.2 451.6h.01M486.6 456.1h.01M487.8 454.2h.01M502.6 450.3h.01M477.4 453.9h.01M484.8 449.7h.01M499.5 454.3h.01M496.8 456.4h.01M493.6 459.8h.01M496.5 455.9h.01M488.1 455.6h.01M491.0 450.3h.01M495.9 450.3h.01M501.6 447.3h.01M478.3 459.6h.01M499.3 451.6h.01M477.6 453.7h.01M497.1 458.9h.01M489.6 459.2h.01M480.2 460.3h.01M499.6 450.4h.01M505.7 452.0h.01M487.4 453.2h.01M501.3 450.7h.01M488.0 453.7h.01M492.3 449.8h.01M506.9 457.2h.01M493.4 455.0h.01M492.1 450.5h.01M496.6 449.9h.01M481.1 453.5h.01M497.4 451.5h.01M501.6 454.5h.01M503.1 456.4h.01M490.1 456.2h.01M500.0 453.7h.01M490.0 455.7h.01M496.0 455.4h.01M493.1 451.9h.01M481.8 454.9h.01M509.5 451.9h.01M494.0 451.0h.01M497.1 453.3h.01M495.6 452.4h.01M484.9 452.1h.01M488.6 451.3h.01M485.2 455.6h.01M494.0 451.9h.01M493.3 456.9h.01M484.3 456.8h.01M477.4 460.6h.01M499.2 459.2h.01M509.4 451.7h.01M499.8 454.0h.01M478.0 458.6h.01M501.1 455.0h.01M496.0 449.6h.01M487.0 443.0h.01M495.8 450.9h.01M489.6 457.3h.01M492.9 444.9h.01M501.9 447.9h.01M483.3 451.8h.01M503.9 448.0h.01M497.1 454.8h.01M476.5 460.1h.01M488.7 459.2h.01M491.0 458.3h.01M510.7 444.4h.01M483.5 453.0h.01M502.8 457.2h.01M495.3 454.7h.01M500.2 449.6h.01M488.7 454.5h.01M505.1 449.6h.01M499.2 450.3h.01M484.1 455.1h.01M495.4 453.4h.01M487.2 452.7h.01M501.2 448.0h.01M488.1 450.7h.01M495.2 457.1h.01M490.5 451.8h.01M490.9 454.0h.01M489.4 451.1h.01M497.3 457.5h.01M495.5 451.1h.01M505.2 451.9h.01M497.4 452.4h.01M497.2 448.9h.01M493.6 452.9h.01M492.1 454.1h.01M517.3 447.1h.01M490.8 449.8h.01M494.5 451.6h.01M502.2 451.9h.01M492.9 453.7h.01M511.3 454.2h.01M497.8 456.1h.01M491.3 448.8h.01M482.2 456.6h.01M496.6 451.2h.01M486.1 457.0h.01M489.6 450.2h.01M500.2 452.9h.01M484.1 459.4h.01M488.8 452.4h.01M487.4 453.2h.01M506.6 450.6h.01M499.8 450.4h.01M504.6 455.7h.01M501.7 457.6h.01M495.1 447.1h.01M482.9 453.0h.01M500.8 452.8h.01M496.3 453.7h.01M491.0 453.5h.01M489.1 454.0h.01M500.4 457.4h.01M505.8 451.3h.01M489.9 452.6h.01M478.7 458.4h.01M501.6 453.5h.01M494.6 455.4h.01M502.6 456.1h.01M482.1 462.5h.01M488.8 458.3h.01M485.0 458.5h.01M516.9 453.3h.01M494.9 458.1h.01M493.4 453.9h.01M489.7 453.5h.01M494.9 451.1h.01M504.1 453.0h.01M483.3 452.6h.01M493.3 452.5h.01M506.2 448.5h.01M493.9 453.0h.01M492.8 455.4h.01M498.7 451.0h.01M489.6 455.2h.01M493.3 451.9h.01M480.4 456.3h.01M490.3 455.5h.01M488.5 453.9h.01M491.1 448.2h.01M494.4 454.2h.01" stroke="#7cc44e" stroke-width="0.6" stroke-linecap="round" opacity="0.55" fill="none"/>
<ellipse cx="487.2" cy="480.6" rx="10.5" ry="4" fill="#7cc44e" opacity="0.62" filter="url(#blurF2)" transform="rotate(-20 487.2 480.6)"/>
<path d="M486.5 481.3h.01M496.8 469.0h.01M477.7 481.3h.01M479.7 481.3h.01M475.4 483.5h.01M490.4 476.7h.01M493.8 481.7h.01M494.5 479.0h.01M470.4 486.2h.01M464.0 482.8h.01M488.9 468.6h.01M492.0 476.4h.01M494.6 483.5h.01M485.3 477.2h.01M490.7 474.1h.01M487.3 480.3h.01M494.2 471.0h.01M491.3 486.8h.01M488.3 488.0h.01M493.0 471.9h.01M492.3 480.2h.01M481.0 482.0h.01M473.8 492.5h.01M491.1 477.9h.01M496.4 483.4h.01M486.1 480.8h.01M492.2 478.1h.01M503.7 478.9h.01M488.5 478.5h.01M467.8 483.2h.01M505.6 473.7h.01M495.2 469.6h.01M477.7 487.8h.01M494.9 471.9h.01M472.5 481.5h.01M485.2 472.2h.01M500.0 471.4h.01M491.3 482.5h.01M486.5 480.9h.01M486.2 489.0h.01M496.7 476.4h.01M483.0 481.9h.01M467.4 485.6h.01M484.5 487.1h.01M489.7 475.6h.01M475.9 487.4h.01M491.6 482.3h.01M488.0 481.8h.01M490.3 487.1h.01M485.8 477.0h.01M495.9 480.6h.01M486.3 486.5h.01M491.2 476.1h.01M482.0 489.2h.01M493.7 473.4h.01M479.9 491.2h.01M511.9 476.3h.01M486.2 479.5h.01M496.5 483.5h.01M490.5 478.7h.01M473.2 480.3h.01M474.9 477.0h.01M490.4 477.7h.01M504.0 478.8h.01M490.2 487.8h.01M494.9 476.7h.01M486.9 477.9h.01M482.8 482.0h.01M483.4 480.4h.01M485.7 481.6h.01M498.5 475.7h.01M484.8 483.9h.01M487.8 475.8h.01M484.8 481.0h.01M482.0 485.9h.01M489.5 477.4h.01M497.7 478.3h.01M488.0 481.4h.01M495.7 480.4h.01M481.7 484.0h.01M486.0 479.8h.01M486.0 485.6h.01M491.4 489.6h.01M483.5 485.7h.01M496.5 475.7h.01M489.7 484.3h.01M503.0 474.4h.01M486.4 482.3h.01M493.1 476.9h.01M495.6 479.6h.01M486.6 476.9h.01M490.8 470.3h.01M476.6 477.1h.01M483.9 480.9h.01M483.4 479.2h.01M491.1 471.1h.01M474.7 486.5h.01M498.3 478.2h.01M474.6 477.6h.01M492.6 479.8h.01M486.2 475.4h.01M466.8 491.3h.01M503.8 478.1h.01M492.6 480.6h.01M485.3 480.2h.01M486.8 477.3h.01M488.8 474.8h.01M489.0 487.1h.01M499.1 472.8h.01M495.6 480.0h.01M496.2 479.1h.01M486.7 485.7h.01M495.0 472.8h.01M487.6 479.1h.01M478.6 484.1h.01M481.8 474.2h.01M504.1 474.8h.01M486.4 481.8h.01M478.4 480.4h.01M501.4 473.6h.01M473.2 487.1h.01M494.1 475.0h.01M483.8 487.2h.01M493.4 473.2h.01M483.0 480.5h.01M483.9 476.4h.01M484.2 477.3h.01M493.7 479.0h.01M482.7 481.0h.01M484.4 485.3h.01M492.3 481.3h.01M470.4 489.5h.01M485.8 479.3h.01M476.8 489.0h.01M500.5 475.8h.01M485.0 478.4h.01M494.5 478.2h.01M483.0 487.4h.01M492.1 479.9h.01M486.4 479.8h.01M479.7 481.1h.01M483.9 485.4h.01M481.0 488.9h.01M495.8 474.8h.01M478.4 476.7h.01M495.5 480.4h.01M501.6 476.5h.01M490.4 478.1h.01M477.6 486.7h.01M484.3 481.4h.01M481.4 484.7h.01M471.3 481.3h.01M497.3 479.3h.01M479.4 484.4h.01M491.8 483.1h.01M497.8 480.8h.01M485.0 489.3h.01M488.3 483.0h.01M494.3 484.0h.01M494.2 471.2h.01M475.0 484.5h.01M482.0 486.4h.01M501.9 480.6h.01M479.2 485.6h.01M496.2 480.2h.01M498.8 487.3h.01M494.8 479.5h.01M492.6 479.9h.01M484.0 481.7h.01M478.3 479.8h.01M486.8 477.1h.01M481.3 480.0h.01M474.1 474.3h.01M494.5 483.4h.01M488.1 477.3h.01M497.3 478.4h.01M475.5 484.5h.01M486.6 477.2h.01M489.9 473.6h.01M488.3 483.1h.01M472.0 488.5h.01M493.4 474.8h.01M477.2 483.4h.01M486.9 479.9h.01M483.0 477.4h.01M470.9 483.5h.01M496.1 480.4h.01M493.0 477.6h.01M481.4 480.5h.01M486.7 475.0h.01M490.7 481.0h.01M483.1 485.7h.01M490.2 470.3h.01M483.5 481.4h.01M468.3 489.9h.01M495.9 479.5h.01M487.8 486.2h.01M488.2 481.4h.01M492.7 483.2h.01M474.0 489.1h.01M491.9 484.6h.01M488.8 479.6h.01M481.5 482.8h.01M482.9 484.2h.01M486.5 477.7h.01M492.8 478.3h.01M485.6 486.7h.01M491.5 480.8h.01M482.6 487.4h.01M490.5 474.5h.01M486.4 486.0h.01M495.1 477.3h.01M489.2 480.6h.01M468.4 490.3h.01M498.6 474.2h.01M489.4 483.7h.01M490.7 483.6h.01M487.2 479.6h.01M481.3 482.4h.01M474.7 480.3h.01M486.8 477.0h.01M488.2 479.8h.01M486.6 483.0h.01M481.9 478.3h.01M484.6 480.7h.01M499.7 480.1h.01M473.5 478.3h.01M477.5 486.3h.01M472.7 489.4h.01M485.9 485.6h.01M487.9 476.6h.01M483.9 482.5h.01M496.5 476.1h.01M482.3 482.8h.01M481.2 484.8h.01M491.5 482.6h.01M481.3 487.3h.01M512.8 476.9h.01M487.7 479.9h.01M474.6 487.1h.01M505.1 476.2h.01M490.2 479.2h.01M480.4 492.6h.01M486.3 487.4h.01M487.3 480.2h.01M479.9 483.8h.01M488.3 478.7h.01M486.0 480.2h.01M478.8 480.8h.01M507.8 467.8h.01M491.2 473.5h.01M480.3 486.9h.01M475.8 487.8h.01M499.2 475.3h.01M495.0 481.9h.01M469.0 485.5h.01M484.7 485.2h.01M481.6 477.5h.01M475.8 485.0h.01M488.2 482.0h.01M478.3 485.8h.01M484.8 477.4h.01M479.1 492.3h.01M491.6 477.5h.01M491.0 476.3h.01M502.2 477.4h.01M467.4 486.2h.01M485.1 481.8h.01M478.3 487.8h.01M490.4 485.3h.01M490.8 485.2h.01M500.6 476.2h.01M490.8 483.1h.01M491.0 478.9h.01M508.6 477.7h.01M489.8 474.8h.01M477.7 483.3h.01M475.7 478.9h.01M493.3 481.2h.01M482.2 482.4h.01" stroke="#7cc44e" stroke-width="0.6" stroke-linecap="round" opacity="0.5" fill="none"/>
<ellipse cx="491.0" cy="467.0" rx="9" ry="8" fill="#8ed07a" opacity="0.2" filter="url(#blurF3)"/>
<path d="M499.9 473.3h.01M505.6 465.7h.01M488.0 472.8h.01M505.8 466.0h.01M488.3 465.4h.01M500.1 475.5h.01M483.1 474.6h.01M497.2 476.1h.01M487.2 466.7h.01M495.2 470.8h.01M483.2 472.4h.01M495.9 465.5h.01M494.4 475.1h.01M491.1 467.7h.01M482.8 466.7h.01M485.5 460.2h.01M498.7 470.4h.01M493.7 468.5h.01M502.0 455.2h.01M503.5 463.9h.01M483.8 461.6h.01M484.1 466.1h.01M497.2 461.4h.01M497.5 463.6h.01M491.0 477.0h.01M488.4 459.3h.01M491.6 469.9h.01M488.1 464.2h.01M496.0 460.6h.01M489.9 461.5h.01M496.0 464.1h.01M493.9 466.9h.01M490.4 461.1h.01M501.1 463.4h.01M490.0 458.2h.01M491.7 461.3h.01M482.5 474.1h.01M497.1 469.1h.01M492.6 471.1h.01M491.0 468.6h.01M483.2 464.4h.01M489.7 449.2h.01M481.4 461.1h.01M507.2 456.0h.01M476.0 471.9h.01M483.1 470.5h.01M490.6 478.6h.01M490.9 473.1h.01M489.6 467.4h.01M491.1 466.7h.01M502.4 478.1h.01M491.3 465.6h.01M492.5 474.1h.01M496.8 467.6h.01M478.4 483.3h.01M502.7 470.5h.01M493.7 476.5h.01M504.3 467.9h.01M493.5 465.8h.01M506.6 464.6h.01M487.7 474.5h.01M496.1 467.1h.01M497.9 469.3h.01M491.0 469.7h.01M495.7 468.7h.01M495.0 468.4h.01M495.4 460.7h.01M504.7 474.3h.01M493.7 471.4h.01M505.7 470.6h.01M481.0 470.0h.01M475.4 466.0h.01M502.7 459.7h.01M478.9 464.8h.01M494.3 480.7h.01M489.2 466.8h.01M481.6 481.9h.01M489.9 470.4h.01M499.4 466.3h.01M484.2 464.0h.01M490.6 473.2h.01M499.5 463.7h.01M488.4 457.6h.01M491.5 482.2h.01M494.8 465.1h.01M503.3 470.4h.01M500.4 478.4h.01M481.4 467.7h.01M489.4 475.8h.01M490.4 468.2h.01" stroke="#a0d8b0" stroke-width="0.6" stroke-linecap="round" opacity="0.4" fill="none"/>
</g>
<line x1="296.50" y1="370.60" x2="296.50" y2="427.70" stroke="#6a6a6a" stroke-width="0.9"/>
<line x1="267.00" y1="398.90" x2="335.30" y2="398.90" stroke="#6a6a6a" stroke-width="0.9"/>
<rect x="267.00" y="370.60" width="68.30" height="57.10" fill="none" stroke="#000" stroke-width="1.3"/>
<path d="M264.00 376.30H267.00M264.00 390.80H267.00M264.00 405.20H267.00M264.00 421.80H267.00M274.50 427.70v3M293.80 427.70v3M311.10 427.70v3M328.40 427.70v3" stroke="#000" stroke-width="1.0" fill="none"/>
<path d="M281.71 427.70v1.3M284.75 427.70v1.3M286.92 427.70v1.3M288.59 427.70v1.3M289.96 427.70v1.3M291.12 427.70v1.3M292.12 427.70v1.3M293.01 427.70v1.3M299.01 427.70v1.3M302.05 427.70v1.3M304.22 427.70v1.3M305.89 427.70v1.3M307.26 427.70v1.3M308.42 427.70v1.3M309.42 427.70v1.3M310.31 427.70v1.3M316.31 427.70v1.3M319.35 427.70v1.3M321.52 427.70v1.3M323.19 427.70v1.3M324.56 427.70v1.3M325.72 427.70v1.3M326.72 427.70v1.3M327.61 427.70v1.3M267.00 415.34h-1.3M267.00 412.78h-1.3M267.00 410.97h-1.3M267.00 409.56h-1.3M267.00 408.42h-1.3M267.00 407.45h-1.3M267.00 406.61h-1.3M267.00 405.86h-1.3M267.00 400.84h-1.3M267.00 398.28h-1.3M267.00 396.47h-1.3M267.00 395.06h-1.3M267.00 393.92h-1.3M267.00 392.95h-1.3M267.00 392.11h-1.3M267.00 391.36h-1.3M267.00 386.44h-1.3M267.00 383.88h-1.3M267.00 382.07h-1.3M267.00 380.66h-1.3M267.00 379.52h-1.3M267.00 378.55h-1.3M267.00 377.71h-1.3M267.00 376.96h-1.3" stroke="#000" stroke-width="0.45" fill="none"/>
<text transform="translate(261.40,377.90)" font-size="4.4" text-anchor="end" font-weight="bold" fill="#000">10<tspan font-size="3" dy="-1.5">5</tspan></text>
<text transform="translate(261.40,392.40)" font-size="4.4" text-anchor="end" font-weight="bold" fill="#000">10<tspan font-size="3" dy="-1.5">4</tspan></text>
<text transform="translate(261.40,406.80)" font-size="4.4" text-anchor="end" font-weight="bold" fill="#000">10<tspan font-size="3" dy="-1.5">3</tspan></text>
<text transform="translate(261.40,423.40)" font-size="4.4" text-anchor="end" font-weight="bold" fill="#000">0</text>
<text transform="translate(274.50,438.60)" font-size="4.6" text-anchor="middle" font-weight="bold" fill="#000">0</text>
<text transform="translate(293.80,438.60)" font-size="4.6" text-anchor="middle" font-weight="bold" fill="#000">10<tspan font-size="3" dy="-1.5">3</tspan></text>
<text transform="translate(311.10,438.60)" font-size="4.6" text-anchor="middle" font-weight="bold" fill="#000">10<tspan font-size="3" dy="-1.5">4</tspan></text>
<text transform="translate(328.40,438.60)" font-size="4.6" text-anchor="middle" font-weight="bold" fill="#000">10<tspan font-size="3" dy="-1.5">5</tspan></text>
<text transform="translate(297.50,398.10)" font-size="8.7" text-anchor="start" fill="#2a2a2a" stroke="#2a2a2a" stroke-width="0.24">24.90%</text>
<line x1="296.50" y1="447.00" x2="296.50" y2="504.40" stroke="#6a6a6a" stroke-width="0.9"/>
<line x1="267.00" y1="475.10" x2="335.30" y2="475.10" stroke="#6a6a6a" stroke-width="0.9"/>
<rect x="267.00" y="447.00" width="68.30" height="57.40" fill="none" stroke="#000" stroke-width="1.3"/>
<path d="M264.00 452.70H267.00M264.00 467.20H267.00M264.00 481.60H267.00M264.00 498.20H267.00M274.50 504.40v3M293.80 504.40v3M311.10 504.40v3M328.40 504.40v3" stroke="#000" stroke-width="1.0" fill="none"/>
<path d="M281.71 504.40v1.3M284.75 504.40v1.3M286.92 504.40v1.3M288.59 504.40v1.3M289.96 504.40v1.3M291.12 504.40v1.3M292.12 504.40v1.3M293.01 504.40v1.3M299.01 504.40v1.3M302.05 504.40v1.3M304.22 504.40v1.3M305.89 504.40v1.3M307.26 504.40v1.3M308.42 504.40v1.3M309.42 504.40v1.3M310.31 504.40v1.3M316.31 504.40v1.3M319.35 504.40v1.3M321.52 504.40v1.3M323.19 504.40v1.3M324.56 504.40v1.3M325.72 504.40v1.3M326.72 504.40v1.3M327.61 504.40v1.3M267.00 491.74h-1.3M267.00 489.18h-1.3M267.00 487.37h-1.3M267.00 485.96h-1.3M267.00 484.82h-1.3M267.00 483.85h-1.3M267.00 483.01h-1.3M267.00 482.26h-1.3M267.00 477.24h-1.3M267.00 474.68h-1.3M267.00 472.87h-1.3M267.00 471.46h-1.3M267.00 470.32h-1.3M267.00 469.35h-1.3M267.00 468.51h-1.3M267.00 467.76h-1.3M267.00 462.84h-1.3M267.00 460.28h-1.3M267.00 458.47h-1.3M267.00 457.06h-1.3M267.00 455.92h-1.3M267.00 454.95h-1.3M267.00 454.11h-1.3M267.00 453.36h-1.3" stroke="#000" stroke-width="0.45" fill="none"/>
<text transform="translate(261.40,454.30)" font-size="4.4" text-anchor="end" font-weight="bold" fill="#000">10<tspan font-size="3" dy="-1.5">5</tspan></text>
<text transform="translate(261.40,468.80)" font-size="4.4" text-anchor="end" font-weight="bold" fill="#000">10<tspan font-size="3" dy="-1.5">4</tspan></text>
<text transform="translate(261.40,483.20)" font-size="4.4" text-anchor="end" font-weight="bold" fill="#000">10<tspan font-size="3" dy="-1.5">3</tspan></text>
<text transform="translate(261.40,499.80)" font-size="4.4" text-anchor="end" font-weight="bold" fill="#000">0</text>
<text transform="translate(274.50,515.30)" font-size="4.6" text-anchor="middle" font-weight="bold" fill="#000">0</text>
<text transform="translate(293.80,515.30)" font-size="4.6" text-anchor="middle" font-weight="bold" fill="#000">10<tspan font-size="3" dy="-1.5">3</tspan></text>
<text transform="translate(311.10,515.30)" font-size="4.6" text-anchor="middle" font-weight="bold" fill="#000">10<tspan font-size="3" dy="-1.5">4</tspan></text>
<text transform="translate(328.40,515.30)" font-size="4.6" text-anchor="middle" font-weight="bold" fill="#000">10<tspan font-size="3" dy="-1.5">5</tspan></text>
<text transform="translate(298.00,474.30)" font-size="8.7" text-anchor="start" fill="#2a2a2a" stroke="#2a2a2a" stroke-width="0.24">9.25%</text>
<line x1="386.50" y1="370.60" x2="386.50" y2="427.70" stroke="#6a6a6a" stroke-width="0.9"/>
<line x1="356.60" y1="399.20" x2="424.90" y2="399.20" stroke="#6a6a6a" stroke-width="0.9"/>
<rect x="356.60" y="370.60" width="68.30" height="57.10" fill="none" stroke="#000" stroke-width="1.3"/>
<path d="M353.60 376.30H356.60M353.60 390.80H356.60M353.60 405.20H356.60M353.60 421.80H356.60M364.10 427.70v3M383.40 427.70v3M400.70 427.70v3M418.00 427.70v3" stroke="#000" stroke-width="1.0" fill="none"/>
<path d="M371.31 427.70v1.3M374.35 427.70v1.3M376.52 427.70v1.3M378.19 427.70v1.3M379.56 427.70v1.3M380.72 427.70v1.3M381.72 427.70v1.3M382.61 427.70v1.3M388.61 427.70v1.3M391.65 427.70v1.3M393.82 427.70v1.3M395.49 427.70v1.3M396.86 427.70v1.3M398.02 427.70v1.3M399.02 427.70v1.3M399.91 427.70v1.3M405.91 427.70v1.3M408.95 427.70v1.3M411.12 427.70v1.3M412.79 427.70v1.3M414.16 427.70v1.3M415.32 427.70v1.3M416.32 427.70v1.3M417.21 427.70v1.3M356.60 415.34h-1.3M356.60 412.78h-1.3M356.60 410.97h-1.3M356.60 409.56h-1.3M356.60 408.42h-1.3M356.60 407.45h-1.3M356.60 406.61h-1.3M356.60 405.86h-1.3M356.60 400.84h-1.3M356.60 398.28h-1.3M356.60 396.47h-1.3M356.60 395.06h-1.3M356.60 393.92h-1.3M356.60 392.95h-1.3M356.60 392.11h-1.3M356.60 391.36h-1.3M356.60 386.44h-1.3M356.60 383.88h-1.3M356.60 382.07h-1.3M356.60 380.66h-1.3M356.60 379.52h-1.3M356.60 378.55h-1.3M356.60 377.71h-1.3M356.60 376.96h-1.3" stroke="#000" stroke-width="0.45" fill="none"/>
<text transform="translate(351.00,377.90)" font-size="4.4" text-anchor="end" font-weight="bold" fill="#000">10<tspan font-size="3" dy="-1.5">5</tspan></text>
<text transform="translate(351.00,392.40)" font-size="4.4" text-anchor="end" font-weight="bold" fill="#000">10<tspan font-size="3" dy="-1.5">4</tspan></text>
<text transform="translate(351.00,406.80)" font-size="4.4" text-anchor="end" font-weight="bold" fill="#000">10<tspan font-size="3" dy="-1.5">3</tspan></text>
<text transform="translate(351.00,423.40)" font-size="4.4" text-anchor="end" font-weight="bold" fill="#000">0</text>
<text transform="translate(364.10,438.60)" font-size="4.6" text-anchor="middle" font-weight="bold" fill="#000">0</text>
<text transform="translate(383.40,438.60)" font-size="4.6" text-anchor="middle" font-weight="bold" fill="#000">10<tspan font-size="3" dy="-1.5">3</tspan></text>
<text transform="translate(400.70,438.60)" font-size="4.6" text-anchor="middle" font-weight="bold" fill="#000">10<tspan font-size="3" dy="-1.5">4</tspan></text>
<text transform="translate(418.00,438.60)" font-size="4.6" text-anchor="middle" font-weight="bold" fill="#000">10<tspan font-size="3" dy="-1.5">5</tspan></text>
<text transform="translate(388.00,398.40)" font-size="8.7" text-anchor="start" fill="#2a2a2a" stroke="#2a2a2a" stroke-width="0.24">38.94%</text>
<line x1="386.50" y1="447.00" x2="386.50" y2="504.40" stroke="#6a6a6a" stroke-width="0.9"/>
<line x1="356.60" y1="475.10" x2="424.90" y2="475.10" stroke="#6a6a6a" stroke-width="0.9"/>
<rect x="356.60" y="447.00" width="68.30" height="57.40" fill="none" stroke="#000" stroke-width="1.3"/>
<path d="M353.60 452.70H356.60M353.60 467.20H356.60M353.60 481.60H356.60M353.60 498.20H356.60M364.10 504.40v3M383.40 504.40v3M400.70 504.40v3M418.00 504.40v3" stroke="#000" stroke-width="1.0" fill="none"/>
<path d="M371.31 504.40v1.3M374.35 504.40v1.3M376.52 504.40v1.3M378.19 504.40v1.3M379.56 504.40v1.3M380.72 504.40v1.3M381.72 504.40v1.3M382.61 504.40v1.3M388.61 504.40v1.3M391.65 504.40v1.3M393.82 504.40v1.3M395.49 504.40v1.3M396.86 504.40v1.3M398.02 504.40v1.3M399.02 504.40v1.3M399.91 504.40v1.3M405.91 504.40v1.3M408.95 504.40v1.3M411.12 504.40v1.3M412.79 504.40v1.3M414.16 504.40v1.3M415.32 504.40v1.3M416.32 504.40v1.3M417.21 504.40v1.3M356.60 491.74h-1.3M356.60 489.18h-1.3M356.60 487.37h-1.3M356.60 485.96h-1.3M356.60 484.82h-1.3M356.60 483.85h-1.3M356.60 483.01h-1.3M356.60 482.26h-1.3M356.60 477.24h-1.3M356.60 474.68h-1.3M356.60 472.87h-1.3M356.60 471.46h-1.3M356.60 470.32h-1.3M356.60 469.35h-1.3M356.60 468.51h-1.3M356.60 467.76h-1.3M356.60 462.84h-1.3M356.60 460.28h-1.3M356.60 458.47h-1.3M356.60 457.06h-1.3M356.60 455.92h-1.3M356.60 454.95h-1.3M356.60 454.11h-1.3M356.60 453.36h-1.3" stroke="#000" stroke-width="0.45" fill="none"/>
<text transform="translate(351.00,454.30)" font-size="4.4" text-anchor="end" font-weight="bold" fill="#000">10<tspan font-size="3" dy="-1.5">5</tspan></text>
<text transform="translate(351.00,468.80)" font-size="4.4" text-anchor="end" font-weight="bold" fill="#000">10<tspan font-size="3" dy="-1.5">4</tspan></text>
<text transform="translate(351.00,483.20)" font-size="4.4" text-anchor="end" font-weight="bold" fill="#000">10<tspan font-size="3" dy="-1.5">3</tspan></text>
<text transform="translate(351.00,499.80)" font-size="4.4" text-anchor="end" font-weight="bold" fill="#000">0</text>
<text transform="translate(364.10,515.30)" font-size="4.6" text-anchor="middle" font-weight="bold" fill="#000">0</text>
<text transform="translate(383.40,515.30)" font-size="4.6" text-anchor="middle" font-weight="bold" fill="#000">10<tspan font-size="3" dy="-1.5">3</tspan></text>
<text transform="translate(400.70,515.30)" font-size="4.6" text-anchor="middle" font-weight="bold" fill="#000">10<tspan font-size="3" dy="-1.5">4</tspan></text>
<text transform="translate(418.00,515.30)" font-size="4.6" text-anchor="middle" font-weight="bold" fill="#000">10<tspan font-size="3" dy="-1.5">5</tspan></text>
<text transform="translate(388.00,474.30)" font-size="8.7" text-anchor="start" fill="#2a2a2a" stroke="#2a2a2a" stroke-width="0.24">45.36%</text>
<line x1="475.30" y1="370.60" x2="475.30" y2="427.70" stroke="#6a6a6a" stroke-width="0.9"/>
<line x1="444.60" y1="399.20" x2="512.90" y2="399.20" stroke="#6a6a6a" stroke-width="0.9"/>
<rect x="444.60" y="370.60" width="68.30" height="57.10" fill="none" stroke="#000" stroke-width="1.3"/>
<path d="M441.60 376.30H444.60M441.60 390.80H444.60M441.60 405.20H444.60M441.60 421.80H444.60M452.10 427.70v3M471.40 427.70v3M488.70 427.70v3M506.00 427.70v3" stroke="#000" stroke-width="1.0" fill="none"/>
<path d="M459.31 427.70v1.3M462.35 427.70v1.3M464.52 427.70v1.3M466.19 427.70v1.3M467.56 427.70v1.3M468.72 427.70v1.3M469.72 427.70v1.3M470.61 427.70v1.3M476.61 427.70v1.3M479.65 427.70v1.3M481.82 427.70v1.3M483.49 427.70v1.3M484.86 427.70v1.3M486.02 427.70v1.3M487.02 427.70v1.3M487.91 427.70v1.3M493.91 427.70v1.3M496.95 427.70v1.3M499.12 427.70v1.3M500.79 427.70v1.3M502.16 427.70v1.3M503.32 427.70v1.3M504.32 427.70v1.3M505.21 427.70v1.3M444.60 415.34h-1.3M444.60 412.78h-1.3M444.60 410.97h-1.3M444.60 409.56h-1.3M444.60 408.42h-1.3M444.60 407.45h-1.3M444.60 406.61h-1.3M444.60 405.86h-1.3M444.60 400.84h-1.3M444.60 398.28h-1.3M444.60 396.47h-1.3M444.60 395.06h-1.3M444.60 393.92h-1.3M444.60 392.95h-1.3M444.60 392.11h-1.3M444.60 391.36h-1.3M444.60 386.44h-1.3M444.60 383.88h-1.3M444.60 382.07h-1.3M444.60 380.66h-1.3M444.60 379.52h-1.3M444.60 378.55h-1.3M444.60 377.71h-1.3M444.60 376.96h-1.3" stroke="#000" stroke-width="0.45" fill="none"/>
<text transform="translate(439.00,377.90)" font-size="4.4" text-anchor="end" font-weight="bold" fill="#000">10<tspan font-size="3" dy="-1.5">5</tspan></text>
<text transform="translate(439.00,392.40)" font-size="4.4" text-anchor="end" font-weight="bold" fill="#000">10<tspan font-size="3" dy="-1.5">4</tspan></text>
<text transform="translate(439.00,406.80)" font-size="4.4" text-anchor="end" font-weight="bold" fill="#000">10<tspan font-size="3" dy="-1.5">3</tspan></text>
<text transform="translate(439.00,423.40)" font-size="4.4" text-anchor="end" font-weight="bold" fill="#000">0</text>
<text transform="translate(452.10,438.60)" font-size="4.6" text-anchor="middle" font-weight="bold" fill="#000">0</text>
<text transform="translate(471.40,438.60)" font-size="4.6" text-anchor="middle" font-weight="bold" fill="#000">10<tspan font-size="3" dy="-1.5">3</tspan></text>
<text transform="translate(488.70,438.60)" font-size="4.6" text-anchor="middle" font-weight="bold" fill="#000">10<tspan font-size="3" dy="-1.5">4</tspan></text>
<text transform="translate(506.00,438.60)" font-size="4.6" text-anchor="middle" font-weight="bold" fill="#000">10<tspan font-size="3" dy="-1.5">5</tspan></text>
<text transform="translate(476.30,398.40)" font-size="8.7" text-anchor="start" fill="#2a2a2a" stroke="#2a2a2a" stroke-width="0.24">88.69%</text>
<line x1="475.30" y1="447.00" x2="475.30" y2="504.40" stroke="#6a6a6a" stroke-width="0.9"/>
<line x1="444.60" y1="475.10" x2="512.90" y2="475.10" stroke="#6a6a6a" stroke-width="0.9"/>
<rect x="444.60" y="447.00" width="68.30" height="57.40" fill="none" stroke="#000" stroke-width="1.3"/>
<path d="M441.60 452.70H444.60M441.60 467.20H444.60M441.60 481.60H444.60M441.60 498.20H444.60M452.10 504.40v3M471.40 504.40v3M488.70 504.40v3M506.00 504.40v3" stroke="#000" stroke-width="1.0" fill="none"/>
<path d="M459.31 504.40v1.3M462.35 504.40v1.3M464.52 504.40v1.3M466.19 504.40v1.3M467.56 504.40v1.3M468.72 504.40v1.3M469.72 504.40v1.3M470.61 504.40v1.3M476.61 504.40v1.3M479.65 504.40v1.3M481.82 504.40v1.3M483.49 504.40v1.3M484.86 504.40v1.3M486.02 504.40v1.3M487.02 504.40v1.3M487.91 504.40v1.3M493.91 504.40v1.3M496.95 504.40v1.3M499.12 504.40v1.3M500.79 504.40v1.3M502.16 504.40v1.3M503.32 504.40v1.3M504.32 504.40v1.3M505.21 504.40v1.3M444.60 491.74h-1.3M444.60 489.18h-1.3M444.60 487.37h-1.3M444.60 485.96h-1.3M444.60 484.82h-1.3M444.60 483.85h-1.3M444.60 483.01h-1.3M444.60 482.26h-1.3M444.60 477.24h-1.3M444.60 474.68h-1.3M444.60 472.87h-1.3M444.60 471.46h-1.3M444.60 470.32h-1.3M444.60 469.35h-1.3M444.60 468.51h-1.3M444.60 467.76h-1.3M444.60 462.84h-1.3M444.60 460.28h-1.3M444.60 458.47h-1.3M444.60 457.06h-1.3M444.60 455.92h-1.3M444.60 454.95h-1.3M444.60 454.11h-1.3M444.60 453.36h-1.3" stroke="#000" stroke-width="0.45" fill="none"/>
<text transform="translate(439.00,454.30)" font-size="4.4" text-anchor="end" font-weight="bold" fill="#000">10<tspan font-size="3" dy="-1.5">5</tspan></text>
<text transform="translate(439.00,468.80)" font-size="4.4" text-anchor="end" font-weight="bold" fill="#000">10<tspan font-size="3" dy="-1.5">4</tspan></text>
<text transform="translate(439.00,483.20)" font-size="4.4" text-anchor="end" font-weight="bold" fill="#000">10<tspan font-size="3" dy="-1.5">3</tspan></text>
<text transform="translate(439.00,499.80)" font-size="4.4" text-anchor="end" font-weight="bold" fill="#000">0</text>
<text transform="translate(452.10,515.30)" font-size="4.6" text-anchor="middle" font-weight="bold" fill="#000">0</text>
<text transform="translate(471.40,515.30)" font-size="4.6" text-anchor="middle" font-weight="bold" fill="#000">10<tspan font-size="3" dy="-1.5">3</tspan></text>
<text transform="translate(488.70,515.30)" font-size="4.6" text-anchor="middle" font-weight="bold" fill="#000">10<tspan font-size="3" dy="-1.5">4</tspan></text>
<text transform="translate(506.00,515.30)" font-size="4.6" text-anchor="middle" font-weight="bold" fill="#000">10<tspan font-size="3" dy="-1.5">5</tspan></text>
<text transform="translate(476.30,474.30)" font-size="8.7" text-anchor="start" fill="#2a2a2a" stroke="#2a2a2a" stroke-width="0.24">63.39%</text>
<text transform="translate(249.50,424.60) rotate(-90)" font-size="9.1" text-anchor="start" fill="#222" stroke="#222" stroke-width="0.24">M/E p53WT</text>
<text transform="translate(249.50,502.00) rotate(-90)" font-size="9.35" text-anchor="start" fill="#222" stroke="#222" stroke-width="0.24">M/A9 p53WT</text>
<text transform="translate(235.60,503.80) rotate(-90) scale(0.88,1)" font-size="9.3" text-anchor="start" fill="#222" stroke="#222" stroke-width="0.24">PI</text>
<line x1="233.30" y1="495.50" x2="233.30" y2="420.00" stroke="#111" stroke-width="1.1"/>
<path d="M233.3 413L229.6 421.8L233.3 420.2L237 421.8Z" fill="#111"/>
<text transform="translate(267.40,528.00) scale(0.9,1)" font-size="9.6" text-anchor="start" fill="#222" stroke="#222" stroke-width="0.25">AnnexinV</text>
<line x1="306.30" y1="524.90" x2="390.00" y2="524.90" stroke="#111" stroke-width="1.2"/>
<path d="M396.3 524.9L387.3 520.9L389 524.9L387.3 528.9Z" fill="#111"/>
</g>
<g id="panelE">
<text transform="translate(7.40,556.00)" font-size="12.6" text-anchor="start" font-weight="bold" fill="#000">E</text>
<text transform="translate(25.80,556.30)" font-size="9.3" text-anchor="start" fill="#111" stroke="#111" stroke-width="0.24">M/E p53WT</text>
<text transform="translate(149.80,556.30)" font-size="9.3" text-anchor="start" fill="#111" stroke="#111" stroke-width="0.24">M/A9 p53WT</text>
<text transform="translate(59.30,570.00)" font-size="9.7" text-anchor="start" fill="#111" stroke="#111" stroke-width="0.24">CX-5461 (100nM)</text>
<text transform="translate(183.30,570.00)" font-size="9.7" text-anchor="start" fill="#111" stroke="#111" stroke-width="0.24">CX-5461 (100nM)</text>
<line x1="49.30" y1="573.00" x2="146.60" y2="573.00" stroke="#111" stroke-width="1.3"/>
<line x1="173.00" y1="573.00" x2="271.20" y2="573.00" stroke="#111" stroke-width="1.3"/>
<text transform="translate(34.30,596.60) rotate(-58)" font-size="7.8" text-anchor="start" fill="#111" stroke="#111" stroke-width="0.24">vehicle</text>
<text transform="translate(46.49,596.60) rotate(-58)" font-size="7.8" text-anchor="start" fill="#111" stroke="#111" stroke-width="0.24">10'</text>
<text transform="translate(58.68,596.60) rotate(-58)" font-size="7.8" text-anchor="start" fill="#111" stroke="#111" stroke-width="0.24">30'</text>
<text transform="translate(70.87,596.60) rotate(-58)" font-size="7.8" text-anchor="start" fill="#111" stroke="#111" stroke-width="0.24">60'</text>
<text transform="translate(83.06,596.60) rotate(-58)" font-size="7.8" text-anchor="start" fill="#111" stroke="#111" stroke-width="0.24">120'</text>
<text transform="translate(95.25,596.60) rotate(-58)" font-size="7.8" text-anchor="start" fill="#111" stroke="#111" stroke-width="0.24">180'</text>
<text transform="translate(107.44,596.60) rotate(-58)" font-size="7.8" text-anchor="start" fill="#111" stroke="#111" stroke-width="0.24">240'</text>
<text transform="translate(119.63,596.60) rotate(-58)" font-size="7.8" text-anchor="start" fill="#111" stroke="#111" stroke-width="0.24">300'</text>
<text transform="translate(131.82,596.60) rotate(-58)" font-size="7.8" text-anchor="start" fill="#111" stroke="#111" stroke-width="0.24">360'</text>
<text transform="translate(144.01,596.60) rotate(-58)" font-size="7.8" text-anchor="start" fill="#111" stroke="#111" stroke-width="0.24">24 hr</text>
<text transform="translate(159.35,596.60) rotate(-58)" font-size="7.8" text-anchor="start" fill="#111" stroke="#111" stroke-width="0.24">vehicle</text>
<text transform="translate(171.45,596.60) rotate(-58)" font-size="7.8" text-anchor="start" fill="#111" stroke="#111" stroke-width="0.24">10'</text>
<text transform="translate(183.55,596.60) rotate(-58)" font-size="7.8" text-anchor="start" fill="#111" stroke="#111" stroke-width="0.24">30'</text>
<text transform="translate(195.65,596.60) rotate(-58)" font-size="7.8" text-anchor="start" fill="#111" stroke="#111" stroke-width="0.24">60'</text>
<text transform="translate(207.75,596.60) rotate(-58)" font-size="7.8" text-anchor="start" fill="#111" stroke="#111" stroke-width="0.24">120'</text>
<text transform="translate(219.85,596.60) rotate(-58)" font-size="7.8" text-anchor="start" fill="#111" stroke="#111" stroke-width="0.24">180'</text>
<text transform="translate(231.95,596.60) rotate(-58)" font-size="7.8" text-anchor="start" fill="#111" stroke="#111" stroke-width="0.24">240'</text>
<text transform="translate(244.05,596.60) rotate(-58)" font-size="7.8" text-anchor="start" fill="#111" stroke="#111" stroke-width="0.24">300'</text>
<text transform="translate(256.15,596.60) rotate(-58)" font-size="7.8" text-anchor="start" fill="#111" stroke="#111" stroke-width="0.24">360'</text>
<text transform="translate(268.25,596.60) rotate(-58)" font-size="7.8" text-anchor="start" fill="#111" stroke="#111" stroke-width="0.24">24 hr</text>
<rect x="25.30" y="599.60" width="121.90" height="15.70" fill="#c2c2c2" stroke="none" stroke-width="1"/>
<g clip-path="url(#cs1)"><g filter="url(#blurE)">
<rect x="25.90" y="600.10" width="10.99" height="2.2" fill="#666" opacity="0.19"/>
<rect x="25.90" y="603.60" width="10.99" height="2.0" fill="#666" opacity="0.11"/>
<rect x="25.90" y="611.10" width="10.99" height="3.5" fill="#777" opacity="0.10"/>
<rect x="26.20" y="607.92" width="10.40" height="1.95" rx="0.98" fill="#111" opacity="0.12"/>
<rect x="38.09" y="600.10" width="10.99" height="2.2" fill="#666" opacity="0.19"/>
<rect x="38.09" y="603.60" width="10.99" height="2.0" fill="#666" opacity="0.11"/>
<rect x="38.09" y="611.10" width="10.99" height="3.5" fill="#777" opacity="0.10"/>
<rect x="36.99" y="599.6" width="1" height="15.7" fill="#fff" opacity="0.25"/>
<rect x="38.39" y="607.92" width="10.40" height="1.95" rx="0.98" fill="#111" opacity="0.12"/>
<rect x="50.28" y="600.10" width="10.99" height="2.2" fill="#666" opacity="0.19"/>
<rect x="50.28" y="603.60" width="10.99" height="2.0" fill="#666" opacity="0.11"/>
<rect x="50.28" y="611.10" width="10.99" height="3.5" fill="#777" opacity="0.10"/>
<rect x="49.18" y="599.6" width="1" height="15.7" fill="#fff" opacity="0.25"/>
<rect x="50.58" y="607.88" width="10.40" height="2.05" rx="1.02" fill="#111" opacity="0.18"/>
<rect x="62.47" y="600.10" width="10.99" height="2.2" fill="#666" opacity="0.20"/>
<rect x="62.47" y="603.60" width="10.99" height="2.0" fill="#666" opacity="0.13"/>
<rect x="62.47" y="611.10" width="10.99" height="3.5" fill="#777" opacity="0.10"/>
<rect x="61.37" y="599.6" width="1" height="15.7" fill="#fff" opacity="0.25"/>
<rect x="62.77" y="607.62" width="10.40" height="2.56" rx="1.28" fill="#111" opacity="0.50"/>
<rect x="74.66" y="600.10" width="10.99" height="2.2" fill="#666" opacity="0.22"/>
<rect x="74.66" y="603.60" width="10.99" height="2.0" fill="#666" opacity="0.15"/>
<rect x="74.66" y="611.10" width="10.99" height="3.5" fill="#777" opacity="0.10"/>
<rect x="73.56" y="599.6" width="1" height="15.7" fill="#fff" opacity="0.25"/>
<rect x="74.95" y="607.42" width="10.40" height="2.96" rx="1.48" fill="#111" opacity="0.75"/>
<rect x="86.85" y="600.10" width="10.99" height="2.2" fill="#666" opacity="0.21"/>
<rect x="86.85" y="603.60" width="10.99" height="2.0" fill="#666" opacity="0.14"/>
<rect x="86.85" y="611.10" width="10.99" height="3.5" fill="#777" opacity="0.10"/>
<rect x="85.75" y="599.6" width="1" height="15.7" fill="#fff" opacity="0.25"/>
<rect x="87.14" y="607.46" width="10.40" height="2.88" rx="1.44" fill="#111" opacity="0.70"/>
<rect x="99.04" y="600.10" width="10.99" height="2.2" fill="#666" opacity="0.22"/>
<rect x="99.04" y="603.60" width="10.99" height="2.0" fill="#666" opacity="0.15"/>
<rect x="99.04" y="611.10" width="10.99" height="3.5" fill="#777" opacity="0.10"/>
<rect x="97.94" y="599.6" width="1" height="15.7" fill="#fff" opacity="0.25"/>
<rect x="99.34" y="607.38" width="10.40" height="3.04" rx="1.52" fill="#111" opacity="0.80"/>
<rect x="111.23" y="600.10" width="10.99" height="2.2" fill="#666" opacity="0.21"/>
<rect x="111.23" y="603.60" width="10.99" height="2.0" fill="#666" opacity="0.14"/>
<rect x="111.23" y="611.10" width="10.99" height="3.5" fill="#777" opacity="0.10"/>
<rect x="110.13" y="599.6" width="1" height="15.7" fill="#fff" opacity="0.25"/>
<rect x="111.53" y="607.46" width="10.40" height="2.88" rx="1.44" fill="#111" opacity="0.70"/>
<rect x="123.42" y="600.10" width="10.99" height="2.2" fill="#666" opacity="0.22"/>
<rect x="123.42" y="603.60" width="10.99" height="2.0" fill="#666" opacity="0.15"/>
<rect x="123.42" y="611.10" width="10.99" height="3.5" fill="#777" opacity="0.10"/>
<rect x="122.32" y="599.6" width="1" height="15.7" fill="#fff" opacity="0.25"/>
<rect x="123.72" y="607.42" width="10.40" height="2.96" rx="1.48" fill="#111" opacity="0.75"/>
<rect x="135.61" y="600.10" width="10.99" height="2.2" fill="#666" opacity="0.20"/>
<rect x="135.61" y="603.60" width="10.99" height="2.0" fill="#666" opacity="0.12"/>
<rect x="135.61" y="611.10" width="10.99" height="3.5" fill="#777" opacity="0.10"/>
<rect x="134.51" y="599.6" width="1" height="15.7" fill="#fff" opacity="0.25"/>
<rect x="135.91" y="607.70" width="10.40" height="2.40" rx="1.20" fill="#111" opacity="0.40"/>
</g></g>
<rect x="25.30" y="618.40" width="121.90" height="15.70" fill="#c4c4c4" stroke="none" stroke-width="1"/>
<g clip-path="url(#cs2)"><g filter="url(#blurE)">
<rect x="25.90" y="619.40" width="10.99" height="5.5" fill="#555" opacity="0.10"/>
<rect x="25.90" y="630.40" width="10.99" height="3.0" fill="#666" opacity="0.07"/>
<rect x="25.80" y="625.90" width="11.20" height="3.00" rx="1.50" fill="#000" opacity="0.10"/>
<rect x="38.09" y="619.40" width="10.99" height="5.5" fill="#555" opacity="0.11"/>
<rect x="38.09" y="630.40" width="10.99" height="3.0" fill="#666" opacity="0.07"/>
<rect x="36.99" y="618.4" width="1" height="15.7" fill="#fff" opacity="0.2"/>
<rect x="37.99" y="625.88" width="11.20" height="3.05" rx="1.53" fill="#000" opacity="0.12"/>
<rect x="50.28" y="619.40" width="10.99" height="5.5" fill="#555" opacity="0.19"/>
<rect x="50.28" y="630.40" width="10.99" height="3.0" fill="#666" opacity="0.10"/>
<rect x="49.18" y="618.4" width="1" height="15.7" fill="#fff" opacity="0.2"/>
<rect x="50.18" y="625.40" width="11.20" height="4.00" rx="2.00" fill="#000" opacity="0.50"/>
<rect x="62.47" y="619.40" width="10.99" height="5.5" fill="#555" opacity="0.27"/>
<rect x="62.47" y="630.40" width="10.99" height="3.0" fill="#666" opacity="0.13"/>
<rect x="61.37" y="618.4" width="1" height="15.7" fill="#fff" opacity="0.2"/>
<rect x="62.37" y="624.96" width="11.20" height="4.88" rx="2.20" fill="#000" opacity="0.85"/>
<rect x="74.66" y="619.40" width="10.99" height="5.5" fill="#555" opacity="0.30"/>
<rect x="74.66" y="630.40" width="10.99" height="3.0" fill="#666" opacity="0.14"/>
<rect x="73.56" y="618.4" width="1" height="15.7" fill="#fff" opacity="0.2"/>
<rect x="74.56" y="624.77" width="11.20" height="5.25" rx="2.20" fill="#000" opacity="1.00"/>
<rect x="86.85" y="619.40" width="10.99" height="5.5" fill="#555" opacity="0.30"/>
<rect x="86.85" y="630.40" width="10.99" height="3.0" fill="#666" opacity="0.14"/>
<rect x="85.75" y="618.4" width="1" height="15.7" fill="#fff" opacity="0.2"/>
<rect x="86.75" y="624.77" width="11.20" height="5.25" rx="2.20" fill="#000" opacity="1.00"/>
<rect x="99.04" y="619.40" width="10.99" height="5.5" fill="#555" opacity="0.30"/>
<rect x="99.04" y="630.40" width="10.99" height="3.0" fill="#666" opacity="0.14"/>
<rect x="97.94" y="618.4" width="1" height="15.7" fill="#fff" opacity="0.2"/>
<rect x="98.94" y="624.77" width="11.20" height="5.25" rx="2.20" fill="#000" opacity="1.00"/>
<rect x="111.23" y="619.40" width="10.99" height="5.5" fill="#555" opacity="0.30"/>
<rect x="111.23" y="630.40" width="10.99" height="3.0" fill="#666" opacity="0.14"/>
<rect x="110.13" y="618.4" width="1" height="15.7" fill="#fff" opacity="0.2"/>
<rect x="111.13" y="624.77" width="11.20" height="5.25" rx="2.20" fill="#000" opacity="1.00"/>
<rect x="123.42" y="619.40" width="10.99" height="5.5" fill="#555" opacity="0.30"/>
<rect x="123.42" y="630.40" width="10.99" height="3.0" fill="#666" opacity="0.14"/>
<rect x="122.32" y="618.4" width="1" height="15.7" fill="#fff" opacity="0.2"/>
<rect x="123.32" y="624.77" width="11.20" height="5.25" rx="2.20" fill="#000" opacity="1.00"/>
<rect x="135.61" y="619.40" width="10.99" height="5.5" fill="#555" opacity="0.26"/>
<rect x="135.61" y="630.40" width="10.99" height="3.0" fill="#666" opacity="0.12"/>
<rect x="134.51" y="618.4" width="1" height="15.7" fill="#fff" opacity="0.2"/>
<rect x="135.51" y="625.02" width="11.20" height="4.75" rx="2.20" fill="#000" opacity="0.80"/>
</g></g>
<rect x="25.30" y="637.30" width="121.90" height="15.70" fill="#c6c6c6" stroke="none" stroke-width="1"/>
<g clip-path="url(#cs3)"><g filter="url(#blurE)">
<rect x="25.90" y="638.80" width="10.99" height="4" fill="#666" opacity="0.11"/>
<rect x="26.00" y="644.14" width="10.80" height="4.32" rx="2.16" fill="#151515" opacity="0.50"/>
<rect x="38.09" y="638.80" width="10.99" height="4" fill="#666" opacity="0.13"/>
<rect x="36.99" y="637.3" width="1" height="15.7" fill="#fff" opacity="0.12"/>
<rect x="38.19" y="643.94" width="10.80" height="4.73" rx="2.20" fill="#151515" opacity="0.65"/>
<rect x="50.28" y="638.80" width="10.99" height="4" fill="#666" opacity="0.14"/>
<rect x="49.18" y="637.3" width="1" height="15.7" fill="#fff" opacity="0.12"/>
<rect x="50.38" y="643.76" width="10.80" height="5.08" rx="2.20" fill="#151515" opacity="0.78"/>
<rect x="62.47" y="638.80" width="10.99" height="4" fill="#666" opacity="0.13"/>
<rect x="61.37" y="637.3" width="1" height="15.7" fill="#fff" opacity="0.12"/>
<rect x="62.57" y="643.87" width="10.80" height="4.86" rx="2.20" fill="#151515" opacity="0.70"/>
<rect x="74.66" y="638.80" width="10.99" height="4" fill="#666" opacity="0.16"/>
<rect x="73.56" y="637.3" width="1" height="15.7" fill="#fff" opacity="0.12"/>
<rect x="74.75" y="643.63" width="10.80" height="5.35" rx="2.20" fill="#151515" opacity="0.88"/>
<rect x="86.85" y="638.80" width="10.99" height="4" fill="#666" opacity="0.14"/>
<rect x="85.75" y="637.3" width="1" height="15.7" fill="#fff" opacity="0.12"/>
<rect x="86.94" y="643.76" width="10.80" height="5.08" rx="2.20" fill="#151515" opacity="0.78"/>
<rect x="99.04" y="638.80" width="10.99" height="4" fill="#666" opacity="0.16"/>
<rect x="97.94" y="637.3" width="1" height="15.7" fill="#fff" opacity="0.12"/>
<rect x="99.14" y="643.60" width="10.80" height="5.40" rx="2.20" fill="#151515" opacity="0.90"/>
<rect x="111.23" y="638.80" width="10.99" height="4" fill="#666" opacity="0.16"/>
<rect x="110.13" y="637.3" width="1" height="15.7" fill="#fff" opacity="0.12"/>
<rect x="111.33" y="643.60" width="10.80" height="5.40" rx="2.20" fill="#151515" opacity="0.90"/>
<rect x="123.42" y="638.80" width="10.99" height="4" fill="#666" opacity="0.16"/>
<rect x="122.32" y="637.3" width="1" height="15.7" fill="#fff" opacity="0.12"/>
<rect x="123.52" y="643.63" width="10.80" height="5.35" rx="2.20" fill="#151515" opacity="0.88"/>
<rect x="135.61" y="638.80" width="10.99" height="4" fill="#666" opacity="0.16"/>
<rect x="134.51" y="637.3" width="1" height="15.7" fill="#fff" opacity="0.12"/>
<rect x="135.71" y="643.57" width="10.80" height="5.45" rx="2.20" fill="#151515" opacity="0.92"/>
</g></g>
<rect x="25.30" y="656.10" width="121.90" height="15.70" fill="#cfcfcf" stroke="none" stroke-width="1"/>
<g clip-path="url(#cs4)"><g filter="url(#blurE)">
<rect x="25.70" y="660.47" width="11.40" height="3.26" rx="1.63" fill="#000" opacity="1.00"/>
<rect x="37.89" y="660.47" width="11.40" height="3.26" rx="1.63" fill="#000" opacity="1.00"/>
<rect x="50.08" y="660.47" width="11.40" height="3.26" rx="1.63" fill="#000" opacity="1.00"/>
<rect x="62.27" y="660.47" width="11.40" height="3.26" rx="1.63" fill="#000" opacity="1.00"/>
<rect x="74.45" y="660.47" width="11.40" height="3.26" rx="1.63" fill="#000" opacity="1.00"/>
<rect x="86.64" y="660.51" width="11.40" height="3.18" rx="1.59" fill="#000" opacity="0.95"/>
<rect x="98.84" y="660.51" width="11.40" height="3.18" rx="1.59" fill="#000" opacity="0.95"/>
<rect x="111.03" y="660.51" width="11.40" height="3.18" rx="1.59" fill="#000" opacity="0.95"/>
<rect x="123.22" y="660.47" width="11.40" height="3.26" rx="1.63" fill="#000" opacity="1.00"/>
<rect x="135.41" y="660.47" width="11.40" height="3.26" rx="1.63" fill="#000" opacity="1.00"/>
</g></g>
<rect x="150.40" y="599.60" width="121.00" height="15.70" fill="#d4d4d4" stroke="none" stroke-width="1"/>
<g clip-path="url(#cs5)"><g filter="url(#blurE)">
<rect x="151.25" y="604.67" width="10.40" height="3.06" rx="1.53" fill="#111" opacity="0.70"/>
<rect x="163.35" y="604.84" width="10.40" height="2.72" rx="1.36" fill="#111" opacity="0.50"/>
<rect x="175.45" y="604.71" width="10.40" height="2.98" rx="1.49" fill="#111" opacity="0.65"/>
<rect x="187.55" y="604.50" width="10.40" height="3.40" rx="1.70" fill="#111" opacity="0.90"/>
<rect x="199.65" y="604.46" width="10.40" height="3.48" rx="1.74" fill="#111" opacity="0.95"/>
<rect x="211.75" y="604.42" width="10.40" height="3.57" rx="1.78" fill="#111" opacity="1.00"/>
<rect x="223.85" y="604.42" width="10.40" height="3.57" rx="1.78" fill="#111" opacity="1.00"/>
<rect x="235.95" y="604.42" width="10.40" height="3.57" rx="1.78" fill="#111" opacity="1.00"/>
<rect x="248.05" y="604.42" width="10.40" height="3.57" rx="1.78" fill="#111" opacity="1.00"/>
<rect x="260.15" y="604.46" width="10.40" height="3.48" rx="1.74" fill="#111" opacity="0.95"/>
</g></g>
<rect x="150.40" y="618.40" width="121.00" height="15.70" fill="#d6d6d6" stroke="none" stroke-width="1"/>
<g clip-path="url(#cs6)"><g filter="url(#blurE)">
<ellipse cx="156.45" cy="624.10" rx="5.0" ry="1.20" fill="#000" opacity="0.88"/>
<ellipse cx="156.45" cy="627.50" rx="5.0" ry="1.28" fill="#000" opacity="0.80"/>
<ellipse cx="168.55" cy="624.10" rx="5.0" ry="1.18" fill="#000" opacity="0.83"/>
<ellipse cx="168.55" cy="627.50" rx="5.0" ry="1.25" fill="#000" opacity="0.75"/>
<ellipse cx="180.65" cy="624.10" rx="5.0" ry="1.18" fill="#000" opacity="0.83"/>
<ellipse cx="180.65" cy="627.50" rx="5.0" ry="1.25" fill="#000" opacity="0.75"/>
<ellipse cx="192.75" cy="624.10" rx="5.0" ry="1.27" fill="#000" opacity="1.00"/>
<ellipse cx="192.75" cy="627.50" rx="5.0" ry="1.37" fill="#000" opacity="0.95"/>
<ellipse cx="204.85" cy="624.10" rx="5.0" ry="1.27" fill="#000" opacity="1.00"/>
<ellipse cx="204.85" cy="627.50" rx="5.0" ry="1.37" fill="#000" opacity="0.95"/>
<ellipse cx="216.95" cy="624.10" rx="5.0" ry="1.30" fill="#000" opacity="1.00"/>
<ellipse cx="216.95" cy="627.50" rx="5.0" ry="1.40" fill="#000" opacity="1.00"/>
<ellipse cx="229.05" cy="624.10" rx="5.0" ry="1.27" fill="#000" opacity="1.00"/>
<ellipse cx="229.05" cy="627.50" rx="5.0" ry="1.37" fill="#000" opacity="0.95"/>
<ellipse cx="241.15" cy="624.10" rx="5.0" ry="1.25" fill="#000" opacity="0.99"/>
<ellipse cx="241.15" cy="627.50" rx="5.0" ry="1.34" fill="#000" opacity="0.90"/>
<ellipse cx="253.25" cy="624.10" rx="5.0" ry="1.25" fill="#000" opacity="0.99"/>
<ellipse cx="253.25" cy="627.50" rx="5.0" ry="1.34" fill="#000" opacity="0.90"/>
<ellipse cx="265.35" cy="624.10" rx="5.0" ry="1.00" fill="#000" opacity="0.44"/>
</g></g>
<rect x="150.40" y="637.30" width="121.00" height="15.70" fill="#d2d2d2" stroke="none" stroke-width="1"/>
<g clip-path="url(#cs7)"><g filter="url(#blurE)">
<rect x="150.85" y="642.65" width="11.20" height="4.50" rx="2.20" fill="#000" opacity="0.45"/>
<rect x="162.95" y="642.43" width="11.20" height="4.93" rx="2.20" fill="#000" opacity="0.60"/>
<rect x="175.05" y="642.43" width="11.20" height="4.93" rx="2.20" fill="#000" opacity="0.60"/>
<rect x="187.15" y="642.22" width="11.20" height="5.37" rx="2.20" fill="#000" opacity="0.75"/>
<rect x="199.25" y="642.07" width="11.20" height="5.66" rx="2.20" fill="#000" opacity="0.85"/>
<rect x="211.35" y="641.86" width="11.20" height="6.09" rx="2.20" fill="#000" opacity="1.00"/>
<rect x="223.45" y="641.86" width="11.20" height="6.09" rx="2.20" fill="#000" opacity="1.00"/>
<rect x="235.55" y="641.86" width="11.20" height="6.09" rx="2.20" fill="#000" opacity="1.00"/>
<rect x="247.65" y="641.86" width="11.20" height="6.09" rx="2.20" fill="#000" opacity="1.00"/>
<rect x="259.75" y="641.86" width="11.20" height="6.09" rx="2.20" fill="#000" opacity="1.00"/>
</g></g>
<rect x="150.40" y="656.10" width="121.00" height="15.70" fill="#d4d4d4" stroke="none" stroke-width="1"/>
<g clip-path="url(#cs8)"><g filter="url(#blurE)">
<rect x="150.95" y="661.12" width="11.00" height="3.15" rx="1.58" fill="#000" opacity="1.00"/>
<rect x="163.05" y="661.12" width="11.00" height="3.15" rx="1.58" fill="#000" opacity="1.00"/>
<rect x="175.15" y="661.12" width="11.00" height="3.15" rx="1.58" fill="#000" opacity="1.00"/>
<rect x="187.25" y="661.12" width="11.00" height="3.15" rx="1.58" fill="#000" opacity="1.00"/>
<rect x="199.35" y="661.12" width="11.00" height="3.15" rx="1.58" fill="#000" opacity="1.00"/>
<rect x="211.45" y="661.12" width="11.00" height="3.15" rx="1.58" fill="#000" opacity="1.00"/>
<rect x="223.55" y="661.12" width="11.00" height="3.15" rx="1.58" fill="#000" opacity="1.00"/>
<rect x="235.65" y="661.12" width="11.00" height="3.15" rx="1.58" fill="#000" opacity="1.00"/>
<rect x="247.75" y="661.12" width="11.00" height="3.15" rx="1.58" fill="#000" opacity="1.00"/>
<rect x="259.85" y="661.12" width="11.00" height="3.15" rx="1.58" fill="#000" opacity="1.00"/>
</g></g>
<text transform="translate(272.20,609.90)" font-size="8.0" text-anchor="start" fill="#111" stroke="#111" stroke-width="0.24">p53</text>
<text transform="translate(281.20,628.80)" font-size="7.9" text-anchor="start" fill="#111" stroke="#111" stroke-width="0.24">pp53 Ser15</text>
<path d="M273.2 626.1L276.9 623.7V625.4H280.2V626.8H276.9V628.5Z" fill="#111"/>
<text transform="translate(272.20,647.60)" font-size="8.0" text-anchor="start" fill="#111" stroke="#111" stroke-width="0.24">p21</text>
<text transform="translate(272.20,666.40)" font-size="8.0" text-anchor="start" fill="#111" stroke="#111" stroke-width="0.24">Actin</text>
</g>
<path d="M0 0H520V679H0Z M1 1V678H519V1Z" fill="#000" fill-rule="evenodd"/>
</svg></body></html>
